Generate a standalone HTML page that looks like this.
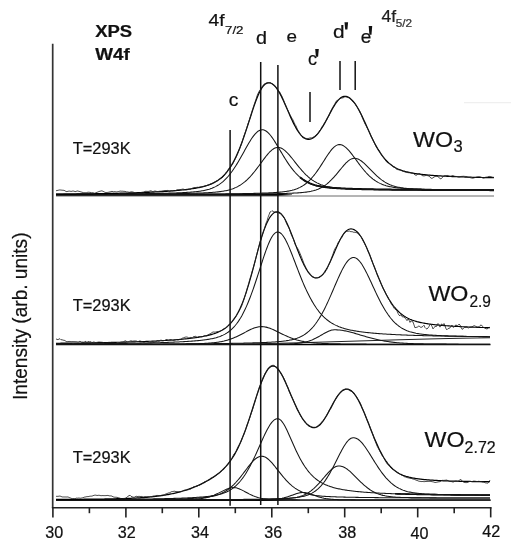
<!DOCTYPE html>
<html><head><meta charset="utf-8"><title>XPS W4f</title>
<style>
html,body{margin:0;padding:0;background:#fff;}
svg{display:block;font-family:"Liberation Sans",sans-serif;fill:#111;}
text{stroke:#111;stroke-width:0.22px;}
</style></head>
<body>
<svg width="511" height="550" viewBox="0 0 511 550">
<rect width="511" height="550" fill="#fff"/>
<path d="M464 102.6 H511" stroke="#efefef" stroke-width="1.2"/>
<g>
<path d="M56 196.0 H494" stroke="#5a5a5a" stroke-width="0.9" fill="none"/>
<path d="M56 194.7 H277" stroke="#000" stroke-width="2.0" fill="none"/>
<path d="M277 193.7 L292 194.39999999999998 L292 195.0 L277 195.7z" fill="#000" stroke="none"/>
<path d="M300.0 177.18 L301.0 178.00 L302.0 178.78 L303.0 179.50 L304.0 180.18 L305.0 180.81 L306.0 181.41 L307.0 181.96 L308.0 182.47 L309.0 182.94 L310.0 183.38 L311.0 183.79 L312.0 184.17 L313.0 184.52 L314.0 184.84 L315.0 185.14 L316.0 185.41 L317.0 185.67 L318.0 185.90 L319.0 186.12 L320.0 186.32 L321.0 186.50 L322.0 186.67 L323.0 186.83 L324.0 186.98 L325.0 187.11 L326.0 187.24 L327.0 187.35 L328.0 187.46 L329.0 187.56 L330.0 187.66 L331.0 187.75 L332.0 187.83 L333.0 187.91 L334.0 187.98 L335.0 188.05 L336.0 188.12 L337.0 188.18 L338.0 188.24 L339.0 188.30 L340.0 188.35 L341.0 188.40 L342.0 188.45 L343.0 188.50 L344.0 188.54 L345.0 188.59 L346.0 188.63 L347.0 188.67 L348.0 188.71 L349.0 188.74 L350.0 188.78 L351.0 188.81 L352.0 188.85 L353.0 188.88 L354.0 188.91 L355.0 188.94 L356.0 188.97 L357.0 189.00 L358.0 189.03 L359.0 189.05 L360.0 189.08 L361.0 189.11 L362.0 189.13 L363.0 189.15 L364.0 189.18 L365.0 189.20 L366.0 189.22 L367.0 189.24 L368.0 189.26 L369.0 189.28 L370.0 189.30 L371.0 189.32 L372.0 189.34 L373.0 189.36 L374.0 189.38 L375.0 189.39 L376.0 189.41 L377.0 189.43 L378.0 189.44 L379.0 189.46 L380.0 189.47 L381.0 189.49 L382.0 189.50 L383.0 189.52 L384.0 189.53 L385.0 189.54 L386.0 189.56 L387.0 189.57 L388.0 189.58 L389.0 189.60 L390.0 189.61 L391.0 189.62 L392.0 189.63 L393.0 189.64 L394.0 189.65 L395.0 189.66 L396.0 189.67 L397.0 189.68 L398.0 189.69 L399.0 189.70 L400.0 189.71 L401.0 189.72 L402.0 189.73 L403.0 189.74 L404.0 189.75 L405.0 189.76 L406.0 189.77 L407.0 189.77 L408.0 189.78 L409.0 189.79 L410.0 189.80 L411.0 189.81 L412.0 189.81 L413.0 189.82 L414.0 189.83 L415.0 189.84 L416.0 189.84 L417.0 189.85 L418.0 189.86 L419.0 189.86 L420.0 189.87 L421.0 189.87 L422.0 189.88 L423.0 189.89 L424.0 189.89 L425.0 189.90 L426.0 189.90 L427.0 189.91 L428.0 189.92 L429.0 189.92 L430.0 189.93 L431.0 189.93 L432.0 189.94 L433.0 189.94 L434.0 189.95 L435.0 189.95 L436.0 189.96 L437.0 189.96 L438.0 189.97 L439.0 189.97 L440.0 189.97 L441.0 189.98 L442.0 189.98 L443.0 189.99 L444.0 189.99 L445.0 190.00 L446.0 190.00 L447.0 190.00 L448.0 190.01 L449.0 190.01 L450.0 190.02 L451.0 190.02 L452.0 190.02 L453.0 190.03 L454.0 190.03 L455.0 190.03 L456.0 190.04 L457.0 190.04 L458.0 190.04 L459.0 190.05 L460.0 190.05 L461.0 190.05 L462.0 190.06 L463.0 190.06 L464.0 190.06 L465.0 190.06 L466.0 190.07 L467.0 190.07 L468.0 190.07 L469.0 190.08 L470.0 190.08 L471.0 190.08 L472.0 190.08 L473.0 190.09 L474.0 190.09 L475.0 190.09 L476.0 190.09 L477.0 190.10 L478.0 190.10 L479.0 190.10 L480.0 190.10 L481.0 190.11 L482.0 190.11 L483.0 190.11 L484.0 190.11 L485.0 190.12 L486.0 190.12 L487.0 190.12 L488.0 190.12 L489.0 190.12 L490.0 190.13 L491.0 190.13 L492.0 190.13 L493.0 190.13 L494.0 190.13" stroke="#000" stroke-width="2.0" fill="none"/>
<path d="M56.0 194.31 L57.0 194.30 L58.0 194.30 L59.0 194.30 L60.0 194.29 L61.0 194.29 L62.0 194.29 L63.0 194.28 L64.0 194.28 L65.0 194.27 L66.0 194.27 L67.0 194.27 L68.0 194.26 L69.0 194.26 L70.0 194.26 L71.0 194.25 L72.0 194.25 L73.0 194.24 L74.0 194.24 L75.0 194.24 L76.0 194.23 L77.0 194.23 L78.0 194.22 L79.0 194.22 L80.0 194.21 L81.0 194.21 L82.0 194.21 L83.0 194.20 L84.0 194.20 L85.0 194.19 L86.0 194.19 L87.0 194.18 L88.0 194.18 L89.0 194.17 L90.0 194.17 L91.0 194.16 L92.0 194.16 L93.0 194.15 L94.0 194.14 L95.0 194.14 L96.0 194.13 L97.0 194.13 L98.0 194.12 L99.0 194.11 L100.0 194.11 L101.0 194.10 L102.0 194.10 L103.0 194.09 L104.0 194.08 L105.0 194.08 L106.0 194.07 L107.0 194.06 L108.0 194.05 L109.0 194.05 L110.0 194.04 L111.0 194.03 L112.0 194.02 L113.0 194.02 L114.0 194.01 L115.0 194.00 L116.0 193.99 L117.0 193.98 L118.0 193.97 L119.0 193.97 L120.0 193.96 L121.0 193.95 L122.0 193.94 L123.0 193.93 L124.0 193.92 L125.0 193.91 L126.0 193.90 L127.0 193.89 L128.0 193.88 L129.0 193.87 L130.0 193.86 L131.0 193.85 L132.0 193.83 L133.0 193.82 L134.0 193.81 L135.0 193.80 L136.0 193.78 L137.0 193.77 L138.0 193.76 L139.0 193.75 L140.0 193.73 L141.0 193.72 L142.0 193.70 L143.0 193.69 L144.0 193.67 L145.0 193.66 L146.0 193.64 L147.0 193.63 L148.0 193.61 L149.0 193.59 L150.0 193.57 L151.0 193.56 L152.0 193.54 L153.0 193.52 L154.0 193.50 L155.0 193.48 L156.0 193.46 L157.0 193.44 L158.0 193.42 L159.0 193.40 L160.0 193.37 L161.0 193.35 L162.0 193.33 L163.0 193.30 L164.0 193.28 L165.0 193.25 L166.0 193.22 L167.0 193.20 L168.0 193.17 L169.0 193.14 L170.0 193.11 L171.0 193.08 L172.0 193.05 L173.0 193.01 L174.0 192.98 L175.0 192.94 L176.0 192.91 L177.0 192.87 L178.0 192.83 L179.0 192.79 L180.0 192.74 L181.0 192.70 L182.0 192.65 L183.0 192.60 L184.0 192.55 L185.0 192.50 L186.0 192.44 L187.0 192.38 L188.0 192.32 L189.0 192.26 L190.0 192.19 L191.0 192.11 L192.0 192.03 L193.0 191.95 L194.0 191.86 L195.0 191.76 L196.0 191.66 L197.0 191.54 L198.0 191.42 L199.0 191.29 L200.0 191.15 L201.0 191.00 L202.0 190.84 L203.0 190.66 L204.0 190.47 L205.0 190.26 L206.0 190.03 L207.0 189.78 L208.0 189.51 L209.0 189.22 L210.0 188.90 L211.0 188.55 L212.0 188.18 L213.0 187.77 L214.0 187.34 L215.0 186.86 L216.0 186.35 L217.0 185.80 L218.0 185.20 L219.0 184.57 L220.0 183.88 L221.0 183.15 L222.0 182.36 L223.0 181.53 L224.0 180.64 L225.0 179.69 L226.0 178.69 L227.0 177.63 L228.0 176.51 L229.0 175.33 L230.0 174.09 L231.0 172.80 L232.0 171.44 L233.0 170.03 L234.0 168.57 L235.0 167.05 L236.0 165.48 L237.0 163.86 L238.0 162.21 L239.0 160.51 L240.0 158.78 L241.0 157.02 L242.0 155.23 L243.0 153.44 L244.0 151.63 L245.0 149.83 L246.0 148.03 L247.0 146.26 L248.0 144.51 L249.0 142.80 L250.0 141.15 L251.0 139.56 L252.0 138.05 L253.0 136.63 L254.0 135.31 L255.0 134.10 L256.0 133.03 L257.0 132.09 L258.0 131.30 L259.0 130.66 L260.0 130.20 L261.0 129.90 L262.0 129.77 L263.0 129.83 L264.0 130.05 L265.0 130.46 L266.0 131.02 L267.0 131.75 L268.0 132.62 L269.0 133.63 L270.0 134.76 L271.0 136.01 L272.0 137.35 L273.0 138.78 L274.0 140.29 L275.0 141.85 L276.0 143.46 L277.0 145.11 L278.0 146.79 L279.0 148.48 L280.0 150.18 L281.0 151.88 L282.0 153.56 L283.0 155.23 L284.0 156.88 L285.0 158.50 L286.0 160.08 L287.0 161.63 L288.0 163.13 L289.0 164.59 L290.0 166.00 L291.0 167.36 L292.0 168.67 L293.0 169.93 L294.0 171.13 L295.0 172.27 L296.0 173.36 L297.0 174.40 L298.0 175.38 L299.0 176.31 L300.0 177.18 L301.0 178.00 L302.0 178.78 L303.0 179.50 L304.0 180.18 L305.0 180.81 L306.0 181.41 L307.0 181.96 L308.0 182.47 L309.0 182.94 L310.0 183.38 L311.0 183.79 L312.0 184.17 L313.0 184.52 L314.0 184.84 L315.0 185.14 L316.0 185.41 L317.0 185.67 L318.0 185.90 L319.0 186.12 L320.0 186.32 L321.0 186.50 L322.0 186.67 L323.0 186.83 L324.0 186.98 L325.0 187.11 L326.0 187.24 L327.0 187.35 L328.0 187.46 L329.0 187.56 L330.0 187.66 L331.0 187.75 L332.0 187.83 L333.0 187.91 L334.0 187.98 L335.0 188.05 L336.0 188.12 L337.0 188.18 L338.0 188.24 L339.0 188.30 L340.0 188.35 L341.0 188.40 L342.0 188.45 L343.0 188.50 L344.0 188.54 L345.0 188.59 L346.0 188.63 L347.0 188.67 L348.0 188.71 L349.0 188.74 L350.0 188.78 L351.0 188.81 L352.0 188.85 L353.0 188.88 L354.0 188.91 L355.0 188.94 L356.0 188.97 L357.0 189.00 L358.0 189.03 L359.0 189.05 L360.0 189.08 L361.0 189.11 L362.0 189.13 L363.0 189.15 L364.0 189.18 L365.0 189.20 L366.0 189.22 L367.0 189.24 L368.0 189.26 L369.0 189.28 L370.0 189.30 L371.0 189.32 L372.0 189.34 L373.0 189.36 L374.0 189.38 L375.0 189.39 L376.0 189.41 L377.0 189.43 L378.0 189.44 L379.0 189.46 L380.0 189.47 L381.0 189.49 L382.0 189.50 L383.0 189.52 L384.0 189.53 L385.0 189.54 L386.0 189.56 L387.0 189.57 L388.0 189.58 L389.0 189.60 L390.0 189.61 L391.0 189.62 L392.0 189.63 L393.0 189.64 L394.0 189.65 L395.0 189.66 L396.0 189.67 L397.0 189.68 L398.0 189.69 L399.0 189.70 L400.0 189.71 L401.0 189.72 L402.0 189.73 L403.0 189.74 L404.0 189.75 L405.0 189.76 L406.0 189.77 L407.0 189.77 L408.0 189.78 L409.0 189.79 L410.0 189.80 L411.0 189.81 L412.0 189.81 L413.0 189.82 L414.0 189.83 L415.0 189.84 L416.0 189.84 L417.0 189.85 L418.0 189.86 L419.0 189.86 L420.0 189.87 L421.0 189.87 L422.0 189.88 L423.0 189.89 L424.0 189.89 L425.0 189.90 L426.0 189.90 L427.0 189.91 L428.0 189.92 L429.0 189.92 L430.0 189.93 L431.0 189.93 L432.0 189.94 L433.0 189.94 L434.0 189.95 L435.0 189.95 L436.0 189.96 L437.0 189.96 L438.0 189.97 L439.0 189.97 L440.0 189.97 L441.0 189.98 L442.0 189.98 L443.0 189.99 L444.0 189.99 L445.0 190.00 L446.0 190.00 L447.0 190.00 L448.0 190.01 L449.0 190.01 L450.0 190.02 L451.0 190.02 L452.0 190.02 L453.0 190.03 L454.0 190.03 L455.0 190.03 L456.0 190.04 L457.0 190.04 L458.0 190.04 L459.0 190.05 L460.0 190.05 L461.0 190.05 L462.0 190.06 L463.0 190.06 L464.0 190.06 L465.0 190.06 L466.0 190.07 L467.0 190.07 L468.0 190.07 L469.0 190.08 L470.0 190.08 L471.0 190.08 L472.0 190.08 L473.0 190.09 L474.0 190.09 L475.0 190.09 L476.0 190.09 L477.0 190.10 L478.0 190.10 L479.0 190.10 L480.0 190.10 L481.0 190.11 L482.0 190.11 L483.0 190.11 L484.0 190.11 L485.0 190.12 L486.0 190.12 L487.0 190.12 L488.0 190.12 L489.0 190.12 L490.0 190.13 L491.0 190.13 L492.0 190.13 L493.0 190.13 L494.0 190.13" stroke="#151515" stroke-width="1.05" fill="none"/>
<path d="M56.0 194.41 L57.0 194.41 L58.0 194.41 L59.0 194.40 L60.0 194.40 L61.0 194.40 L62.0 194.40 L63.0 194.40 L64.0 194.39 L65.0 194.39 L66.0 194.39 L67.0 194.39 L68.0 194.38 L69.0 194.38 L70.0 194.38 L71.0 194.38 L72.0 194.38 L73.0 194.37 L74.0 194.37 L75.0 194.37 L76.0 194.37 L77.0 194.36 L78.0 194.36 L79.0 194.36 L80.0 194.35 L81.0 194.35 L82.0 194.35 L83.0 194.35 L84.0 194.34 L85.0 194.34 L86.0 194.34 L87.0 194.33 L88.0 194.33 L89.0 194.33 L90.0 194.32 L91.0 194.32 L92.0 194.32 L93.0 194.31 L94.0 194.31 L95.0 194.31 L96.0 194.30 L97.0 194.30 L98.0 194.30 L99.0 194.29 L100.0 194.29 L101.0 194.29 L102.0 194.28 L103.0 194.28 L104.0 194.27 L105.0 194.27 L106.0 194.27 L107.0 194.26 L108.0 194.26 L109.0 194.25 L110.0 194.25 L111.0 194.25 L112.0 194.24 L113.0 194.24 L114.0 194.23 L115.0 194.23 L116.0 194.22 L117.0 194.22 L118.0 194.21 L119.0 194.21 L120.0 194.20 L121.0 194.20 L122.0 194.19 L123.0 194.19 L124.0 194.18 L125.0 194.17 L126.0 194.17 L127.0 194.16 L128.0 194.16 L129.0 194.15 L130.0 194.14 L131.0 194.14 L132.0 194.13 L133.0 194.13 L134.0 194.12 L135.0 194.11 L136.0 194.10 L137.0 194.10 L138.0 194.09 L139.0 194.08 L140.0 194.08 L141.0 194.07 L142.0 194.06 L143.0 194.05 L144.0 194.04 L145.0 194.04 L146.0 194.03 L147.0 194.02 L148.0 194.01 L149.0 194.00 L150.0 193.99 L151.0 193.98 L152.0 193.97 L153.0 193.96 L154.0 193.95 L155.0 193.94 L156.0 193.93 L157.0 193.92 L158.0 193.91 L159.0 193.90 L160.0 193.89 L161.0 193.87 L162.0 193.86 L163.0 193.85 L164.0 193.84 L165.0 193.82 L166.0 193.81 L167.0 193.80 L168.0 193.78 L169.0 193.77 L170.0 193.75 L171.0 193.74 L172.0 193.72 L173.0 193.70 L174.0 193.69 L175.0 193.67 L176.0 193.65 L177.0 193.64 L178.0 193.62 L179.0 193.60 L180.0 193.58 L181.0 193.56 L182.0 193.54 L183.0 193.52 L184.0 193.49 L185.0 193.47 L186.0 193.45 L187.0 193.43 L188.0 193.40 L189.0 193.38 L190.0 193.35 L191.0 193.32 L192.0 193.29 L193.0 193.26 L194.0 193.23 L195.0 193.20 L196.0 193.17 L197.0 193.14 L198.0 193.10 L199.0 193.07 L200.0 193.03 L201.0 192.99 L202.0 192.95 L203.0 192.91 L204.0 192.86 L205.0 192.82 L206.0 192.77 L207.0 192.71 L208.0 192.66 L209.0 192.60 L210.0 192.54 L211.0 192.47 L212.0 192.40 L213.0 192.33 L214.0 192.25 L215.0 192.17 L216.0 192.07 L217.0 191.98 L218.0 191.87 L219.0 191.76 L220.0 191.63 L221.0 191.50 L222.0 191.35 L223.0 191.20 L224.0 191.02 L225.0 190.84 L226.0 190.64 L227.0 190.42 L228.0 190.18 L229.0 189.92 L230.0 189.64 L231.0 189.34 L232.0 189.01 L233.0 188.65 L234.0 188.26 L235.0 187.84 L236.0 187.39 L237.0 186.91 L238.0 186.39 L239.0 185.83 L240.0 185.23 L241.0 184.59 L242.0 183.91 L243.0 183.18 L244.0 182.41 L245.0 181.60 L246.0 180.74 L247.0 179.83 L248.0 178.87 L249.0 177.87 L250.0 176.83 L251.0 175.74 L252.0 174.61 L253.0 173.43 L254.0 172.22 L255.0 170.97 L256.0 169.69 L257.0 168.39 L258.0 167.05 L259.0 165.70 L260.0 164.34 L261.0 162.97 L262.0 161.60 L263.0 160.24 L264.0 158.90 L265.0 157.58 L266.0 156.29 L267.0 155.05 L268.0 153.87 L269.0 152.76 L270.0 151.72 L271.0 150.77 L272.0 149.93 L273.0 149.19 L274.0 148.58 L275.0 148.09 L276.0 147.73 L277.0 147.52 L278.0 147.44 L279.0 147.51 L280.0 147.71 L281.0 148.05 L282.0 148.52 L283.0 149.11 L284.0 149.82 L285.0 150.63 L286.0 151.53 L287.0 152.51 L288.0 153.56 L289.0 154.67 L290.0 155.84 L291.0 157.04 L292.0 158.27 L293.0 159.52 L294.0 160.79 L295.0 162.06 L296.0 163.32 L297.0 164.58 L298.0 165.83 L299.0 167.05 L300.0 168.25 L301.0 169.43 L302.0 170.57 L303.0 171.68 L304.0 172.75 L305.0 173.78 L306.0 174.77 L307.0 175.71 L308.0 176.62 L309.0 177.48 L310.0 178.30 L311.0 179.08 L312.0 179.81 L313.0 180.50 L314.0 181.15 L315.0 181.75 L316.0 182.32 L317.0 182.86 L318.0 183.35 L319.0 183.81 L320.0 184.24 L321.0 184.64 L322.0 185.00 L323.0 185.34 L324.0 185.65 L325.0 185.94 L326.0 186.21 L327.0 186.45 L328.0 186.68 L329.0 186.88 L330.0 187.07 L331.0 187.25 L332.0 187.41 L333.0 187.55 L334.0 187.69 L335.0 187.81 L336.0 187.93 L337.0 188.03 L338.0 188.13 L339.0 188.22 L340.0 188.31 L341.0 188.38 L342.0 188.46 L343.0 188.52 L344.0 188.59 L345.0 188.65 L346.0 188.70 L347.0 188.75 L348.0 188.80 L349.0 188.85 L350.0 188.89 L351.0 188.93 L352.0 188.97 L353.0 189.01 L354.0 189.05 L355.0 189.08 L356.0 189.11 L357.0 189.14 L358.0 189.17 L359.0 189.20 L360.0 189.23 L361.0 189.26 L362.0 189.28 L363.0 189.31 L364.0 189.33 L365.0 189.36 L366.0 189.38 L367.0 189.40 L368.0 189.42 L369.0 189.44 L370.0 189.46 L371.0 189.48 L372.0 189.50 L373.0 189.52 L374.0 189.53 L375.0 189.55 L376.0 189.57 L377.0 189.58 L378.0 189.60 L379.0 189.61 L380.0 189.63 L381.0 189.64 L382.0 189.66 L383.0 189.67 L384.0 189.68 L385.0 189.70 L386.0 189.71 L387.0 189.72 L388.0 189.73 L389.0 189.74 L390.0 189.75 L391.0 189.77 L392.0 189.78 L393.0 189.79 L394.0 189.80 L395.0 189.81 L396.0 189.82 L397.0 189.82 L398.0 189.83 L399.0 189.84 L400.0 189.85 L401.0 189.86 L402.0 189.87 L403.0 189.88 L404.0 189.88 L405.0 189.89 L406.0 189.90 L407.0 189.91 L408.0 189.91 L409.0 189.92 L410.0 189.93 L411.0 189.93 L412.0 189.94 L413.0 189.95 L414.0 189.95 L415.0 189.96 L416.0 189.96 L417.0 189.97 L418.0 189.98 L419.0 189.98 L420.0 189.99 L421.0 189.99 L422.0 190.00 L423.0 190.00 L424.0 190.01 L425.0 190.01 L426.0 190.02 L427.0 190.02 L428.0 190.03 L429.0 190.03 L430.0 190.04 L431.0 190.04 L432.0 190.04 L433.0 190.05 L434.0 190.05 L435.0 190.06 L436.0 190.06 L437.0 190.06 L438.0 190.07 L439.0 190.07 L440.0 190.08 L441.0 190.08 L442.0 190.08 L443.0 190.09 L444.0 190.09 L445.0 190.09 L446.0 190.10 L447.0 190.10 L448.0 190.10 L449.0 190.11 L450.0 190.11 L451.0 190.11 L452.0 190.11 L453.0 190.12 L454.0 190.12 L455.0 190.12 L456.0 190.13 L457.0 190.13 L458.0 190.13 L459.0 190.13 L460.0 190.14 L461.0 190.14 L462.0 190.14 L463.0 190.14 L464.0 190.15 L465.0 190.15 L466.0 190.15 L467.0 190.15 L468.0 190.16 L469.0 190.16 L470.0 190.16 L471.0 190.16 L472.0 190.16 L473.0 190.17 L474.0 190.17 L475.0 190.17 L476.0 190.17 L477.0 190.17 L478.0 190.18 L479.0 190.18 L480.0 190.18 L481.0 190.18 L482.0 190.18 L483.0 190.18 L484.0 190.19 L485.0 190.19 L486.0 190.19 L487.0 190.19 L488.0 190.19 L489.0 190.19 L490.0 190.20 L491.0 190.20 L492.0 190.20 L493.0 190.20 L494.0 190.20" stroke="#151515" stroke-width="1.05" fill="none"/>
<path d="M56.0 194.49 L57.0 194.49 L58.0 194.49 L59.0 194.49 L60.0 194.49 L61.0 194.49 L62.0 194.49 L63.0 194.49 L64.0 194.49 L65.0 194.49 L66.0 194.49 L67.0 194.48 L68.0 194.48 L69.0 194.48 L70.0 194.48 L71.0 194.48 L72.0 194.48 L73.0 194.48 L74.0 194.48 L75.0 194.48 L76.0 194.47 L77.0 194.47 L78.0 194.47 L79.0 194.47 L80.0 194.47 L81.0 194.47 L82.0 194.47 L83.0 194.47 L84.0 194.47 L85.0 194.46 L86.0 194.46 L87.0 194.46 L88.0 194.46 L89.0 194.46 L90.0 194.46 L91.0 194.46 L92.0 194.46 L93.0 194.45 L94.0 194.45 L95.0 194.45 L96.0 194.45 L97.0 194.45 L98.0 194.45 L99.0 194.45 L100.0 194.44 L101.0 194.44 L102.0 194.44 L103.0 194.44 L104.0 194.44 L105.0 194.44 L106.0 194.43 L107.0 194.43 L108.0 194.43 L109.0 194.43 L110.0 194.43 L111.0 194.43 L112.0 194.43 L113.0 194.42 L114.0 194.42 L115.0 194.42 L116.0 194.42 L117.0 194.42 L118.0 194.41 L119.0 194.41 L120.0 194.41 L121.0 194.41 L122.0 194.41 L123.0 194.41 L124.0 194.40 L125.0 194.40 L126.0 194.40 L127.0 194.40 L128.0 194.40 L129.0 194.39 L130.0 194.39 L131.0 194.39 L132.0 194.39 L133.0 194.38 L134.0 194.38 L135.0 194.38 L136.0 194.38 L137.0 194.38 L138.0 194.37 L139.0 194.37 L140.0 194.37 L141.0 194.37 L142.0 194.36 L143.0 194.36 L144.0 194.36 L145.0 194.36 L146.0 194.35 L147.0 194.35 L148.0 194.35 L149.0 194.34 L150.0 194.34 L151.0 194.34 L152.0 194.34 L153.0 194.33 L154.0 194.33 L155.0 194.33 L156.0 194.32 L157.0 194.32 L158.0 194.32 L159.0 194.31 L160.0 194.31 L161.0 194.31 L162.0 194.30 L163.0 194.30 L164.0 194.30 L165.0 194.29 L166.0 194.29 L167.0 194.29 L168.0 194.28 L169.0 194.28 L170.0 194.28 L171.0 194.27 L172.0 194.27 L173.0 194.26 L174.0 194.26 L175.0 194.26 L176.0 194.25 L177.0 194.25 L178.0 194.24 L179.0 194.24 L180.0 194.23 L181.0 194.23 L182.0 194.22 L183.0 194.22 L184.0 194.21 L185.0 194.21 L186.0 194.20 L187.0 194.20 L188.0 194.19 L189.0 194.19 L190.0 194.18 L191.0 194.18 L192.0 194.17 L193.0 194.17 L194.0 194.16 L195.0 194.15 L196.0 194.15 L197.0 194.14 L198.0 194.13 L199.0 194.13 L200.0 194.12 L201.0 194.11 L202.0 194.11 L203.0 194.10 L204.0 194.09 L205.0 194.09 L206.0 194.08 L207.0 194.07 L208.0 194.06 L209.0 194.06 L210.0 194.05 L211.0 194.04 L212.0 194.03 L213.0 194.02 L214.0 194.01 L215.0 194.00 L216.0 193.99 L217.0 193.98 L218.0 193.97 L219.0 193.96 L220.0 193.95 L221.0 193.94 L222.0 193.93 L223.0 193.92 L224.0 193.91 L225.0 193.90 L226.0 193.89 L227.0 193.87 L228.0 193.86 L229.0 193.85 L230.0 193.84 L231.0 193.82 L232.0 193.81 L233.0 193.80 L234.0 193.78 L235.0 193.77 L236.0 193.75 L237.0 193.73 L238.0 193.72 L239.0 193.70 L240.0 193.68 L241.0 193.67 L242.0 193.65 L243.0 193.63 L244.0 193.61 L245.0 193.59 L246.0 193.57 L247.0 193.55 L248.0 193.53 L249.0 193.51 L250.0 193.48 L251.0 193.46 L252.0 193.44 L253.0 193.41 L254.0 193.38 L255.0 193.36 L256.0 193.33 L257.0 193.30 L258.0 193.27 L259.0 193.24 L260.0 193.21 L261.0 193.18 L262.0 193.14 L263.0 193.11 L264.0 193.07 L265.0 193.03 L266.0 192.99 L267.0 192.95 L268.0 192.91 L269.0 192.86 L270.0 192.81 L271.0 192.76 L272.0 192.71 L273.0 192.65 L274.0 192.59 L275.0 192.53 L276.0 192.46 L277.0 192.39 L278.0 192.31 L279.0 192.23 L280.0 192.14 L281.0 192.05 L282.0 191.95 L283.0 191.84 L284.0 191.72 L285.0 191.59 L286.0 191.45 L287.0 191.29 L288.0 191.12 L289.0 190.94 L290.0 190.74 L291.0 190.52 L292.0 190.28 L293.0 190.01 L294.0 189.73 L295.0 189.41 L296.0 189.07 L297.0 188.69 L298.0 188.28 L299.0 187.83 L300.0 187.35 L301.0 186.82 L302.0 186.25 L303.0 185.63 L304.0 184.97 L305.0 184.25 L306.0 183.48 L307.0 182.66 L308.0 181.78 L309.0 180.85 L310.0 179.86 L311.0 178.81 L312.0 177.70 L313.0 176.53 L314.0 175.31 L315.0 174.04 L316.0 172.71 L317.0 171.33 L318.0 169.91 L319.0 168.44 L320.0 166.94 L321.0 165.41 L322.0 163.85 L323.0 162.28 L324.0 160.70 L325.0 159.13 L326.0 157.56 L327.0 156.03 L328.0 154.53 L329.0 153.08 L330.0 151.70 L331.0 150.40 L332.0 149.20 L333.0 148.10 L334.0 147.13 L335.0 146.31 L336.0 145.63 L337.0 145.12 L338.0 144.78 L339.0 144.61 L340.0 144.61 L341.0 144.76 L342.0 145.06 L343.0 145.51 L344.0 146.09 L345.0 146.80 L346.0 147.63 L347.0 148.56 L348.0 149.59 L349.0 150.70 L350.0 151.88 L351.0 153.12 L352.0 154.41 L353.0 155.73 L354.0 157.07 L355.0 158.44 L356.0 159.81 L357.0 161.18 L358.0 162.54 L359.0 163.89 L360.0 165.21 L361.0 166.52 L362.0 167.79 L363.0 169.03 L364.0 170.23 L365.0 171.39 L366.0 172.51 L367.0 173.58 L368.0 174.61 L369.0 175.60 L370.0 176.53 L371.0 177.42 L372.0 178.26 L373.0 179.05 L374.0 179.80 L375.0 180.50 L376.0 181.16 L377.0 181.77 L378.0 182.34 L379.0 182.88 L380.0 183.37 L381.0 183.83 L382.0 184.26 L383.0 184.65 L384.0 185.02 L385.0 185.35 L386.0 185.66 L387.0 185.94 L388.0 186.20 L389.0 186.44 L390.0 186.66 L391.0 186.86 L392.0 187.05 L393.0 187.22 L394.0 187.37 L395.0 187.52 L396.0 187.65 L397.0 187.77 L398.0 187.88 L399.0 187.98 L400.0 188.08 L401.0 188.17 L402.0 188.25 L403.0 188.32 L404.0 188.40 L405.0 188.46 L406.0 188.52 L407.0 188.58 L408.0 188.64 L409.0 188.69 L410.0 188.74 L411.0 188.78 L412.0 188.83 L413.0 188.87 L414.0 188.91 L415.0 188.95 L416.0 188.98 L417.0 189.02 L418.0 189.05 L419.0 189.08 L420.0 189.11 L421.0 189.14 L422.0 189.17 L423.0 189.20 L424.0 189.22 L425.0 189.25 L426.0 189.27 L427.0 189.30 L428.0 189.32 L429.0 189.34 L430.0 189.37 L431.0 189.39 L432.0 189.41 L433.0 189.43 L434.0 189.44 L435.0 189.46 L436.0 189.48 L437.0 189.50 L438.0 189.51 L439.0 189.53 L440.0 189.55 L441.0 189.56 L442.0 189.58 L443.0 189.59 L444.0 189.61 L445.0 189.62 L446.0 189.63 L447.0 189.65 L448.0 189.66 L449.0 189.67 L450.0 189.68 L451.0 189.69 L452.0 189.71 L453.0 189.72 L454.0 189.73 L455.0 189.74 L456.0 189.75 L457.0 189.76 L458.0 189.77 L459.0 189.78 L460.0 189.79 L461.0 189.80 L462.0 189.81 L463.0 189.81 L464.0 189.82 L465.0 189.83 L466.0 189.84 L467.0 189.85 L468.0 189.85 L469.0 189.86 L470.0 189.87 L471.0 189.88 L472.0 189.88 L473.0 189.89 L474.0 189.90 L475.0 189.90 L476.0 189.91 L477.0 189.92 L478.0 189.92 L479.0 189.93 L480.0 189.93 L481.0 189.94 L482.0 189.95 L483.0 189.95 L484.0 189.96 L485.0 189.96 L486.0 189.97 L487.0 189.97 L488.0 189.98 L489.0 189.98 L490.0 189.99 L491.0 189.99 L492.0 190.00 L493.0 190.00 L494.0 190.00" stroke="#151515" stroke-width="1.05" fill="none"/>
<path d="M56.0 194.54 L57.0 194.54 L58.0 194.54 L59.0 194.54 L60.0 194.54 L61.0 194.54 L62.0 194.54 L63.0 194.54 L64.0 194.54 L65.0 194.54 L66.0 194.54 L67.0 194.54 L68.0 194.53 L69.0 194.53 L70.0 194.53 L71.0 194.53 L72.0 194.53 L73.0 194.53 L74.0 194.53 L75.0 194.53 L76.0 194.53 L77.0 194.53 L78.0 194.53 L79.0 194.53 L80.0 194.53 L81.0 194.53 L82.0 194.53 L83.0 194.52 L84.0 194.52 L85.0 194.52 L86.0 194.52 L87.0 194.52 L88.0 194.52 L89.0 194.52 L90.0 194.52 L91.0 194.52 L92.0 194.52 L93.0 194.52 L94.0 194.52 L95.0 194.52 L96.0 194.52 L97.0 194.51 L98.0 194.51 L99.0 194.51 L100.0 194.51 L101.0 194.51 L102.0 194.51 L103.0 194.51 L104.0 194.51 L105.0 194.51 L106.0 194.51 L107.0 194.51 L108.0 194.51 L109.0 194.50 L110.0 194.50 L111.0 194.50 L112.0 194.50 L113.0 194.50 L114.0 194.50 L115.0 194.50 L116.0 194.50 L117.0 194.50 L118.0 194.50 L119.0 194.49 L120.0 194.49 L121.0 194.49 L122.0 194.49 L123.0 194.49 L124.0 194.49 L125.0 194.49 L126.0 194.49 L127.0 194.49 L128.0 194.48 L129.0 194.48 L130.0 194.48 L131.0 194.48 L132.0 194.48 L133.0 194.48 L134.0 194.48 L135.0 194.48 L136.0 194.48 L137.0 194.47 L138.0 194.47 L139.0 194.47 L140.0 194.47 L141.0 194.47 L142.0 194.47 L143.0 194.47 L144.0 194.46 L145.0 194.46 L146.0 194.46 L147.0 194.46 L148.0 194.46 L149.0 194.46 L150.0 194.46 L151.0 194.45 L152.0 194.45 L153.0 194.45 L154.0 194.45 L155.0 194.45 L156.0 194.45 L157.0 194.44 L158.0 194.44 L159.0 194.44 L160.0 194.44 L161.0 194.44 L162.0 194.44 L163.0 194.43 L164.0 194.43 L165.0 194.43 L166.0 194.43 L167.0 194.43 L168.0 194.42 L169.0 194.42 L170.0 194.42 L171.0 194.42 L172.0 194.42 L173.0 194.41 L174.0 194.41 L175.0 194.41 L176.0 194.41 L177.0 194.41 L178.0 194.40 L179.0 194.40 L180.0 194.40 L181.0 194.40 L182.0 194.39 L183.0 194.39 L184.0 194.39 L185.0 194.39 L186.0 194.38 L187.0 194.38 L188.0 194.38 L189.0 194.38 L190.0 194.37 L191.0 194.37 L192.0 194.37 L193.0 194.36 L194.0 194.36 L195.0 194.36 L196.0 194.36 L197.0 194.35 L198.0 194.35 L199.0 194.35 L200.0 194.34 L201.0 194.34 L202.0 194.34 L203.0 194.33 L204.0 194.33 L205.0 194.33 L206.0 194.32 L207.0 194.32 L208.0 194.31 L209.0 194.31 L210.0 194.31 L211.0 194.30 L212.0 194.30 L213.0 194.29 L214.0 194.29 L215.0 194.29 L216.0 194.28 L217.0 194.28 L218.0 194.27 L219.0 194.27 L220.0 194.26 L221.0 194.26 L222.0 194.25 L223.0 194.25 L224.0 194.24 L225.0 194.24 L226.0 194.23 L227.0 194.23 L228.0 194.22 L229.0 194.21 L230.0 194.21 L231.0 194.20 L232.0 194.20 L233.0 194.19 L234.0 194.18 L235.0 194.18 L236.0 194.17 L237.0 194.16 L238.0 194.16 L239.0 194.15 L240.0 194.14 L241.0 194.13 L242.0 194.12 L243.0 194.12 L244.0 194.11 L245.0 194.10 L246.0 194.09 L247.0 194.08 L248.0 194.07 L249.0 194.06 L250.0 194.05 L251.0 194.04 L252.0 194.03 L253.0 194.02 L254.0 194.01 L255.0 194.00 L256.0 193.99 L257.0 193.98 L258.0 193.97 L259.0 193.95 L260.0 193.94 L261.0 193.93 L262.0 193.91 L263.0 193.90 L264.0 193.89 L265.0 193.87 L266.0 193.85 L267.0 193.84 L268.0 193.82 L269.0 193.81 L270.0 193.79 L271.0 193.77 L272.0 193.75 L273.0 193.73 L274.0 193.71 L275.0 193.69 L276.0 193.67 L277.0 193.65 L278.0 193.63 L279.0 193.60 L280.0 193.58 L281.0 193.55 L282.0 193.53 L283.0 193.50 L284.0 193.47 L285.0 193.44 L286.0 193.41 L287.0 193.37 L288.0 193.34 L289.0 193.30 L290.0 193.26 L291.0 193.22 L292.0 193.18 L293.0 193.14 L294.0 193.09 L295.0 193.04 L296.0 192.98 L297.0 192.92 L298.0 192.86 L299.0 192.79 L300.0 192.72 L301.0 192.64 L302.0 192.55 L303.0 192.45 L304.0 192.35 L305.0 192.23 L306.0 192.11 L307.0 191.97 L308.0 191.82 L309.0 191.65 L310.0 191.47 L311.0 191.27 L312.0 191.04 L313.0 190.80 L314.0 190.53 L315.0 190.23 L316.0 189.91 L317.0 189.55 L318.0 189.16 L319.0 188.74 L320.0 188.27 L321.0 187.77 L322.0 187.23 L323.0 186.64 L324.0 186.01 L325.0 185.33 L326.0 184.60 L327.0 183.83 L328.0 183.00 L329.0 182.13 L330.0 181.21 L331.0 180.25 L332.0 179.23 L333.0 178.18 L334.0 177.09 L335.0 175.96 L336.0 174.79 L337.0 173.60 L338.0 172.39 L339.0 171.17 L340.0 169.94 L341.0 168.71 L342.0 167.50 L343.0 166.30 L344.0 165.15 L345.0 164.04 L346.0 162.99 L347.0 162.01 L348.0 161.12 L349.0 160.33 L350.0 159.66 L351.0 159.11 L352.0 158.70 L353.0 158.42 L354.0 158.29 L355.0 158.30 L356.0 158.43 L357.0 158.68 L358.0 159.04 L359.0 159.52 L360.0 160.10 L361.0 160.76 L362.0 161.51 L363.0 162.33 L364.0 163.21 L365.0 164.13 L366.0 165.10 L367.0 166.09 L368.0 167.11 L369.0 168.14 L370.0 169.17 L371.0 170.20 L372.0 171.23 L373.0 172.24 L374.0 173.23 L375.0 174.20 L376.0 175.14 L377.0 176.05 L378.0 176.93 L379.0 177.78 L380.0 178.59 L381.0 179.37 L382.0 180.11 L383.0 180.81 L384.0 181.47 L385.0 182.09 L386.0 182.67 L387.0 183.22 L388.0 183.73 L389.0 184.21 L390.0 184.65 L391.0 185.06 L392.0 185.44 L393.0 185.79 L394.0 186.11 L395.0 186.40 L396.0 186.67 L397.0 186.92 L398.0 187.15 L399.0 187.36 L400.0 187.55 L401.0 187.72 L402.0 187.88 L403.0 188.02 L404.0 188.15 L405.0 188.27 L406.0 188.38 L407.0 188.48 L408.0 188.57 L409.0 188.65 L410.0 188.73 L411.0 188.80 L412.0 188.86 L413.0 188.92 L414.0 188.98 L415.0 189.03 L416.0 189.08 L417.0 189.12 L418.0 189.16 L419.0 189.20 L420.0 189.24 L421.0 189.27 L422.0 189.31 L423.0 189.34 L424.0 189.37 L425.0 189.40 L426.0 189.42 L427.0 189.45 L428.0 189.47 L429.0 189.49 L430.0 189.52 L431.0 189.54 L432.0 189.56 L433.0 189.58 L434.0 189.60 L435.0 189.62 L436.0 189.63 L437.0 189.65 L438.0 189.67 L439.0 189.68 L440.0 189.70 L441.0 189.71 L442.0 189.73 L443.0 189.74 L444.0 189.75 L445.0 189.77 L446.0 189.78 L447.0 189.79 L448.0 189.80 L449.0 189.81 L450.0 189.82 L451.0 189.84 L452.0 189.85 L453.0 189.86 L454.0 189.87 L455.0 189.87 L456.0 189.88 L457.0 189.89 L458.0 189.90 L459.0 189.91 L460.0 189.92 L461.0 189.93 L462.0 189.93 L463.0 189.94 L464.0 189.95 L465.0 189.96 L466.0 189.96 L467.0 189.97 L468.0 189.98 L469.0 189.98 L470.0 189.99 L471.0 189.99 L472.0 190.00 L473.0 190.01 L474.0 190.01 L475.0 190.02 L476.0 190.02 L477.0 190.03 L478.0 190.03 L479.0 190.04 L480.0 190.04 L481.0 190.05 L482.0 190.05 L483.0 190.06 L484.0 190.06 L485.0 190.07 L486.0 190.07 L487.0 190.07 L488.0 190.08 L489.0 190.08 L490.0 190.09 L491.0 190.09 L492.0 190.09 L493.0 190.10 L494.0 190.10" stroke="#151515" stroke-width="1.05" fill="none"/>
<path d="M56.0 194.23 L57.0 194.22 L58.0 194.21 L59.0 194.20 L60.0 194.19 L61.0 194.18 L62.0 194.17 L63.0 194.16 L64.0 194.15 L65.0 194.13 L66.0 194.12 L67.0 194.11 L68.0 194.10 L69.0 194.09 L70.0 194.08 L71.0 194.07 L72.0 194.06 L73.0 194.04 L74.0 194.03 L75.0 194.02 L76.0 194.01 L77.0 193.99 L78.0 193.98 L79.0 193.97 L80.0 193.96 L81.0 193.94 L82.0 193.93 L83.0 193.91 L84.0 193.90 L85.0 193.89 L86.0 193.87 L87.0 193.86 L88.0 193.84 L89.0 193.83 L90.0 193.81 L91.0 193.80 L92.0 193.78 L93.0 193.77 L94.0 193.75 L95.0 193.73 L96.0 193.72 L97.0 193.70 L98.0 193.68 L99.0 193.67 L100.0 193.65 L101.0 193.63 L102.0 193.61 L103.0 193.59 L104.0 193.57 L105.0 193.56 L106.0 193.54 L107.0 193.52 L108.0 193.50 L109.0 193.48 L110.0 193.45 L111.0 193.43 L112.0 193.41 L113.0 193.39 L114.0 193.37 L115.0 193.35 L116.0 193.32 L117.0 193.30 L118.0 193.28 L119.0 193.25 L120.0 193.23 L121.0 193.20 L122.0 193.18 L123.0 193.15 L124.0 193.12 L125.0 193.10 L126.0 193.07 L127.0 193.04 L128.0 193.01 L129.0 192.98 L130.0 192.95 L131.0 192.92 L132.0 192.89 L133.0 192.86 L134.0 192.83 L135.0 192.80 L136.0 192.76 L137.0 192.73 L138.0 192.69 L139.0 192.66 L140.0 192.62 L141.0 192.58 L142.0 192.55 L143.0 192.51 L144.0 192.47 L145.0 192.43 L146.0 192.39 L147.0 192.35 L148.0 192.30 L149.0 192.26 L150.0 192.21 L151.0 192.17 L152.0 192.12 L153.0 192.07 L154.0 192.02 L155.0 191.97 L156.0 191.92 L157.0 191.87 L158.0 191.82 L159.0 191.76 L160.0 191.70 L161.0 191.65 L162.0 191.59 L163.0 191.53 L164.0 191.46 L165.0 191.40 L166.0 191.33 L167.0 191.27 L168.0 191.20 L169.0 191.13 L170.0 191.05 L171.0 190.98 L172.0 190.90 L173.0 190.82 L174.0 190.74 L175.0 190.66 L176.0 190.57 L177.0 190.48 L178.0 190.39 L179.0 190.30 L180.0 190.20 L181.0 190.10 L182.0 190.00 L183.0 189.89 L184.0 189.78 L185.0 189.67 L186.0 189.55 L187.0 189.43 L188.0 189.30 L189.0 189.17 L190.0 189.03 L191.0 188.89 L192.0 188.75 L193.0 188.60 L194.0 188.44 L195.0 188.27 L196.0 188.10 L197.0 187.92 L198.0 187.73 L199.0 187.53 L200.0 187.33 L201.0 187.11 L202.0 186.88 L203.0 186.63 L204.0 186.37 L205.0 186.10 L206.0 185.81 L207.0 185.50 L208.0 185.17 L209.0 184.82 L210.0 184.45 L211.0 184.05 L212.0 183.62 L213.0 183.16 L214.0 182.67 L215.0 182.14 L216.0 181.58 L217.0 180.97 L218.0 180.32 L219.0 179.61 L220.0 178.86 L221.0 178.05 L222.0 177.18 L223.0 176.24 L224.0 175.24 L225.0 174.17 L226.0 173.03 L227.0 171.80 L228.0 170.50 L229.0 169.10 L230.0 167.62 L231.0 166.05 L232.0 164.38 L233.0 162.62 L234.0 160.75 L235.0 158.78 L236.0 156.71 L237.0 154.54 L238.0 152.27 L239.0 149.89 L240.0 147.41 L241.0 144.83 L242.0 142.16 L243.0 139.40 L244.0 136.56 L245.0 133.64 L246.0 130.66 L247.0 127.62 L248.0 124.54 L249.0 121.43 L250.0 118.31 L251.0 115.20 L252.0 112.12 L253.0 109.08 L254.0 106.12 L255.0 103.26 L256.0 100.51 L257.0 97.91 L258.0 95.48 L259.0 93.23 L260.0 91.17 L261.0 89.34 L262.0 87.73 L263.0 86.34 L264.0 85.19 L265.0 84.27 L266.0 83.57 L267.0 83.10 L268.0 82.83 L269.0 82.77 L270.0 82.90 L271.0 83.22 L272.0 83.73 L273.0 84.41 L274.0 85.26 L275.0 86.27 L276.0 87.45 L277.0 88.79 L278.0 90.28 L279.0 91.92 L280.0 93.69 L281.0 95.59 L282.0 97.60 L283.0 99.70 L284.0 101.89 L285.0 104.13 L286.0 106.42 L287.0 108.74 L288.0 111.06 L289.0 113.36 L290.0 115.64 L291.0 117.87 L292.0 120.04 L293.0 122.14 L294.0 124.15 L295.0 126.06 L296.0 127.87 L297.0 129.56 L298.0 131.13 L299.0 132.58 L300.0 133.89 L301.0 135.06 L302.0 136.10 L303.0 136.99 L304.0 137.74 L305.0 138.34 L306.0 138.80 L307.0 139.11 L308.0 139.28 L309.0 139.30 L310.0 139.18 L311.0 138.92 L312.0 138.52 L313.0 137.98 L314.0 137.31 L315.0 136.51 L316.0 135.58 L317.0 134.54 L318.0 133.38 L319.0 132.10 L320.0 130.73 L321.0 129.26 L322.0 127.70 L323.0 126.06 L324.0 124.34 L325.0 122.57 L326.0 120.75 L327.0 118.89 L328.0 117.01 L329.0 115.11 L330.0 113.23 L331.0 111.36 L332.0 109.54 L333.0 107.77 L334.0 106.08 L335.0 104.48 L336.0 102.99 L337.0 101.62 L338.0 100.39 L339.0 99.32 L340.0 98.40 L341.0 97.64 L342.0 97.06 L343.0 96.65 L344.0 96.41 L345.0 96.33 L346.0 96.43 L347.0 96.68 L348.0 97.08 L349.0 97.63 L350.0 98.32 L351.0 99.15 L352.0 100.11 L353.0 101.19 L354.0 102.41 L355.0 103.74 L356.0 105.19 L357.0 106.76 L358.0 108.44 L359.0 110.23 L360.0 112.11 L361.0 114.08 L362.0 116.13 L363.0 118.25 L364.0 120.42 L365.0 122.62 L366.0 124.85 L367.0 127.09 L368.0 129.33 L369.0 131.55 L370.0 133.74 L371.0 135.89 L372.0 138.00 L373.0 140.05 L374.0 142.04 L375.0 143.97 L376.0 145.83 L377.0 147.61 L378.0 149.32 L379.0 150.95 L380.0 152.50 L381.0 153.98 L382.0 155.38 L383.0 156.71 L384.0 157.95 L385.0 159.13 L386.0 160.24 L387.0 161.27 L388.0 162.24 L389.0 163.15 L390.0 164.00 L391.0 164.79 L392.0 165.53 L393.0 166.21 L394.0 166.85 L395.0 167.44 L396.0 167.99 L397.0 168.50 L398.0 168.97 L399.0 169.41 L400.0 169.82 L401.0 170.20 L402.0 170.55 L403.0 170.88 L404.0 171.18 L405.0 171.47 L406.0 171.73 L407.0 171.98 L408.0 172.22 L409.0 172.44 L410.0 172.64 L411.0 172.84 L412.0 173.02 L413.0 173.19 L414.0 173.36 L415.0 173.52 L416.0 173.66 L417.0 173.81 L418.0 173.94 L419.0 174.07 L420.0 174.19 L421.0 174.31 L422.0 174.43 L423.0 174.54 L424.0 174.64 L425.0 174.74 L426.0 174.84 L427.0 174.93 L428.0 175.02 L429.0 175.11 L430.0 175.20 L431.0 175.28 L432.0 175.36 L433.0 175.44 L434.0 175.51 L435.0 175.58 L436.0 175.65 L437.0 175.72 L438.0 175.79 L439.0 175.85 L440.0 175.91 L441.0 175.98 L442.0 176.03 L443.0 176.09 L444.0 176.15 L445.0 176.20 L446.0 176.25 L447.0 176.31 L448.0 176.36 L449.0 176.40 L450.0 176.45 L451.0 176.50 L452.0 176.54 L453.0 176.59 L454.0 176.63 L455.0 176.67 L456.0 176.71 L457.0 176.75 L458.0 176.79 L459.0 176.83 L460.0 176.87 L461.0 176.90 L462.0 176.94 L463.0 176.97 L464.0 177.00 L465.0 177.04 L466.0 177.07 L467.0 177.10 L468.0 177.13 L469.0 177.16 L470.0 177.19 L471.0 177.22 L472.0 177.25 L473.0 177.27 L474.0 177.30 L475.0 177.33 L476.0 177.35 L477.0 177.38 L478.0 177.40 L479.0 177.43 L480.0 177.45 L481.0 177.47 L482.0 177.50 L483.0 177.52 L484.0 177.54 L485.0 177.56 L486.0 177.58 L487.0 177.60 L488.0 177.62 L489.0 177.64 L490.0 177.66 L491.0 177.68 L492.0 177.70 L493.0 177.72 L494.0 177.74" stroke="#000" stroke-width="1.25" fill="none"/>
<path d="M56.0 190.73 L57.0 190.54 L58.0 190.34 L59.0 190.02 L60.0 189.94 L61.0 190.08 L62.0 190.16 L63.0 190.28 L64.0 190.32 L65.0 190.81 L66.0 191.51 L67.0 191.62 L68.0 191.26 L69.0 191.15 L70.0 191.08 L71.0 191.51 L72.0 191.18 L73.0 191.00 L74.0 191.17 L75.0 191.59 L76.0 191.53 L77.0 190.91 L78.0 191.07 L79.0 191.38 L80.0 191.57 L81.0 191.97 L82.0 192.16 L83.0 192.58 L84.0 192.80 L85.0 192.59 L86.0 192.84 L87.0 192.56 L88.0 192.13 L89.0 192.34 L90.0 192.28 L91.0 192.68 L92.0 192.87 L93.0 192.53 L94.0 193.19 L95.0 193.19 L96.0 192.61 L97.0 192.31 L98.0 191.95 L99.0 191.53 L100.0 191.23 L101.0 191.00 L102.0 190.77 L103.0 191.42 L104.0 191.75 L105.0 192.43 L106.0 192.46 L107.0 192.50 L108.0 192.31 L109.0 192.11 L110.0 191.86 L111.0 191.70 L112.0 191.25 L113.0 191.72 L114.0 191.92 L115.0 191.46 L116.0 192.08 L117.0 191.73 L118.0 191.80 L119.0 191.44 L120.0 191.10 L121.0 191.05 L122.0 191.33 L123.0 191.05 L124.0 191.55 L125.0 191.20 L126.0 191.88 L127.0 191.93 L128.0 191.94 L129.0 192.25 L130.0 192.26 L131.0 191.69 L132.0 191.99 L133.0 191.87 L134.0 192.55 L135.0 192.88 L136.0 192.81 L137.0 192.94 L138.0 193.39 L139.0 193.28 L140.0 193.19 L141.0 192.55 L142.0 192.17 L143.0 192.20 L144.0 192.13 L145.0 191.42 L146.0 191.28 L147.0 191.41 L148.0 191.38 L149.0 191.37 L150.0 190.88 L151.0 190.75 L152.0 191.30 L153.0 191.62 L154.0 191.16 L155.0 191.03 L156.0 191.23 L157.0 191.50 L158.0 191.58 L159.0 191.26 L160.0 191.21 L161.0 191.20 L162.0 191.03 L163.0 190.76 L164.0 190.85 L165.0 190.40 L166.0 190.66 L167.0 190.35 L168.0 190.56 L169.0 191.07 L170.0 191.07 L171.0 190.75 L172.0 191.00 L173.0 190.72 L174.0 190.88 L175.0 190.80 L176.0 190.37 L177.0 189.92 L178.0 189.72 L179.0 189.73 L180.0 189.58 L181.0 189.45 L182.0 189.29 L183.0 188.97 L184.0 189.40 L185.0 189.84 L186.0 189.81 L187.0 189.80 L188.0 189.55 L189.0 189.05 L190.0 189.27 L191.0 188.86 L192.0 188.25 L193.0 187.94 L194.0 187.62 L195.0 187.38 L196.0 187.68 L197.0 187.11 L198.0 187.36 L199.0 187.24 L200.0 187.01 L201.0 186.88 L202.0 186.92 L203.0 186.50 L204.0 186.52 L205.0 185.76 L206.0 185.66 L207.0 185.34 L208.0 185.17 L209.0 184.95 L210.0 183.98 L211.0 183.57 L212.0 183.69 L213.0 182.75 L214.0 182.52 L215.0 181.85 L216.0 180.81 L217.0 180.94 L218.0 180.37 L219.0 179.46 L220.0 179.05 L221.0 178.36 L222.0 177.85 L223.0 177.14 L224.0 175.77 L225.0 174.47 L226.0 172.83 L227.0 171.42 L228.0 169.88 L229.0 168.24 L230.0 167.18 L231.0 166.05 L232.0 164.75 L233.0 163.30 L234.0 161.45 L235.0 159.50 L236.0 157.53 L237.0 155.26 L238.0 152.80 L239.0 150.14 L240.0 147.63 L241.0 145.37 L242.0 142.14 L243.0 138.99 L244.0 135.83 L245.0 133.00 L246.0 130.15 L247.0 127.17 L248.0 123.93 L249.0 121.15 L250.0 118.13 L251.0 114.70 L252.0 111.25 L253.0 108.17 L254.0 105.16 L255.0 102.37 L256.0 99.37 L257.0 96.02 L258.0 93.48 L259.0 91.55 L260.0 90.05 L261.0 88.75 L262.0 86.81 L263.0 85.30 L264.0 84.48 L265.0 83.51 L266.0 83.36 L267.0 82.84 L268.0 82.78 L269.0 82.60 L270.0 82.77 L271.0 82.80 L272.0 83.84 L273.0 84.42 L274.0 85.11 L275.0 86.05 L276.0 87.35 L277.0 88.51 L278.0 90.44 L279.0 91.39 L280.0 92.55 L281.0 94.52 L282.0 96.40 L283.0 98.84 L284.0 101.13 L285.0 103.60 L286.0 106.03 L287.0 108.43 L288.0 110.57 L289.0 112.80 L290.0 114.74 L291.0 116.59 L292.0 118.35 L293.0 119.94 L294.0 122.26 L295.0 124.37 L296.0 125.94 L297.0 128.40 L298.0 130.51 L299.0 132.03 L300.0 133.99 L301.0 135.44 L302.0 136.65 L303.0 138.07 L304.0 137.70 L305.0 138.04 L306.0 138.57 L307.0 138.39 L308.0 138.58 L309.0 138.26 L310.0 137.92 L311.0 137.90 L312.0 137.95 L313.0 137.23 L314.0 136.82 L315.0 136.23 L316.0 135.26 L317.0 134.49 L318.0 133.33 L319.0 131.63 L320.0 130.27 L321.0 128.81 L322.0 126.80 L323.0 125.80 L324.0 123.88 L325.0 122.60 L326.0 120.83 L327.0 119.13 L328.0 117.13 L329.0 115.62 L330.0 112.92 L331.0 110.57 L332.0 108.65 L333.0 106.95 L334.0 105.19 L335.0 103.44 L336.0 101.35 L337.0 100.66 L338.0 100.07 L339.0 99.18 L340.0 98.50 L341.0 98.17 L342.0 97.79 L343.0 98.05 L344.0 97.21 L345.0 96.80 L346.0 96.89 L347.0 97.12 L348.0 97.30 L349.0 97.62 L350.0 98.25 L351.0 99.73 L352.0 100.90 L353.0 101.68 L354.0 102.81 L355.0 103.65 L356.0 105.36 L357.0 106.64 L358.0 108.18 L359.0 109.97 L360.0 111.97 L361.0 114.30 L362.0 116.64 L363.0 119.20 L364.0 121.48 L365.0 123.82 L366.0 125.60 L367.0 127.73 L368.0 129.28 L369.0 131.36 L370.0 133.44 L371.0 136.09 L372.0 137.95 L373.0 140.25 L374.0 142.29 L375.0 144.24 L376.0 146.09 L377.0 147.91 L378.0 149.05 L379.0 150.18 L380.0 152.06 L381.0 154.00 L382.0 155.62 L383.0 157.26 L384.0 158.09 L385.0 159.52 L386.0 161.04 L387.0 162.44 L388.0 162.78 L389.0 163.28 L390.0 163.74 L391.0 164.96 L392.0 165.43 L393.0 166.79 L394.0 166.88 L395.0 167.67 L396.0 168.79 L397.0 169.51 L398.0 169.62 L399.0 169.92 L400.0 169.64 L401.0 170.03 L402.0 170.80 L403.0 171.16 L404.0 171.65 L405.0 171.90 L406.0 172.37 L407.0 172.32 L408.0 172.80 L409.0 172.64 L410.0 172.54 L411.0 172.68 L412.0 172.82 L413.0 173.12 L414.0 174.03 L415.0 174.80 L416.0 175.38 L417.0 174.86 L418.0 173.88 L419.0 173.69 L420.0 173.58 L421.0 174.70 L422.0 175.29 L423.0 175.99 L424.0 175.74 L425.0 175.86 L426.0 175.27 L427.0 175.42 L428.0 175.83 L429.0 175.95 L430.0 177.24 L431.0 177.99 L432.0 178.53 L433.0 177.64 L434.0 177.24 L435.0 176.34 L436.0 176.44 L437.0 176.28 L438.0 176.69 L439.0 177.57 L440.0 178.49 L441.0 178.97 L442.0 177.67 L443.0 176.78 L444.0 175.95 L445.0 175.63 L446.0 175.57 L447.0 175.47 L448.0 175.48 L449.0 176.18 L450.0 176.32 L451.0 176.20 L452.0 175.62 L453.0 175.63 L454.0 175.97 L455.0 176.44 L456.0 176.36 L457.0 176.60 L458.0 176.63 L459.0 176.85 L460.0 176.78 L461.0 176.43 L462.0 176.42 L463.0 176.29 L464.0 176.27 L465.0 176.47 L466.0 176.47 L467.0 176.67 L468.0 177.37 L469.0 177.35 L470.0 177.62 L471.0 177.90 L472.0 178.11 L473.0 178.20 L474.0 177.85 L475.0 177.57 L476.0 177.32 L477.0 176.93 L478.0 176.88 L479.0 176.74 L480.0 176.98 L481.0 177.34 L482.0 177.60 L483.0 177.92 L484.0 177.97 L485.0 177.46 L486.0 177.07 L487.0 177.15 L488.0 176.80 L489.0 176.32 L490.0 176.56 L491.0 176.65 L492.0 177.02 L493.0 177.33 L494.0 177.30" stroke="#222" stroke-width="0.8" fill="none"/>
<path d="M56 344.5 H490.5" stroke="#000" stroke-width="1.7" fill="none"/>
<path d="M56.0 344.50 L57.0 344.50 L58.0 344.50 L59.0 344.50 L60.0 344.50 L61.0 344.50 L62.0 344.50 L63.0 344.50 L64.0 344.50 L65.0 344.50 L66.0 344.50 L67.0 344.50 L68.0 344.50 L69.0 344.50 L70.0 344.50 L71.0 344.50 L72.0 344.50 L73.0 344.50 L74.0 344.50 L75.0 344.50 L76.0 344.50 L77.0 344.50 L78.0 344.50 L79.0 344.50 L80.0 344.50 L81.0 344.50 L82.0 344.50 L83.0 344.50 L84.0 344.50 L85.0 344.50 L86.0 344.50 L87.0 344.50 L88.0 344.50 L89.0 344.50 L90.0 344.50 L91.0 344.50 L92.0 344.50 L93.0 344.50 L94.0 344.50 L95.0 344.50 L96.0 344.50 L97.0 344.50 L98.0 344.50 L99.0 344.50 L100.0 344.50 L101.0 344.50 L102.0 344.50 L103.0 344.50 L104.0 344.50 L105.0 344.50 L106.0 344.50 L107.0 344.50 L108.0 344.50 L109.0 344.50 L110.0 344.50 L111.0 344.50 L112.0 344.50 L113.0 344.50 L114.0 344.50 L115.0 344.50 L116.0 344.50 L117.0 344.50 L118.0 344.50 L119.0 344.50 L120.0 344.50 L121.0 344.50 L122.0 344.50 L123.0 344.50 L124.0 344.50 L125.0 344.50 L126.0 344.50 L127.0 344.50 L128.0 344.50 L129.0 344.50 L130.0 344.50 L131.0 344.50 L132.0 344.50 L133.0 344.50 L134.0 344.50 L135.0 344.50 L136.0 344.50 L137.0 344.50 L138.0 344.50 L139.0 344.50 L140.0 344.50 L141.0 344.50 L142.0 344.50 L143.0 344.50 L144.0 344.50 L145.0 344.50 L146.0 344.50 L147.0 344.50 L148.0 344.50 L149.0 344.50 L150.0 344.50 L151.0 344.50 L152.0 344.50 L153.0 344.50 L154.0 344.50 L155.0 344.50 L156.0 344.50 L157.0 344.50 L158.0 344.50 L159.0 344.50 L160.0 344.50 L161.0 344.50 L162.0 344.50 L163.0 344.50 L164.0 344.50 L165.0 344.50 L166.0 344.50 L167.0 344.50 L168.0 344.50 L169.0 344.50 L170.0 344.50 L171.0 344.50 L172.0 344.50 L173.0 344.50 L174.0 344.50 L175.0 344.50 L176.0 344.50 L177.0 344.50 L178.0 344.50 L179.0 344.50 L180.0 344.50 L181.0 344.50 L182.0 344.50 L183.0 344.50 L184.0 344.50 L185.0 344.50 L186.0 344.50 L187.0 344.50 L188.0 344.50 L189.0 344.50 L190.0 344.50 L191.0 344.50 L192.0 344.50 L193.0 344.50 L194.0 344.50 L195.0 344.50 L196.0 344.50 L197.0 344.50 L198.0 344.50 L199.0 344.50 L200.0 344.50 L201.0 344.50 L202.0 344.50 L203.0 344.50 L204.0 344.50 L205.0 344.50 L206.0 344.50 L207.0 344.50 L208.0 344.50 L209.0 344.50 L210.0 344.50 L211.0 344.50 L212.0 344.50 L213.0 344.50 L214.0 344.50 L215.0 344.50 L216.0 344.49 L217.0 344.48 L218.0 344.46 L219.0 344.45 L220.0 344.44 L221.0 344.42 L222.0 344.41 L223.0 344.39 L224.0 344.38 L225.0 344.37 L226.0 344.35 L227.0 344.34 L228.0 344.32 L229.0 344.31 L230.0 344.29 L231.0 344.27 L232.0 344.26 L233.0 344.24 L234.0 344.22 L235.0 344.21 L236.0 344.19 L237.0 344.17 L238.0 344.16 L239.0 344.14 L240.0 344.12 L241.0 344.10 L242.0 344.08 L243.0 344.06 L244.0 344.05 L245.0 344.03 L246.0 344.01 L247.0 343.99 L248.0 343.97 L249.0 343.95 L250.0 343.93 L251.0 343.91 L252.0 343.89 L253.0 343.87 L254.0 343.85 L255.0 343.83 L256.0 343.80 L257.0 343.78 L258.0 343.76 L259.0 343.74 L260.0 343.72 L261.0 343.70 L262.0 343.67 L263.0 343.65 L264.0 343.63 L265.0 343.61 L266.0 343.58 L267.0 343.56 L268.0 343.54 L269.0 343.51 L270.0 343.49 L271.0 343.47 L272.0 343.44 L273.0 343.42 L274.0 343.39 L275.0 343.37 L276.0 343.35 L277.0 343.32 L278.0 343.30 L279.0 343.27 L280.0 343.25 L281.0 343.22 L282.0 343.20 L283.0 343.17 L284.0 343.14 L285.0 343.12 L286.0 343.09 L287.0 343.07 L288.0 343.04 L289.0 343.01 L290.0 342.99 L291.0 342.96 L292.0 342.94 L293.0 342.91 L294.0 342.88 L295.0 342.85 L296.0 342.83 L297.0 342.80 L298.0 342.77 L299.0 342.75 L300.0 342.72 L301.0 342.69 L302.0 342.66 L303.0 342.64 L304.0 342.61 L305.0 342.58 L306.0 342.55 L307.0 342.52 L308.0 342.49 L309.0 342.47 L310.0 342.44 L311.0 342.41 L312.0 342.38 L313.0 342.35 L314.0 342.32 L315.0 342.29 L316.0 342.27 L317.0 342.24 L318.0 342.21 L319.0 342.18 L320.0 342.15 L321.0 342.12 L322.0 342.09 L323.0 342.06 L324.0 342.03 L325.0 342.00 L326.0 341.97 L327.0 341.94 L328.0 341.91 L329.0 341.88 L330.0 341.85 L331.0 341.82 L332.0 341.79 L333.0 341.76 L334.0 341.73 L335.0 341.70 L336.0 341.67 L337.0 341.64 L338.0 341.61 L339.0 341.58 L340.0 341.55 L341.0 341.52 L342.0 341.49 L343.0 341.46 L344.0 341.43 L345.0 341.40 L346.0 341.37 L347.0 341.34 L348.0 341.31 L349.0 341.28 L350.0 341.25 L351.0 341.22 L352.0 341.19 L353.0 341.16 L354.0 341.13 L355.0 341.10 L356.0 341.07 L357.0 341.04 L358.0 341.01 L359.0 340.98 L360.0 340.95 L361.0 340.92 L362.0 340.89 L363.0 340.86 L364.0 340.83 L365.0 340.80 L366.0 340.77 L367.0 340.74 L368.0 340.71 L369.0 340.68 L370.0 340.65 L371.0 340.62 L372.0 340.59 L373.0 340.56 L374.0 340.53 L375.0 340.50 L376.0 340.47 L377.0 340.44 L378.0 340.41 L379.0 340.38 L380.0 340.35 L381.0 340.32 L382.0 340.29 L383.0 340.26 L384.0 340.23 L385.0 340.20 L386.0 340.17 L387.0 340.14 L388.0 340.11 L389.0 340.08 L390.0 340.05 L391.0 340.02 L392.0 339.99 L393.0 339.96 L394.0 339.93 L395.0 339.91 L396.0 339.88 L397.0 339.85 L398.0 339.82 L399.0 339.79 L400.0 339.76 L401.0 339.73 L402.0 339.71 L403.0 339.68 L404.0 339.65 L405.0 339.62 L406.0 339.59 L407.0 339.56 L408.0 339.54 L409.0 339.51 L410.0 339.48 L411.0 339.45 L412.0 339.43 L413.0 339.40 L414.0 339.37 L415.0 339.35 L416.0 339.32 L417.0 339.29 L418.0 339.26 L419.0 339.24 L420.0 339.21 L421.0 339.19 L422.0 339.16 L423.0 339.13 L424.0 339.11 L425.0 339.08 L426.0 339.06 L427.0 339.03 L428.0 339.00 L429.0 338.98 L430.0 338.95 L431.0 338.93 L432.0 338.90 L433.0 338.88 L434.0 338.85 L435.0 338.83 L436.0 338.81 L437.0 338.78 L438.0 338.76 L439.0 338.73 L440.0 338.71 L441.0 338.69 L442.0 338.66 L443.0 338.64 L444.0 338.62 L445.0 338.59 L446.0 338.57 L447.0 338.55 L448.0 338.53 L449.0 338.50 L450.0 338.48 L451.0 338.46 L452.0 338.44 L453.0 338.42 L454.0 338.40 L455.0 338.37 L456.0 338.35 L457.0 338.33 L458.0 338.31 L459.0 338.29 L460.0 338.27 L461.0 338.25 L462.0 338.23 L463.0 338.21 L464.0 338.19 L465.0 338.17 L466.0 338.15 L467.0 338.14 L468.0 338.12 L469.0 338.10 L470.0 338.08 L471.0 338.06 L472.0 338.04 L473.0 338.03 L474.0 338.01 L475.0 337.99 L476.0 337.98 L477.0 337.96 L478.0 337.94 L479.0 337.93 L480.0 337.91 L481.0 337.89 L482.0 337.88 L483.0 337.86 L484.0 337.85 L485.0 337.83 L486.0 337.82 L487.0 337.81 L488.0 337.79 L489.0 337.78 L490.0 337.76" stroke="#222" stroke-width="1.0" fill="none"/>
<path d="M56.0 344.42 L57.0 344.41 L58.0 344.41 L59.0 344.41 L60.0 344.41 L61.0 344.41 L62.0 344.41 L63.0 344.41 L64.0 344.41 L65.0 344.41 L66.0 344.41 L67.0 344.41 L68.0 344.40 L69.0 344.40 L70.0 344.40 L71.0 344.40 L72.0 344.40 L73.0 344.40 L74.0 344.40 L75.0 344.40 L76.0 344.40 L77.0 344.39 L78.0 344.39 L79.0 344.39 L80.0 344.39 L81.0 344.39 L82.0 344.39 L83.0 344.39 L84.0 344.39 L85.0 344.39 L86.0 344.38 L87.0 344.38 L88.0 344.38 L89.0 344.38 L90.0 344.38 L91.0 344.38 L92.0 344.38 L93.0 344.37 L94.0 344.37 L95.0 344.37 L96.0 344.37 L97.0 344.37 L98.0 344.37 L99.0 344.37 L100.0 344.36 L101.0 344.36 L102.0 344.36 L103.0 344.36 L104.0 344.36 L105.0 344.35 L106.0 344.35 L107.0 344.35 L108.0 344.35 L109.0 344.35 L110.0 344.35 L111.0 344.34 L112.0 344.34 L113.0 344.34 L114.0 344.34 L115.0 344.33 L116.0 344.33 L117.0 344.33 L118.0 344.33 L119.0 344.33 L120.0 344.32 L121.0 344.32 L122.0 344.32 L123.0 344.32 L124.0 344.31 L125.0 344.31 L126.0 344.31 L127.0 344.30 L128.0 344.30 L129.0 344.30 L130.0 344.30 L131.0 344.29 L132.0 344.29 L133.0 344.29 L134.0 344.28 L135.0 344.28 L136.0 344.28 L137.0 344.27 L138.0 344.27 L139.0 344.27 L140.0 344.26 L141.0 344.26 L142.0 344.25 L143.0 344.25 L144.0 344.25 L145.0 344.24 L146.0 344.24 L147.0 344.23 L148.0 344.23 L149.0 344.22 L150.0 344.22 L151.0 344.21 L152.0 344.21 L153.0 344.20 L154.0 344.20 L155.0 344.19 L156.0 344.19 L157.0 344.18 L158.0 344.18 L159.0 344.17 L160.0 344.16 L161.0 344.16 L162.0 344.15 L163.0 344.14 L164.0 344.14 L165.0 344.13 L166.0 344.12 L167.0 344.12 L168.0 344.11 L169.0 344.10 L170.0 344.09 L171.0 344.08 L172.0 344.07 L173.0 344.06 L174.0 344.05 L175.0 344.04 L176.0 344.03 L177.0 344.02 L178.0 344.01 L179.0 344.00 L180.0 343.99 L181.0 343.98 L182.0 343.97 L183.0 343.95 L184.0 343.94 L185.0 343.92 L186.0 343.91 L187.0 343.89 L188.0 343.88 L189.0 343.86 L190.0 343.84 L191.0 343.82 L192.0 343.80 L193.0 343.78 L194.0 343.76 L195.0 343.74 L196.0 343.71 L197.0 343.68 L198.0 343.66 L199.0 343.62 L200.0 343.59 L201.0 343.55 L202.0 343.52 L203.0 343.47 L204.0 343.43 L205.0 343.38 L206.0 343.33 L207.0 343.27 L208.0 343.20 L209.0 343.14 L210.0 343.06 L211.0 342.98 L212.0 342.89 L213.0 342.79 L214.0 342.69 L215.0 342.57 L216.0 342.45 L217.0 342.31 L218.0 342.17 L219.0 342.01 L220.0 341.84 L221.0 341.66 L222.0 341.46 L223.0 341.24 L224.0 341.02 L225.0 340.77 L226.0 340.51 L227.0 340.23 L228.0 339.93 L229.0 339.62 L230.0 339.29 L231.0 338.94 L232.0 338.57 L233.0 338.18 L234.0 337.77 L235.0 337.35 L236.0 336.91 L237.0 336.46 L238.0 335.99 L239.0 335.50 L240.0 335.00 L241.0 334.50 L242.0 333.98 L243.0 333.45 L244.0 332.92 L245.0 332.39 L246.0 331.86 L247.0 331.34 L248.0 330.82 L249.0 330.31 L250.0 329.81 L251.0 329.34 L252.0 328.89 L253.0 328.46 L254.0 328.07 L255.0 327.72 L256.0 327.41 L257.0 327.14 L258.0 326.93 L259.0 326.76 L260.0 326.66 L261.0 326.60 L262.0 326.61 L263.0 326.66 L264.0 326.77 L265.0 326.92 L266.0 327.12 L267.0 327.37 L268.0 327.65 L269.0 327.97 L270.0 328.33 L271.0 328.72 L272.0 329.13 L273.0 329.56 L274.0 330.01 L275.0 330.48 L276.0 330.96 L277.0 331.45 L278.0 331.95 L279.0 332.45 L280.0 332.94 L281.0 333.44 L282.0 333.93 L283.0 334.42 L284.0 334.90 L285.0 335.37 L286.0 335.82 L287.0 336.27 L288.0 336.70 L289.0 337.12 L290.0 337.53 L291.0 337.92 L292.0 338.29 L293.0 338.65 L294.0 338.99 L295.0 339.32 L296.0 339.63 L297.0 339.93 L298.0 340.20 L299.0 340.47 L300.0 340.72 L301.0 340.95 L302.0 341.17 L303.0 341.37 L304.0 341.57 L305.0 341.74 L306.0 341.91 L307.0 342.07 L308.0 342.21 L309.0 342.35 L310.0 342.47 L311.0 342.59 L312.0 342.69 L313.0 342.79 L314.0 342.88 L315.0 342.97 L316.0 343.04 L317.0 343.12 L318.0 343.18 L319.0 343.24 L320.0 343.30 L321.0 343.35 L322.0 343.40 L323.0 343.44 L324.0 343.49 L325.0 343.52 L326.0 343.56 L327.0 343.59 L328.0 343.63 L329.0 343.65 L330.0 343.68 L331.0 343.71 L332.0 343.73 L333.0 343.75 L334.0 343.78 L335.0 343.80 L336.0 343.82 L337.0 343.83 L338.0 343.85 L339.0 343.87 L340.0 343.88 L341.0 343.90 L342.0 343.91 L343.0 343.93 L344.0 343.94 L345.0 343.95 L346.0 343.96 L347.0 343.98 L348.0 343.99 L349.0 344.00 L350.0 344.01 L351.0 344.02 L352.0 344.03 L353.0 344.04 L354.0 344.05 L355.0 344.06 L356.0 344.07 L357.0 344.08 L358.0 344.08 L359.0 344.09 L360.0 344.10 L361.0 344.11 L362.0 344.11 L363.0 344.12 L364.0 344.13 L365.0 344.14 L366.0 344.14 L367.0 344.15 L368.0 344.15 L369.0 344.16 L370.0 344.17 L371.0 344.17 L372.0 344.18 L373.0 344.18 L374.0 344.19 L375.0 344.19 L376.0 344.20 L377.0 344.20 L378.0 344.21 L379.0 344.21 L380.0 344.22 L381.0 344.22 L382.0 344.23 L383.0 344.23 L384.0 344.24 L385.0 344.24 L386.0 344.24 L387.0 344.25 L388.0 344.25 L389.0 344.26 L390.0 344.26 L391.0 344.26 L392.0 344.27 L393.0 344.27 L394.0 344.27 L395.0 344.28 L396.0 344.28 L397.0 344.28 L398.0 344.29 L399.0 344.29 L400.0 344.29 L401.0 344.29 L402.0 344.30 L403.0 344.30 L404.0 344.30 L405.0 344.31 L406.0 344.31 L407.0 344.31 L408.0 344.31 L409.0 344.32 L410.0 344.32 L411.0 344.32 L412.0 344.32 L413.0 344.32 L414.0 344.33 L415.0 344.33 L416.0 344.33 L417.0 344.33 L418.0 344.34 L419.0 344.34 L420.0 344.34 L421.0 344.34 L422.0 344.34 L423.0 344.35 L424.0 344.35 L425.0 344.35 L426.0 344.35 L427.0 344.35 L428.0 344.35 L429.0 344.36 L430.0 344.36 L431.0 344.36 L432.0 344.36 L433.0 344.36 L434.0 344.36 L435.0 344.37 L436.0 344.37 L437.0 344.37 L438.0 344.37 L439.0 344.37 L440.0 344.37 L441.0 344.37 L442.0 344.38 L443.0 344.38 L444.0 344.38 L445.0 344.38 L446.0 344.38 L447.0 344.38 L448.0 344.38 L449.0 344.38 L450.0 344.39 L451.0 344.39 L452.0 344.39 L453.0 344.39 L454.0 344.39 L455.0 344.39 L456.0 344.39 L457.0 344.39 L458.0 344.39 L459.0 344.40 L460.0 344.40 L461.0 344.40 L462.0 344.40 L463.0 344.40 L464.0 344.40 L465.0 344.40 L466.0 344.40 L467.0 344.40 L468.0 344.40 L469.0 344.41 L470.0 344.41 L471.0 344.41 L472.0 344.41 L473.0 344.41 L474.0 344.41 L475.0 344.41 L476.0 344.41 L477.0 344.41 L478.0 344.41 L479.0 344.41 L480.0 344.41 L481.0 344.42 L482.0 344.42 L483.0 344.42 L484.0 344.42 L485.0 344.42 L486.0 344.42 L487.0 344.42 L488.0 344.42 L489.0 344.42 L490.0 344.42" stroke="#151515" stroke-width="1.05" fill="none"/>
<path d="M56.0 343.99 L57.0 343.99 L58.0 343.98 L59.0 343.98 L60.0 343.97 L61.0 343.97 L62.0 343.96 L63.0 343.95 L64.0 343.95 L65.0 343.94 L66.0 343.94 L67.0 343.93 L68.0 343.93 L69.0 343.92 L70.0 343.91 L71.0 343.91 L72.0 343.90 L73.0 343.90 L74.0 343.89 L75.0 343.88 L76.0 343.88 L77.0 343.87 L78.0 343.86 L79.0 343.86 L80.0 343.85 L81.0 343.84 L82.0 343.83 L83.0 343.83 L84.0 343.82 L85.0 343.81 L86.0 343.80 L87.0 343.80 L88.0 343.79 L89.0 343.78 L90.0 343.77 L91.0 343.77 L92.0 343.76 L93.0 343.75 L94.0 343.74 L95.0 343.73 L96.0 343.72 L97.0 343.71 L98.0 343.70 L99.0 343.70 L100.0 343.69 L101.0 343.68 L102.0 343.67 L103.0 343.66 L104.0 343.65 L105.0 343.64 L106.0 343.63 L107.0 343.62 L108.0 343.60 L109.0 343.59 L110.0 343.58 L111.0 343.57 L112.0 343.56 L113.0 343.55 L114.0 343.54 L115.0 343.52 L116.0 343.51 L117.0 343.50 L118.0 343.49 L119.0 343.47 L120.0 343.46 L121.0 343.45 L122.0 343.43 L123.0 343.42 L124.0 343.41 L125.0 343.39 L126.0 343.38 L127.0 343.36 L128.0 343.35 L129.0 343.33 L130.0 343.31 L131.0 343.30 L132.0 343.28 L133.0 343.26 L134.0 343.25 L135.0 343.23 L136.0 343.21 L137.0 343.19 L138.0 343.17 L139.0 343.16 L140.0 343.14 L141.0 343.12 L142.0 343.10 L143.0 343.08 L144.0 343.05 L145.0 343.03 L146.0 343.01 L147.0 342.99 L148.0 342.97 L149.0 342.94 L150.0 342.92 L151.0 342.89 L152.0 342.87 L153.0 342.84 L154.0 342.82 L155.0 342.79 L156.0 342.76 L157.0 342.73 L158.0 342.71 L159.0 342.68 L160.0 342.65 L161.0 342.62 L162.0 342.58 L163.0 342.55 L164.0 342.52 L165.0 342.48 L166.0 342.45 L167.0 342.41 L168.0 342.38 L169.0 342.34 L170.0 342.30 L171.0 342.26 L172.0 342.22 L173.0 342.18 L174.0 342.14 L175.0 342.09 L176.0 342.05 L177.0 342.00 L178.0 341.95 L179.0 341.90 L180.0 341.85 L181.0 341.80 L182.0 341.75 L183.0 341.69 L184.0 341.64 L185.0 341.58 L186.0 341.52 L187.0 341.46 L188.0 341.39 L189.0 341.32 L190.0 341.26 L191.0 341.18 L192.0 341.11 L193.0 341.03 L194.0 340.96 L195.0 340.87 L196.0 340.79 L197.0 340.70 L198.0 340.61 L199.0 340.51 L200.0 340.41 L201.0 340.30 L202.0 340.19 L203.0 340.07 L204.0 339.95 L205.0 339.82 L206.0 339.68 L207.0 339.54 L208.0 339.38 L209.0 339.22 L210.0 339.04 L211.0 338.85 L212.0 338.65 L213.0 338.44 L214.0 338.21 L215.0 337.96 L216.0 337.70 L217.0 337.41 L218.0 337.10 L219.0 336.77 L220.0 336.41 L221.0 336.02 L222.0 335.59 L223.0 335.14 L224.0 334.64 L225.0 334.10 L226.0 333.52 L227.0 332.90 L228.0 332.22 L229.0 331.49 L230.0 330.70 L231.0 329.85 L232.0 328.93 L233.0 327.94 L234.0 326.89 L235.0 325.75 L236.0 324.54 L237.0 323.24 L238.0 321.85 L239.0 320.38 L240.0 318.81 L241.0 317.15 L242.0 315.39 L243.0 313.53 L244.0 311.58 L245.0 309.52 L246.0 307.36 L247.0 305.10 L248.0 302.75 L249.0 300.30 L250.0 297.75 L251.0 295.12 L252.0 292.40 L253.0 289.60 L254.0 286.72 L255.0 283.78 L256.0 280.79 L257.0 277.74 L258.0 274.66 L259.0 271.56 L260.0 268.44 L261.0 265.33 L262.0 262.24 L263.0 259.19 L264.0 256.19 L265.0 253.26 L266.0 250.44 L267.0 247.73 L268.0 245.17 L269.0 242.77 L270.0 240.56 L271.0 238.56 L272.0 236.79 L273.0 235.28 L274.0 234.04 L275.0 233.08 L276.0 232.42 L277.0 232.07 L278.0 232.01 L279.0 232.24 L280.0 232.73 L281.0 233.48 L282.0 234.49 L283.0 235.73 L284.0 237.20 L285.0 238.86 L286.0 240.71 L287.0 242.72 L288.0 244.88 L289.0 247.15 L290.0 249.53 L291.0 251.99 L292.0 254.52 L293.0 257.09 L294.0 259.69 L295.0 262.31 L296.0 264.94 L297.0 267.55 L298.0 270.15 L299.0 272.72 L300.0 275.26 L301.0 277.75 L302.0 280.20 L303.0 282.59 L304.0 284.92 L305.0 287.19 L306.0 289.39 L307.0 291.53 L308.0 293.59 L309.0 295.58 L310.0 297.51 L311.0 299.36 L312.0 301.13 L313.0 302.84 L314.0 304.47 L315.0 306.03 L316.0 307.52 L317.0 308.94 L318.0 310.29 L319.0 311.58 L320.0 312.80 L321.0 313.96 L322.0 315.06 L323.0 316.11 L324.0 317.09 L325.0 318.02 L326.0 318.91 L327.0 319.74 L328.0 320.52 L329.0 321.26 L330.0 321.96 L331.0 322.62 L332.0 323.24 L333.0 323.82 L334.0 324.37 L335.0 324.89 L336.0 325.38 L337.0 325.83 L338.0 326.27 L339.0 326.68 L340.0 327.06 L341.0 327.42 L342.0 327.77 L343.0 328.09 L344.0 328.39 L345.0 328.68 L346.0 328.96 L347.0 329.22 L348.0 329.47 L349.0 329.70 L350.0 329.92 L351.0 330.14 L352.0 330.34 L353.0 330.53 L354.0 330.71 L355.0 330.89 L356.0 331.06 L357.0 331.22 L358.0 331.38 L359.0 331.53 L360.0 331.67 L361.0 331.81 L362.0 331.94 L363.0 332.07 L364.0 332.19 L365.0 332.31 L366.0 332.42 L367.0 332.53 L368.0 332.64 L369.0 332.74 L370.0 332.84 L371.0 332.94 L372.0 333.04 L373.0 333.13 L374.0 333.22 L375.0 333.30 L376.0 333.38 L377.0 333.47 L378.0 333.54 L379.0 333.62 L380.0 333.70 L381.0 333.77 L382.0 333.84 L383.0 333.91 L384.0 333.97 L385.0 334.04 L386.0 334.10 L387.0 334.16 L388.0 334.22 L389.0 334.28 L390.0 334.34 L391.0 334.39 L392.0 334.45 L393.0 334.50 L394.0 334.55 L395.0 334.60 L396.0 334.65 L397.0 334.70 L398.0 334.75 L399.0 334.79 L400.0 334.84 L401.0 334.88 L402.0 334.92 L403.0 334.97 L404.0 335.01 L405.0 335.05 L406.0 335.09 L407.0 335.12 L408.0 335.16 L409.0 335.20 L410.0 335.23 L411.0 335.27 L412.0 335.30 L413.0 335.33 L414.0 335.37 L415.0 335.40 L416.0 335.43 L417.0 335.46 L418.0 335.49 L419.0 335.52 L420.0 335.55 L421.0 335.58 L422.0 335.60 L423.0 335.63 L424.0 335.66 L425.0 335.68 L426.0 335.71 L427.0 335.73 L428.0 335.76 L429.0 335.78 L430.0 335.81 L431.0 335.83 L432.0 335.85 L433.0 335.87 L434.0 335.90 L435.0 335.92 L436.0 335.94 L437.0 335.96 L438.0 335.98 L439.0 336.00 L440.0 336.02 L441.0 336.04 L442.0 336.06 L443.0 336.07 L444.0 336.09 L445.0 336.11 L446.0 336.13 L447.0 336.14 L448.0 336.16 L449.0 336.18 L450.0 336.19 L451.0 336.21 L452.0 336.23 L453.0 336.24 L454.0 336.26 L455.0 336.27 L456.0 336.29 L457.0 336.30 L458.0 336.31 L459.0 336.33 L460.0 336.34 L461.0 336.36 L462.0 336.37 L463.0 336.38 L464.0 336.40 L465.0 336.41 L466.0 336.42 L467.0 336.43 L468.0 336.44 L469.0 336.46 L470.0 336.47 L471.0 336.48 L472.0 336.49 L473.0 336.50 L474.0 336.51 L475.0 336.52 L476.0 336.53 L477.0 336.55 L478.0 336.56 L479.0 336.57 L480.0 336.58 L481.0 336.59 L482.0 336.60 L483.0 336.60 L484.0 336.61 L485.0 336.62 L486.0 336.63 L487.0 336.64 L488.0 336.65 L489.0 336.66 L490.0 336.67" stroke="#151515" stroke-width="1.05" fill="none"/>
<path d="M56.0 344.48 L57.0 344.48 L58.0 344.48 L59.0 344.48 L60.0 344.48 L61.0 344.48 L62.0 344.48 L63.0 344.48 L64.0 344.48 L65.0 344.48 L66.0 344.48 L67.0 344.48 L68.0 344.48 L69.0 344.48 L70.0 344.48 L71.0 344.48 L72.0 344.48 L73.0 344.48 L74.0 344.48 L75.0 344.48 L76.0 344.48 L77.0 344.48 L78.0 344.48 L79.0 344.48 L80.0 344.48 L81.0 344.48 L82.0 344.48 L83.0 344.48 L84.0 344.48 L85.0 344.48 L86.0 344.48 L87.0 344.48 L88.0 344.48 L89.0 344.48 L90.0 344.48 L91.0 344.48 L92.0 344.48 L93.0 344.48 L94.0 344.48 L95.0 344.48 L96.0 344.48 L97.0 344.48 L98.0 344.48 L99.0 344.48 L100.0 344.48 L101.0 344.48 L102.0 344.48 L103.0 344.48 L104.0 344.48 L105.0 344.48 L106.0 344.48 L107.0 344.48 L108.0 344.48 L109.0 344.48 L110.0 344.47 L111.0 344.47 L112.0 344.47 L113.0 344.47 L114.0 344.47 L115.0 344.47 L116.0 344.47 L117.0 344.47 L118.0 344.47 L119.0 344.47 L120.0 344.47 L121.0 344.47 L122.0 344.47 L123.0 344.47 L124.0 344.47 L125.0 344.47 L126.0 344.47 L127.0 344.47 L128.0 344.47 L129.0 344.47 L130.0 344.47 L131.0 344.47 L132.0 344.47 L133.0 344.47 L134.0 344.47 L135.0 344.47 L136.0 344.47 L137.0 344.47 L138.0 344.47 L139.0 344.47 L140.0 344.47 L141.0 344.47 L142.0 344.47 L143.0 344.47 L144.0 344.47 L145.0 344.46 L146.0 344.46 L147.0 344.46 L148.0 344.46 L149.0 344.46 L150.0 344.46 L151.0 344.46 L152.0 344.46 L153.0 344.46 L154.0 344.46 L155.0 344.46 L156.0 344.46 L157.0 344.46 L158.0 344.46 L159.0 344.46 L160.0 344.46 L161.0 344.46 L162.0 344.46 L163.0 344.46 L164.0 344.46 L165.0 344.46 L166.0 344.46 L167.0 344.46 L168.0 344.45 L169.0 344.45 L170.0 344.45 L171.0 344.45 L172.0 344.45 L173.0 344.45 L174.0 344.45 L175.0 344.45 L176.0 344.45 L177.0 344.45 L178.0 344.45 L179.0 344.45 L180.0 344.45 L181.0 344.45 L182.0 344.45 L183.0 344.45 L184.0 344.44 L185.0 344.44 L186.0 344.44 L187.0 344.44 L188.0 344.44 L189.0 344.44 L190.0 344.44 L191.0 344.44 L192.0 344.44 L193.0 344.44 L194.0 344.44 L195.0 344.44 L196.0 344.43 L197.0 344.43 L198.0 344.43 L199.0 344.43 L200.0 344.43 L201.0 344.43 L202.0 344.43 L203.0 344.43 L204.0 344.43 L205.0 344.43 L206.0 344.42 L207.0 344.42 L208.0 344.42 L209.0 344.42 L210.0 344.42 L211.0 344.42 L212.0 344.42 L213.0 344.42 L214.0 344.41 L215.0 344.41 L216.0 344.41 L217.0 344.41 L218.0 344.41 L219.0 344.41 L220.0 344.41 L221.0 344.40 L222.0 344.40 L223.0 344.40 L224.0 344.40 L225.0 344.40 L226.0 344.39 L227.0 344.39 L228.0 344.39 L229.0 344.39 L230.0 344.39 L231.0 344.38 L232.0 344.38 L233.0 344.38 L234.0 344.38 L235.0 344.38 L236.0 344.37 L237.0 344.37 L238.0 344.37 L239.0 344.37 L240.0 344.36 L241.0 344.36 L242.0 344.36 L243.0 344.35 L244.0 344.35 L245.0 344.35 L246.0 344.34 L247.0 344.34 L248.0 344.34 L249.0 344.33 L250.0 344.33 L251.0 344.33 L252.0 344.32 L253.0 344.32 L254.0 344.31 L255.0 344.31 L256.0 344.30 L257.0 344.30 L258.0 344.29 L259.0 344.29 L260.0 344.28 L261.0 344.28 L262.0 344.27 L263.0 344.27 L264.0 344.26 L265.0 344.25 L266.0 344.25 L267.0 344.24 L268.0 344.23 L269.0 344.22 L270.0 344.21 L271.0 344.21 L272.0 344.20 L273.0 344.19 L274.0 344.18 L275.0 344.17 L276.0 344.16 L277.0 344.14 L278.0 344.13 L279.0 344.12 L280.0 344.10 L281.0 344.09 L282.0 344.07 L283.0 344.05 L284.0 344.03 L285.0 344.01 L286.0 343.99 L287.0 343.96 L288.0 343.93 L289.0 343.90 L290.0 343.86 L291.0 343.81 L292.0 343.77 L293.0 343.71 L294.0 343.65 L295.0 343.58 L296.0 343.50 L297.0 343.41 L298.0 343.31 L299.0 343.20 L300.0 343.07 L301.0 342.93 L302.0 342.77 L303.0 342.59 L304.0 342.39 L305.0 342.17 L306.0 341.93 L307.0 341.66 L308.0 341.37 L309.0 341.05 L310.0 340.70 L311.0 340.33 L312.0 339.93 L313.0 339.50 L314.0 339.04 L315.0 338.56 L316.0 338.06 L317.0 337.53 L318.0 336.98 L319.0 336.42 L320.0 335.85 L321.0 335.27 L322.0 334.68 L323.0 334.10 L324.0 333.52 L325.0 332.96 L326.0 332.42 L327.0 331.91 L328.0 331.44 L329.0 331.02 L330.0 330.64 L331.0 330.33 L332.0 330.09 L333.0 329.91 L334.0 329.82 L335.0 329.80 L336.0 329.82 L337.0 329.86 L338.0 329.91 L339.0 329.99 L340.0 330.09 L341.0 330.21 L342.0 330.35 L343.0 330.50 L344.0 330.68 L345.0 330.86 L346.0 331.07 L347.0 331.28 L348.0 331.51 L349.0 331.75 L350.0 332.00 L351.0 332.27 L352.0 332.54 L353.0 332.81 L354.0 333.10 L355.0 333.38 L356.0 333.68 L357.0 333.97 L358.0 334.27 L359.0 334.57 L360.0 334.88 L361.0 335.18 L362.0 335.48 L363.0 335.78 L364.0 336.08 L365.0 336.37 L366.0 336.66 L367.0 336.95 L368.0 337.23 L369.0 337.51 L370.0 337.79 L371.0 338.06 L372.0 338.32 L373.0 338.58 L374.0 338.83 L375.0 339.07 L376.0 339.31 L377.0 339.54 L378.0 339.76 L379.0 339.98 L380.0 340.18 L381.0 340.39 L382.0 340.58 L383.0 340.77 L384.0 340.94 L385.0 341.12 L386.0 341.28 L387.0 341.44 L388.0 341.59 L389.0 341.74 L390.0 341.87 L391.0 342.00 L392.0 342.13 L393.0 342.25 L394.0 342.36 L395.0 342.47 L396.0 342.57 L397.0 342.66 L398.0 342.75 L399.0 342.84 L400.0 342.92 L401.0 343.00 L402.0 343.07 L403.0 343.14 L404.0 343.20 L405.0 343.26 L406.0 343.32 L407.0 343.37 L408.0 343.42 L409.0 343.47 L410.0 343.51 L411.0 343.55 L412.0 343.59 L413.0 343.63 L414.0 343.66 L415.0 343.69 L416.0 343.72 L417.0 343.75 L418.0 343.78 L419.0 343.80 L420.0 343.83 L421.0 343.85 L422.0 343.87 L423.0 343.89 L424.0 343.91 L425.0 343.92 L426.0 343.94 L427.0 343.95 L428.0 343.97 L429.0 343.98 L430.0 344.00 L431.0 344.01 L432.0 344.02 L433.0 344.03 L434.0 344.04 L435.0 344.05 L436.0 344.06 L437.0 344.07 L438.0 344.08 L439.0 344.09 L440.0 344.10 L441.0 344.10 L442.0 344.11 L443.0 344.12 L444.0 344.13 L445.0 344.13 L446.0 344.14 L447.0 344.15 L448.0 344.15 L449.0 344.16 L450.0 344.16 L451.0 344.17 L452.0 344.17 L453.0 344.18 L454.0 344.19 L455.0 344.19 L456.0 344.20 L457.0 344.20 L458.0 344.20 L459.0 344.21 L460.0 344.21 L461.0 344.22 L462.0 344.22 L463.0 344.23 L464.0 344.23 L465.0 344.23 L466.0 344.24 L467.0 344.24 L468.0 344.25 L469.0 344.25 L470.0 344.25 L471.0 344.26 L472.0 344.26 L473.0 344.26 L474.0 344.27 L475.0 344.27 L476.0 344.27 L477.0 344.27 L478.0 344.28 L479.0 344.28 L480.0 344.28 L481.0 344.29 L482.0 344.29 L483.0 344.29 L484.0 344.29 L485.0 344.30 L486.0 344.30 L487.0 344.30 L488.0 344.30 L489.0 344.31 L490.0 344.31" stroke="#151515" stroke-width="1.05" fill="none"/>
<path d="M56.0 344.32 L57.0 344.32 L58.0 344.32 L59.0 344.32 L60.0 344.32 L61.0 344.32 L62.0 344.31 L63.0 344.31 L64.0 344.31 L65.0 344.31 L66.0 344.31 L67.0 344.31 L68.0 344.31 L69.0 344.30 L70.0 344.30 L71.0 344.30 L72.0 344.30 L73.0 344.30 L74.0 344.30 L75.0 344.29 L76.0 344.29 L77.0 344.29 L78.0 344.29 L79.0 344.29 L80.0 344.29 L81.0 344.28 L82.0 344.28 L83.0 344.28 L84.0 344.28 L85.0 344.28 L86.0 344.27 L87.0 344.27 L88.0 344.27 L89.0 344.27 L90.0 344.27 L91.0 344.26 L92.0 344.26 L93.0 344.26 L94.0 344.26 L95.0 344.26 L96.0 344.25 L97.0 344.25 L98.0 344.25 L99.0 344.25 L100.0 344.24 L101.0 344.24 L102.0 344.24 L103.0 344.24 L104.0 344.24 L105.0 344.23 L106.0 344.23 L107.0 344.23 L108.0 344.23 L109.0 344.22 L110.0 344.22 L111.0 344.22 L112.0 344.22 L113.0 344.21 L114.0 344.21 L115.0 344.21 L116.0 344.21 L117.0 344.20 L118.0 344.20 L119.0 344.20 L120.0 344.19 L121.0 344.19 L122.0 344.19 L123.0 344.19 L124.0 344.18 L125.0 344.18 L126.0 344.18 L127.0 344.17 L128.0 344.17 L129.0 344.17 L130.0 344.16 L131.0 344.16 L132.0 344.16 L133.0 344.16 L134.0 344.15 L135.0 344.15 L136.0 344.15 L137.0 344.14 L138.0 344.14 L139.0 344.13 L140.0 344.13 L141.0 344.13 L142.0 344.12 L143.0 344.12 L144.0 344.12 L145.0 344.11 L146.0 344.11 L147.0 344.10 L148.0 344.10 L149.0 344.10 L150.0 344.09 L151.0 344.09 L152.0 344.08 L153.0 344.08 L154.0 344.08 L155.0 344.07 L156.0 344.07 L157.0 344.06 L158.0 344.06 L159.0 344.05 L160.0 344.05 L161.0 344.04 L162.0 344.04 L163.0 344.03 L164.0 344.03 L165.0 344.02 L166.0 344.02 L167.0 344.01 L168.0 344.01 L169.0 344.00 L170.0 344.00 L171.0 343.99 L172.0 343.98 L173.0 343.98 L174.0 343.97 L175.0 343.97 L176.0 343.96 L177.0 343.95 L178.0 343.95 L179.0 343.94 L180.0 343.94 L181.0 343.93 L182.0 343.92 L183.0 343.92 L184.0 343.91 L185.0 343.90 L186.0 343.89 L187.0 343.89 L188.0 343.88 L189.0 343.87 L190.0 343.87 L191.0 343.86 L192.0 343.85 L193.0 343.84 L194.0 343.83 L195.0 343.82 L196.0 343.82 L197.0 343.81 L198.0 343.80 L199.0 343.79 L200.0 343.78 L201.0 343.77 L202.0 343.76 L203.0 343.75 L204.0 343.74 L205.0 343.73 L206.0 343.72 L207.0 343.71 L208.0 343.70 L209.0 343.69 L210.0 343.68 L211.0 343.67 L212.0 343.66 L213.0 343.65 L214.0 343.63 L215.0 343.62 L216.0 343.61 L217.0 343.60 L218.0 343.58 L219.0 343.57 L220.0 343.56 L221.0 343.54 L222.0 343.53 L223.0 343.51 L224.0 343.50 L225.0 343.49 L226.0 343.47 L227.0 343.45 L228.0 343.44 L229.0 343.42 L230.0 343.41 L231.0 343.39 L232.0 343.37 L233.0 343.35 L234.0 343.33 L235.0 343.32 L236.0 343.30 L237.0 343.28 L238.0 343.26 L239.0 343.24 L240.0 343.22 L241.0 343.19 L242.0 343.17 L243.0 343.15 L244.0 343.13 L245.0 343.10 L246.0 343.08 L247.0 343.05 L248.0 343.03 L249.0 343.00 L250.0 342.97 L251.0 342.94 L252.0 342.92 L253.0 342.89 L254.0 342.86 L255.0 342.82 L256.0 342.79 L257.0 342.76 L258.0 342.72 L259.0 342.69 L260.0 342.65 L261.0 342.62 L262.0 342.58 L263.0 342.54 L264.0 342.49 L265.0 342.45 L266.0 342.41 L267.0 342.36 L268.0 342.31 L269.0 342.26 L270.0 342.21 L271.0 342.15 L272.0 342.09 L273.0 342.03 L274.0 341.97 L275.0 341.90 L276.0 341.83 L277.0 341.75 L278.0 341.67 L279.0 341.59 L280.0 341.50 L281.0 341.40 L282.0 341.30 L283.0 341.18 L284.0 341.06 L285.0 340.93 L286.0 340.80 L287.0 340.64 L288.0 340.48 L289.0 340.31 L290.0 340.11 L291.0 339.91 L292.0 339.68 L293.0 339.43 L294.0 339.17 L295.0 338.88 L296.0 338.56 L297.0 338.22 L298.0 337.85 L299.0 337.45 L300.0 337.01 L301.0 336.53 L302.0 336.02 L303.0 335.46 L304.0 334.86 L305.0 334.22 L306.0 333.52 L307.0 332.77 L308.0 331.96 L309.0 331.10 L310.0 330.17 L311.0 329.18 L312.0 328.13 L313.0 327.00 L314.0 325.81 L315.0 324.55 L316.0 323.22 L317.0 321.81 L318.0 320.32 L319.0 318.77 L320.0 317.14 L321.0 315.43 L322.0 313.65 L323.0 311.81 L324.0 309.89 L325.0 307.91 L326.0 305.86 L327.0 303.76 L328.0 301.61 L329.0 299.40 L330.0 297.16 L331.0 294.88 L332.0 292.57 L333.0 290.24 L334.0 287.90 L335.0 285.57 L336.0 283.24 L337.0 280.93 L338.0 278.66 L339.0 276.43 L340.0 274.25 L341.0 272.15 L342.0 270.14 L343.0 268.23 L344.0 266.43 L345.0 264.76 L346.0 263.23 L347.0 261.86 L348.0 260.66 L349.0 259.64 L350.0 258.81 L351.0 258.17 L352.0 257.75 L353.0 257.53 L354.0 257.52 L355.0 257.72 L356.0 258.14 L357.0 258.76 L358.0 259.57 L359.0 260.57 L360.0 261.74 L361.0 263.07 L362.0 264.55 L363.0 266.16 L364.0 267.89 L365.0 269.72 L366.0 271.64 L367.0 273.64 L368.0 275.69 L369.0 277.79 L370.0 279.92 L371.0 282.08 L372.0 284.25 L373.0 286.43 L374.0 288.59 L375.0 290.74 L376.0 292.86 L377.0 294.95 L378.0 297.01 L379.0 299.02 L380.0 300.98 L381.0 302.89 L382.0 304.74 L383.0 306.53 L384.0 308.26 L385.0 309.92 L386.0 311.52 L387.0 313.04 L388.0 314.50 L389.0 315.89 L390.0 317.22 L391.0 318.47 L392.0 319.66 L393.0 320.78 L394.0 321.84 L395.0 322.83 L396.0 323.76 L397.0 324.64 L398.0 325.46 L399.0 326.22 L400.0 326.93 L401.0 327.59 L402.0 328.21 L403.0 328.78 L404.0 329.31 L405.0 329.80 L406.0 330.26 L407.0 330.68 L408.0 331.07 L409.0 331.43 L410.0 331.76 L411.0 332.06 L412.0 332.34 L413.0 332.60 L414.0 332.84 L415.0 333.06 L416.0 333.27 L417.0 333.45 L418.0 333.63 L419.0 333.79 L420.0 333.94 L421.0 334.08 L422.0 334.21 L423.0 334.33 L424.0 334.44 L425.0 334.54 L426.0 334.64 L427.0 334.73 L428.0 334.82 L429.0 334.90 L430.0 334.98 L431.0 335.05 L432.0 335.12 L433.0 335.18 L434.0 335.24 L435.0 335.30 L436.0 335.36 L437.0 335.41 L438.0 335.47 L439.0 335.51 L440.0 335.56 L441.0 335.61 L442.0 335.65 L443.0 335.69 L444.0 335.74 L445.0 335.78 L446.0 335.81 L447.0 335.85 L448.0 335.89 L449.0 335.92 L450.0 335.95 L451.0 335.99 L452.0 336.02 L453.0 336.05 L454.0 336.08 L455.0 336.11 L456.0 336.14 L457.0 336.16 L458.0 336.19 L459.0 336.22 L460.0 336.24 L461.0 336.27 L462.0 336.29 L463.0 336.31 L464.0 336.33 L465.0 336.36 L466.0 336.38 L467.0 336.40 L468.0 336.42 L469.0 336.44 L470.0 336.46 L471.0 336.48 L472.0 336.50 L473.0 336.51 L474.0 336.53 L475.0 336.55 L476.0 336.57 L477.0 336.58 L478.0 336.60 L479.0 336.61 L480.0 336.63 L481.0 336.64 L482.0 336.66 L483.0 336.67 L484.0 336.69 L485.0 336.70 L486.0 336.71 L487.0 336.73 L488.0 336.74 L489.0 336.75 L490.0 336.76" stroke="#151515" stroke-width="1.05" fill="none"/>
<path d="M56.0 343.24 L57.0 343.23 L58.0 343.22 L59.0 343.21 L60.0 343.20 L61.0 343.19 L62.0 343.17 L63.0 343.16 L64.0 343.15 L65.0 343.14 L66.0 343.13 L67.0 343.12 L68.0 343.11 L69.0 343.10 L70.0 343.09 L71.0 343.07 L72.0 343.06 L73.0 343.05 L74.0 343.04 L75.0 343.02 L76.0 343.01 L77.0 343.00 L78.0 342.99 L79.0 342.97 L80.0 342.96 L81.0 342.95 L82.0 342.93 L83.0 342.92 L84.0 342.90 L85.0 342.89 L86.0 342.88 L87.0 342.86 L88.0 342.85 L89.0 342.83 L90.0 342.82 L91.0 342.80 L92.0 342.78 L93.0 342.77 L94.0 342.75 L95.0 342.74 L96.0 342.72 L97.0 342.70 L98.0 342.69 L99.0 342.67 L100.0 342.65 L101.0 342.63 L102.0 342.61 L103.0 342.60 L104.0 342.58 L105.0 342.56 L106.0 342.54 L107.0 342.52 L108.0 342.50 L109.0 342.48 L110.0 342.46 L111.0 342.44 L112.0 342.41 L113.0 342.39 L114.0 342.37 L115.0 342.35 L116.0 342.33 L117.0 342.30 L118.0 342.28 L119.0 342.26 L120.0 342.23 L121.0 342.21 L122.0 342.18 L123.0 342.16 L124.0 342.13 L125.0 342.10 L126.0 342.08 L127.0 342.05 L128.0 342.02 L129.0 341.99 L130.0 341.96 L131.0 341.93 L132.0 341.90 L133.0 341.87 L134.0 341.84 L135.0 341.81 L136.0 341.78 L137.0 341.74 L138.0 341.71 L139.0 341.68 L140.0 341.64 L141.0 341.61 L142.0 341.57 L143.0 341.53 L144.0 341.49 L145.0 341.46 L146.0 341.42 L147.0 341.38 L148.0 341.34 L149.0 341.29 L150.0 341.25 L151.0 341.21 L152.0 341.16 L153.0 341.12 L154.0 341.07 L155.0 341.02 L156.0 340.98 L157.0 340.93 L158.0 340.87 L159.0 340.82 L160.0 340.77 L161.0 340.72 L162.0 340.66 L163.0 340.60 L164.0 340.55 L165.0 340.49 L166.0 340.43 L167.0 340.36 L168.0 340.30 L169.0 340.23 L170.0 340.17 L171.0 340.10 L172.0 340.03 L173.0 339.96 L174.0 339.88 L175.0 339.81 L176.0 339.73 L177.0 339.65 L178.0 339.57 L179.0 339.48 L180.0 339.40 L181.0 339.31 L182.0 339.22 L183.0 339.12 L184.0 339.03 L185.0 338.93 L186.0 338.82 L187.0 338.72 L188.0 338.61 L189.0 338.50 L190.0 338.38 L191.0 338.26 L192.0 338.14 L193.0 338.01 L194.0 337.88 L195.0 337.74 L196.0 337.60 L197.0 337.46 L198.0 337.31 L199.0 337.15 L200.0 336.99 L201.0 336.82 L202.0 336.64 L203.0 336.46 L204.0 336.26 L205.0 336.06 L206.0 335.85 L207.0 335.63 L208.0 335.40 L209.0 335.16 L210.0 334.90 L211.0 334.63 L212.0 334.34 L213.0 334.04 L214.0 333.72 L215.0 333.38 L216.0 333.02 L217.0 332.63 L218.0 332.22 L219.0 331.78 L220.0 331.30 L221.0 330.80 L222.0 330.25 L223.0 329.66 L224.0 329.03 L225.0 328.34 L226.0 327.60 L227.0 326.80 L228.0 325.94 L229.0 325.01 L230.0 324.00 L231.0 322.91 L232.0 321.73 L233.0 320.46 L234.0 319.09 L235.0 317.61 L236.0 316.02 L237.0 314.31 L238.0 312.48 L239.0 310.53 L240.0 308.44 L241.0 306.21 L242.0 303.85 L243.0 301.34 L244.0 298.69 L245.0 295.90 L246.0 292.97 L247.0 289.90 L248.0 286.70 L249.0 283.38 L250.0 279.93 L251.0 276.39 L252.0 272.74 L253.0 269.03 L254.0 265.26 L255.0 261.45 L256.0 257.63 L257.0 253.83 L258.0 250.08 L259.0 246.41 L260.0 242.84 L261.0 239.40 L262.0 236.12 L263.0 233.03 L264.0 230.13 L265.0 227.44 L266.0 224.96 L267.0 222.70 L268.0 220.65 L269.0 218.81 L270.0 217.19 L271.0 215.78 L272.0 214.57 L273.0 213.58 L274.0 212.80 L275.0 212.24 L276.0 211.90 L277.0 211.80 L278.0 211.92 L279.0 212.28 L280.0 212.88 L281.0 213.72 L282.0 214.78 L283.0 216.07 L284.0 217.58 L285.0 219.28 L286.0 221.16 L287.0 223.21 L288.0 225.41 L289.0 227.74 L290.0 230.17 L291.0 232.69 L292.0 235.27 L293.0 237.90 L294.0 240.55 L295.0 243.21 L296.0 245.86 L297.0 248.48 L298.0 251.05 L299.0 253.57 L300.0 256.02 L301.0 258.39 L302.0 260.67 L303.0 262.84 L304.0 264.90 L305.0 266.83 L306.0 268.63 L307.0 270.29 L308.0 271.81 L309.0 273.17 L310.0 274.37 L311.0 275.41 L312.0 276.28 L313.0 276.97 L314.0 277.49 L315.0 277.83 L316.0 277.99 L317.0 277.97 L318.0 277.76 L319.0 277.37 L320.0 276.80 L321.0 276.06 L322.0 275.13 L323.0 274.04 L324.0 272.78 L325.0 271.36 L326.0 269.79 L327.0 268.07 L328.0 266.23 L329.0 264.26 L330.0 262.19 L331.0 260.03 L332.0 257.80 L333.0 255.52 L334.0 253.20 L335.0 250.87 L336.0 248.56 L337.0 246.29 L338.0 244.07 L339.0 241.95 L340.0 239.94 L341.0 238.05 L342.0 236.32 L343.0 234.76 L344.0 233.37 L345.0 232.17 L346.0 231.16 L347.0 230.35 L348.0 229.72 L349.0 229.27 L350.0 229.01 L351.0 228.92 L352.0 228.99 L353.0 229.23 L354.0 229.63 L355.0 230.18 L356.0 230.89 L357.0 231.75 L358.0 232.76 L359.0 233.93 L360.0 235.26 L361.0 236.73 L362.0 238.36 L363.0 240.14 L364.0 242.05 L365.0 244.10 L366.0 246.26 L367.0 248.54 L368.0 250.91 L369.0 253.36 L370.0 255.87 L371.0 258.43 L372.0 261.02 L373.0 263.63 L374.0 266.23 L375.0 268.83 L376.0 271.40 L377.0 273.93 L378.0 276.42 L379.0 278.86 L380.0 281.24 L381.0 283.55 L382.0 285.79 L383.0 287.96 L384.0 290.05 L385.0 292.06 L386.0 293.99 L387.0 295.84 L388.0 297.60 L389.0 299.29 L390.0 300.89 L391.0 302.42 L392.0 303.86 L393.0 305.23 L394.0 306.53 L395.0 307.75 L396.0 308.90 L397.0 309.99 L398.0 311.01 L399.0 311.97 L400.0 312.86 L401.0 313.71 L402.0 314.49 L403.0 315.23 L404.0 315.92 L405.0 316.56 L406.0 317.16 L407.0 317.72 L408.0 318.24 L409.0 318.73 L410.0 319.18 L411.0 319.60 L412.0 320.00 L413.0 320.37 L414.0 320.71 L415.0 321.03 L416.0 321.33 L417.0 321.62 L418.0 321.88 L419.0 322.13 L420.0 322.36 L421.0 322.58 L422.0 322.79 L423.0 322.99 L424.0 323.17 L425.0 323.35 L426.0 323.52 L427.0 323.68 L428.0 323.83 L429.0 323.97 L430.0 324.11 L431.0 324.24 L432.0 324.37 L433.0 324.49 L434.0 324.61 L435.0 324.72 L436.0 324.82 L437.0 324.93 L438.0 325.03 L439.0 325.13 L440.0 325.22 L441.0 325.31 L442.0 325.40 L443.0 325.48 L444.0 325.56 L445.0 325.64 L446.0 325.72 L447.0 325.80 L448.0 325.87 L449.0 325.94 L450.0 326.01 L451.0 326.07 L452.0 326.14 L453.0 326.20 L454.0 326.26 L455.0 326.32 L456.0 326.38 L457.0 326.44 L458.0 326.49 L459.0 326.55 L460.0 326.60 L461.0 326.65 L462.0 326.70 L463.0 326.75 L464.0 326.80 L465.0 326.84 L466.0 326.89 L467.0 326.93 L468.0 326.97 L469.0 327.02 L470.0 327.06 L471.0 327.10 L472.0 327.14 L473.0 327.17 L474.0 327.21 L475.0 327.25 L476.0 327.28 L477.0 327.32 L478.0 327.35 L479.0 327.39 L480.0 327.42 L481.0 327.45 L482.0 327.48 L483.0 327.51 L484.0 327.54 L485.0 327.57 L486.0 327.60 L487.0 327.63 L488.0 327.66 L489.0 327.68 L490.0 327.71" stroke="#000" stroke-width="1.15" fill="none"/>
<path d="M56.0 338.94 L57.0 339.38 L58.0 339.68 L59.0 339.00 L60.0 338.78 L61.0 339.78 L62.0 339.71 L63.0 340.17 L64.0 340.25 L65.0 340.52 L66.0 341.44 L67.0 341.77 L68.0 341.53 L69.0 341.51 L70.0 341.43 L71.0 341.72 L72.0 341.56 L73.0 341.67 L74.0 341.59 L75.0 341.69 L76.0 341.68 L77.0 341.81 L78.0 342.03 L79.0 341.77 L80.0 341.15 L81.0 341.95 L82.0 342.13 L83.0 342.03 L84.0 342.30 L85.0 341.22 L86.0 341.66 L87.0 342.42 L88.0 341.55 L89.0 341.53 L90.0 342.13 L91.0 341.54 L92.0 342.73 L93.0 342.06 L94.0 341.99 L95.0 342.35 L96.0 342.57 L97.0 342.24 L98.0 342.24 L99.0 341.89 L100.0 342.22 L101.0 342.06 L102.0 342.36 L103.0 342.30 L104.0 342.75 L105.0 343.28 L106.0 342.72 L107.0 343.01 L108.0 342.55 L109.0 342.19 L110.0 342.43 L111.0 342.70 L112.0 342.65 L113.0 342.86 L114.0 342.79 L115.0 343.40 L116.0 343.20 L117.0 343.41 L118.0 343.19 L119.0 342.92 L120.0 342.29 L121.0 342.15 L122.0 342.18 L123.0 342.29 L124.0 341.51 L125.0 340.80 L126.0 340.94 L127.0 341.86 L128.0 341.93 L129.0 341.46 L130.0 341.11 L131.0 340.65 L132.0 341.14 L133.0 341.15 L134.0 340.89 L135.0 340.98 L136.0 340.92 L137.0 341.24 L138.0 341.79 L139.0 341.10 L140.0 340.95 L141.0 341.23 L142.0 341.61 L143.0 342.05 L144.0 342.49 L145.0 343.13 L146.0 343.30 L147.0 343.16 L148.0 342.92 L149.0 342.67 L150.0 342.80 L151.0 342.72 L152.0 341.50 L153.0 342.36 L154.0 342.33 L155.0 341.91 L156.0 341.54 L157.0 341.10 L158.0 340.52 L159.0 341.39 L160.0 340.47 L161.0 340.01 L162.0 340.52 L163.0 340.76 L164.0 340.56 L165.0 340.43 L166.0 339.61 L167.0 339.51 L168.0 340.10 L169.0 340.06 L170.0 339.66 L171.0 339.51 L172.0 340.10 L173.0 340.43 L174.0 340.46 L175.0 339.85 L176.0 339.73 L177.0 339.55 L178.0 339.96 L179.0 339.67 L180.0 339.62 L181.0 339.16 L182.0 338.36 L183.0 337.87 L184.0 337.80 L185.0 337.01 L186.0 337.20 L187.0 336.83 L188.0 337.59 L189.0 338.01 L190.0 337.52 L191.0 337.40 L192.0 337.85 L193.0 336.77 L194.0 336.79 L195.0 336.23 L196.0 336.42 L197.0 337.27 L198.0 337.14 L199.0 336.42 L200.0 336.67 L201.0 336.54 L202.0 336.69 L203.0 336.49 L204.0 335.70 L205.0 335.63 L206.0 335.91 L207.0 335.52 L208.0 334.95 L209.0 334.28 L210.0 333.95 L211.0 333.32 L212.0 332.54 L213.0 331.99 L214.0 332.01 L215.0 332.19 L216.0 331.94 L217.0 331.67 L218.0 331.37 L219.0 331.57 L220.0 331.12 L221.0 330.85 L222.0 329.78 L223.0 329.32 L224.0 328.74 L225.0 328.58 L226.0 327.80 L227.0 327.27 L228.0 325.55 L229.0 324.90 L230.0 323.82 L231.0 323.14 L232.0 321.93 L233.0 320.39 L234.0 318.28 L235.0 317.79 L236.0 316.60 L237.0 314.89 L238.0 312.96 L239.0 311.34 L240.0 309.42 L241.0 307.48 L242.0 305.16 L243.0 302.30 L244.0 299.29 L245.0 296.00 L246.0 292.68 L247.0 288.89 L248.0 285.75 L249.0 282.19 L250.0 278.50 L251.0 275.61 L252.0 271.99 L253.0 268.54 L254.0 265.25 L255.0 261.80 L256.0 257.37 L257.0 253.65 L258.0 249.40 L259.0 245.99 L260.0 241.68 L261.0 239.06 L262.0 235.46 L263.0 232.59 L264.0 229.72 L265.0 226.87 L266.0 223.15 L267.0 221.02 L268.0 217.40 L269.0 214.83 L270.0 212.01 L271.0 211.65 L272.0 210.58 L273.0 211.56 L274.0 211.79 L275.0 212.15 L276.0 212.24 L277.0 212.82 L278.0 212.49 L279.0 213.23 L280.0 213.67 L281.0 213.83 L282.0 215.24 L283.0 216.32 L284.0 217.57 L285.0 219.39 L286.0 222.12 L287.0 224.58 L288.0 226.23 L289.0 228.08 L290.0 230.87 L291.0 233.95 L292.0 236.17 L293.0 238.32 L294.0 240.67 L295.0 244.01 L296.0 245.97 L297.0 247.37 L298.0 249.04 L299.0 251.05 L300.0 253.27 L301.0 255.76 L302.0 258.20 L303.0 261.02 L304.0 263.60 L305.0 265.65 L306.0 268.07 L307.0 269.81 L308.0 271.42 L309.0 272.69 L310.0 273.85 L311.0 275.08 L312.0 276.57 L313.0 276.96 L314.0 277.11 L315.0 277.85 L316.0 277.66 L317.0 277.60 L318.0 277.59 L319.0 277.30 L320.0 276.51 L321.0 276.47 L322.0 275.28 L323.0 274.50 L324.0 273.63 L325.0 272.42 L326.0 270.58 L327.0 269.14 L328.0 266.68 L329.0 264.26 L330.0 262.03 L331.0 259.45 L332.0 256.66 L333.0 254.05 L334.0 250.95 L335.0 248.71 L336.0 247.18 L337.0 245.49 L338.0 242.84 L339.0 241.40 L340.0 239.53 L341.0 238.37 L342.0 237.27 L343.0 234.98 L344.0 232.99 L345.0 232.85 L346.0 231.43 L347.0 231.18 L348.0 231.43 L349.0 230.95 L350.0 231.23 L351.0 231.95 L352.0 231.40 L353.0 232.19 L354.0 232.19 L355.0 232.34 L356.0 232.49 L357.0 232.84 L358.0 233.22 L359.0 234.90 L360.0 235.63 L361.0 236.64 L362.0 238.41 L363.0 240.67 L364.0 242.63 L365.0 244.66 L366.0 246.34 L367.0 248.49 L368.0 250.90 L369.0 252.80 L370.0 255.08 L371.0 258.12 L372.0 261.01 L373.0 263.82 L374.0 265.88 L375.0 268.49 L376.0 271.12 L377.0 273.69 L378.0 275.95 L379.0 278.40 L380.0 280.49 L381.0 283.55 L382.0 285.63 L383.0 288.02 L384.0 289.95 L385.0 291.66 L386.0 293.89 L387.0 295.89 L388.0 297.60 L389.0 299.68 L390.0 301.26 L391.0 303.53 L392.0 304.95 L393.0 306.31 L394.0 308.12 L395.0 309.29 L396.0 309.43 L397.0 310.95 L398.0 313.40 L399.0 315.20 L400.0 315.82 L401.0 314.48 L402.0 316.68 L403.0 316.89 L404.0 316.95 L405.0 318.08 L406.0 319.14 L407.0 320.66 L408.0 318.90 L409.0 320.12 L410.0 322.42 L411.0 320.70 L412.0 321.47 L413.0 321.91 L414.0 324.91 L415.0 327.89 L416.0 327.20 L417.0 327.46 L418.0 326.51 L419.0 325.90 L420.0 326.85 L421.0 327.48 L422.0 326.94 L423.0 326.33 L424.0 325.19 L425.0 327.56 L426.0 328.58 L427.0 329.04 L428.0 327.98 L429.0 326.44 L430.0 324.39 L431.0 324.36 L432.0 326.34 L433.0 328.93 L434.0 327.47 L435.0 326.49 L436.0 326.50 L437.0 326.01 L438.0 323.49 L439.0 324.81 L440.0 327.12 L441.0 324.63 L442.0 323.90 L443.0 326.03 L444.0 323.51 L445.0 325.45 L446.0 328.92 L447.0 329.81 L448.0 328.54 L449.0 328.34 L450.0 327.91 L451.0 326.19 L452.0 325.11 L453.0 327.29 L454.0 327.04 L455.0 326.10 L456.0 324.79 L457.0 326.34 L458.0 325.14 L459.0 324.10 L460.0 324.89 L461.0 327.27 L462.0 329.26 L463.0 329.00 L464.0 327.47 L465.0 327.30 L466.0 327.45 L467.0 327.11 L468.0 328.01 L469.0 327.81 L470.0 326.97 L471.0 327.28 L472.0 326.61 L473.0 326.38 L474.0 325.58 L475.0 325.99 L476.0 326.54 L477.0 326.74 L478.0 327.30 L479.0 326.76 L480.0 325.57 L481.0 324.94 L482.0 325.74 L483.0 326.59 L484.0 327.60 L485.0 328.12 L486.0 328.80 L487.0 328.84 L488.0 328.48 L489.0 327.43 L490.0 327.39" stroke="#222" stroke-width="0.8" fill="none"/>
<path d="M56 500.1 H491" stroke="#333" stroke-width="1.1" fill="none"/>
<path d="M56 500.0 H262" stroke="#000" stroke-width="2.0" fill="none"/>
<path d="M262 499.0 L300 499.7 L300 500.3 L262 501.0z" fill="#000" stroke="none"/>
<path d="M395.0 493.76 L396.0 493.80 L397.0 493.83 L398.0 493.86 L399.0 493.89 L400.0 493.92 L401.0 493.95 L402.0 493.98 L403.0 494.00 L404.0 494.03 L405.0 494.06 L406.0 494.08 L407.0 494.11 L408.0 494.13 L409.0 494.16 L410.0 494.18 L411.0 494.21 L412.0 494.23 L413.0 494.25 L414.0 494.27 L415.0 494.29 L416.0 494.31 L417.0 494.33 L418.0 494.35 L419.0 494.37 L420.0 494.39 L421.0 494.41 L422.0 494.43 L423.0 494.45 L424.0 494.46 L425.0 494.48 L426.0 494.50 L427.0 494.52 L428.0 494.53 L429.0 494.55 L430.0 494.56 L431.0 494.58 L432.0 494.59 L433.0 494.61 L434.0 494.62 L435.0 494.64 L436.0 494.65 L437.0 494.66 L438.0 494.68 L439.0 494.69 L440.0 494.70 L441.0 494.72 L442.0 494.73 L443.0 494.74 L444.0 494.75 L445.0 494.76 L446.0 494.77 L447.0 494.79 L448.0 494.80 L449.0 494.81 L450.0 494.82 L451.0 494.83 L452.0 494.84 L453.0 494.85 L454.0 494.86 L455.0 494.87 L456.0 494.88 L457.0 494.89 L458.0 494.90 L459.0 494.91 L460.0 494.92 L461.0 494.93 L462.0 494.93 L463.0 494.94 L464.0 494.95 L465.0 494.96 L466.0 494.97 L467.0 494.98 L468.0 494.98 L469.0 494.99 L470.0 495.00 L471.0 495.01 L472.0 495.01 L473.0 495.02 L474.0 495.03 L475.0 495.04 L476.0 495.04 L477.0 495.05 L478.0 495.06 L479.0 495.06 L480.0 495.07 L481.0 495.08 L482.0 495.08 L483.0 495.09 L484.0 495.10 L485.0 495.10 L486.0 495.11 L487.0 495.11 L488.0 495.12 L489.0 495.13 L490.0 495.13" stroke="#000" stroke-width="1.6" fill="none"/>
<path d="M56.0 500.06 L57.0 500.06 L58.0 500.06 L59.0 500.06 L60.0 500.06 L61.0 500.05 L62.0 500.05 L63.0 500.05 L64.0 500.05 L65.0 500.05 L66.0 500.05 L67.0 500.05 L68.0 500.05 L69.0 500.05 L70.0 500.05 L71.0 500.05 L72.0 500.05 L73.0 500.05 L74.0 500.05 L75.0 500.05 L76.0 500.05 L77.0 500.05 L78.0 500.04 L79.0 500.04 L80.0 500.04 L81.0 500.04 L82.0 500.04 L83.0 500.04 L84.0 500.04 L85.0 500.04 L86.0 500.04 L87.0 500.04 L88.0 500.04 L89.0 500.04 L90.0 500.03 L91.0 500.03 L92.0 500.03 L93.0 500.03 L94.0 500.03 L95.0 500.03 L96.0 500.03 L97.0 500.03 L98.0 500.03 L99.0 500.03 L100.0 500.02 L101.0 500.02 L102.0 500.02 L103.0 500.02 L104.0 500.02 L105.0 500.02 L106.0 500.02 L107.0 500.02 L108.0 500.02 L109.0 500.01 L110.0 500.01 L111.0 500.01 L112.0 500.01 L113.0 500.01 L114.0 500.01 L115.0 500.00 L116.0 500.00 L117.0 500.00 L118.0 500.00 L119.0 500.00 L120.0 500.00 L121.0 499.99 L122.0 499.99 L123.0 499.99 L124.0 499.99 L125.0 499.99 L126.0 499.98 L127.0 499.98 L128.0 499.98 L129.0 499.98 L130.0 499.98 L131.0 499.97 L132.0 499.97 L133.0 499.97 L134.0 499.97 L135.0 499.96 L136.0 499.96 L137.0 499.96 L138.0 499.96 L139.0 499.95 L140.0 499.95 L141.0 499.95 L142.0 499.94 L143.0 499.94 L144.0 499.94 L145.0 499.93 L146.0 499.93 L147.0 499.92 L148.0 499.92 L149.0 499.92 L150.0 499.91 L151.0 499.91 L152.0 499.90 L153.0 499.90 L154.0 499.89 L155.0 499.89 L156.0 499.88 L157.0 499.88 L158.0 499.87 L159.0 499.87 L160.0 499.86 L161.0 499.85 L162.0 499.85 L163.0 499.84 L164.0 499.83 L165.0 499.83 L166.0 499.82 L167.0 499.81 L168.0 499.80 L169.0 499.79 L170.0 499.78 L171.0 499.77 L172.0 499.76 L173.0 499.75 L174.0 499.74 L175.0 499.73 L176.0 499.72 L177.0 499.70 L178.0 499.69 L179.0 499.68 L180.0 499.66 L181.0 499.64 L182.0 499.63 L183.0 499.61 L184.0 499.59 L185.0 499.56 L186.0 499.54 L187.0 499.51 L188.0 499.48 L189.0 499.45 L190.0 499.41 L191.0 499.37 L192.0 499.32 L193.0 499.27 L194.0 499.22 L195.0 499.15 L196.0 499.08 L197.0 499.00 L198.0 498.91 L199.0 498.81 L200.0 498.69 L201.0 498.57 L202.0 498.42 L203.0 498.27 L204.0 498.09 L205.0 497.90 L206.0 497.68 L207.0 497.45 L208.0 497.19 L209.0 496.91 L210.0 496.61 L211.0 496.28 L212.0 495.93 L213.0 495.56 L214.0 495.17 L215.0 494.75 L216.0 494.31 L217.0 493.85 L218.0 493.38 L219.0 492.89 L220.0 492.39 L221.0 491.88 L222.0 491.38 L223.0 490.88 L224.0 490.38 L225.0 489.91 L226.0 489.46 L227.0 489.04 L228.0 488.66 L229.0 488.32 L230.0 488.05 L231.0 487.83 L232.0 487.68 L233.0 487.61 L234.0 487.61 L235.0 487.69 L236.0 487.85 L237.0 488.09 L238.0 488.39 L239.0 488.75 L240.0 489.16 L241.0 489.62 L242.0 490.11 L243.0 490.63 L244.0 491.16 L245.0 491.71 L246.0 492.25 L247.0 492.80 L248.0 493.33 L249.0 493.85 L250.0 494.35 L251.0 494.84 L252.0 495.29 L253.0 495.73 L254.0 496.13 L255.0 496.51 L256.0 496.86 L257.0 497.18 L258.0 497.48 L259.0 497.75 L260.0 497.99 L261.0 498.21 L262.0 498.40 L263.0 498.58 L264.0 498.73 L265.0 498.87 L266.0 498.99 L267.0 499.10 L268.0 499.19 L269.0 499.27 L270.0 499.34 L271.0 499.40 L272.0 499.46 L273.0 499.50 L274.0 499.54 L275.0 499.58 L276.0 499.61 L277.0 499.64 L278.0 499.67 L279.0 499.69 L280.0 499.71 L281.0 499.73 L282.0 499.74 L283.0 499.76 L284.0 499.77 L285.0 499.78 L286.0 499.80 L287.0 499.81 L288.0 499.82 L289.0 499.83 L290.0 499.84 L291.0 499.85 L292.0 499.85 L293.0 499.86 L294.0 499.87 L295.0 499.88 L296.0 499.88 L297.0 499.89 L298.0 499.90 L299.0 499.90 L300.0 499.91 L301.0 499.91 L302.0 499.92 L303.0 499.92 L304.0 499.93 L305.0 499.93 L306.0 499.94 L307.0 499.94 L308.0 499.94 L309.0 499.95 L310.0 499.95 L311.0 499.96 L312.0 499.96 L313.0 499.96 L314.0 499.97 L315.0 499.97 L316.0 499.97 L317.0 499.98 L318.0 499.98 L319.0 499.98 L320.0 499.98 L321.0 499.99 L322.0 499.99 L323.0 499.99 L324.0 499.99 L325.0 500.00 L326.0 500.00 L327.0 500.00 L328.0 500.00 L329.0 500.00 L330.0 500.01 L331.0 500.01 L332.0 500.01 L333.0 500.01 L334.0 500.01 L335.0 500.01 L336.0 500.02 L337.0 500.02 L338.0 500.02 L339.0 500.02 L340.0 500.02 L341.0 500.02 L342.0 500.03 L343.0 500.03 L344.0 500.03 L345.0 500.03 L346.0 500.03 L347.0 500.03 L348.0 500.03 L349.0 500.03 L350.0 500.03 L351.0 500.04 L352.0 500.04 L353.0 500.04 L354.0 500.04 L355.0 500.04 L356.0 500.04 L357.0 500.04 L358.0 500.04 L359.0 500.04 L360.0 500.04 L361.0 500.05 L362.0 500.05 L363.0 500.05 L364.0 500.05 L365.0 500.05 L366.0 500.05 L367.0 500.05 L368.0 500.05 L369.0 500.05 L370.0 500.05 L371.0 500.05 L372.0 500.05 L373.0 500.05 L374.0 500.05 L375.0 500.06 L376.0 500.06 L377.0 500.06 L378.0 500.06 L379.0 500.06 L380.0 500.06 L381.0 500.06 L382.0 500.06 L383.0 500.06 L384.0 500.06 L385.0 500.06 L386.0 500.06 L387.0 500.06 L388.0 500.06 L389.0 500.06 L390.0 500.06 L391.0 500.06 L392.0 500.06 L393.0 500.06 L394.0 500.07 L395.0 500.07 L396.0 500.07 L397.0 500.07 L398.0 500.07 L399.0 500.07 L400.0 500.07 L401.0 500.07 L402.0 500.07 L403.0 500.07 L404.0 500.07 L405.0 500.07 L406.0 500.07 L407.0 500.07 L408.0 500.07 L409.0 500.07 L410.0 500.07 L411.0 500.07 L412.0 500.07 L413.0 500.07 L414.0 500.07 L415.0 500.07 L416.0 500.07 L417.0 500.07 L418.0 500.07 L419.0 500.07 L420.0 500.07 L421.0 500.07 L422.0 500.07 L423.0 500.08 L424.0 500.08 L425.0 500.08 L426.0 500.08 L427.0 500.08 L428.0 500.08 L429.0 500.08 L430.0 500.08 L431.0 500.08 L432.0 500.08 L433.0 500.08 L434.0 500.08 L435.0 500.08 L436.0 500.08 L437.0 500.08 L438.0 500.08 L439.0 500.08 L440.0 500.08 L441.0 500.08 L442.0 500.08 L443.0 500.08 L444.0 500.08 L445.0 500.08 L446.0 500.08 L447.0 500.08 L448.0 500.08 L449.0 500.08 L450.0 500.08 L451.0 500.08 L452.0 500.08 L453.0 500.08 L454.0 500.08 L455.0 500.08 L456.0 500.08 L457.0 500.08 L458.0 500.08 L459.0 500.08 L460.0 500.08 L461.0 500.08 L462.0 500.08 L463.0 500.08 L464.0 500.08 L465.0 500.08 L466.0 500.08 L467.0 500.08 L468.0 500.08 L469.0 500.08 L470.0 500.08 L471.0 500.08 L472.0 500.08 L473.0 500.08 L474.0 500.08 L475.0 500.08 L476.0 500.08 L477.0 500.08 L478.0 500.08 L479.0 500.09 L480.0 500.09 L481.0 500.09 L482.0 500.09 L483.0 500.09 L484.0 500.09 L485.0 500.09 L486.0 500.09 L487.0 500.09 L488.0 500.09 L489.0 500.09 L490.0 500.09" stroke="#151515" stroke-width="1.05" fill="none"/>
<path d="M56.0 499.91 L57.0 499.90 L58.0 499.90 L59.0 499.90 L60.0 499.90 L61.0 499.89 L62.0 499.89 L63.0 499.89 L64.0 499.89 L65.0 499.89 L66.0 499.88 L67.0 499.88 L68.0 499.88 L69.0 499.88 L70.0 499.87 L71.0 499.87 L72.0 499.87 L73.0 499.87 L74.0 499.86 L75.0 499.86 L76.0 499.86 L77.0 499.86 L78.0 499.85 L79.0 499.85 L80.0 499.85 L81.0 499.84 L82.0 499.84 L83.0 499.84 L84.0 499.83 L85.0 499.83 L86.0 499.83 L87.0 499.83 L88.0 499.82 L89.0 499.82 L90.0 499.82 L91.0 499.81 L92.0 499.81 L93.0 499.80 L94.0 499.80 L95.0 499.80 L96.0 499.79 L97.0 499.79 L98.0 499.79 L99.0 499.78 L100.0 499.78 L101.0 499.77 L102.0 499.77 L103.0 499.77 L104.0 499.76 L105.0 499.76 L106.0 499.75 L107.0 499.75 L108.0 499.74 L109.0 499.74 L110.0 499.73 L111.0 499.73 L112.0 499.72 L113.0 499.72 L114.0 499.71 L115.0 499.71 L116.0 499.70 L117.0 499.70 L118.0 499.69 L119.0 499.69 L120.0 499.68 L121.0 499.67 L122.0 499.67 L123.0 499.66 L124.0 499.65 L125.0 499.65 L126.0 499.64 L127.0 499.63 L128.0 499.63 L129.0 499.62 L130.0 499.61 L131.0 499.61 L132.0 499.60 L133.0 499.59 L134.0 499.58 L135.0 499.57 L136.0 499.57 L137.0 499.56 L138.0 499.55 L139.0 499.54 L140.0 499.53 L141.0 499.52 L142.0 499.51 L143.0 499.50 L144.0 499.49 L145.0 499.48 L146.0 499.47 L147.0 499.46 L148.0 499.45 L149.0 499.44 L150.0 499.43 L151.0 499.42 L152.0 499.40 L153.0 499.39 L154.0 499.38 L155.0 499.37 L156.0 499.35 L157.0 499.34 L158.0 499.32 L159.0 499.31 L160.0 499.30 L161.0 499.28 L162.0 499.26 L163.0 499.25 L164.0 499.23 L165.0 499.21 L166.0 499.20 L167.0 499.18 L168.0 499.16 L169.0 499.14 L170.0 499.12 L171.0 499.10 L172.0 499.08 L173.0 499.06 L174.0 499.03 L175.0 499.01 L176.0 498.99 L177.0 498.96 L178.0 498.94 L179.0 498.91 L180.0 498.88 L181.0 498.85 L182.0 498.82 L183.0 498.79 L184.0 498.76 L185.0 498.73 L186.0 498.69 L187.0 498.65 L188.0 498.62 L189.0 498.58 L190.0 498.53 L191.0 498.49 L192.0 498.44 L193.0 498.40 L194.0 498.34 L195.0 498.29 L196.0 498.23 L197.0 498.17 L198.0 498.10 L199.0 498.03 L200.0 497.96 L201.0 497.87 L202.0 497.79 L203.0 497.69 L204.0 497.59 L205.0 497.48 L206.0 497.36 L207.0 497.23 L208.0 497.09 L209.0 496.93 L210.0 496.76 L211.0 496.58 L212.0 496.38 L213.0 496.16 L214.0 495.92 L215.0 495.66 L216.0 495.38 L217.0 495.07 L218.0 494.73 L219.0 494.37 L220.0 493.98 L221.0 493.55 L222.0 493.09 L223.0 492.59 L224.0 492.06 L225.0 491.48 L226.0 490.87 L227.0 490.21 L228.0 489.51 L229.0 488.76 L230.0 487.97 L231.0 487.13 L232.0 486.25 L233.0 485.31 L234.0 484.34 L235.0 483.31 L236.0 482.25 L237.0 481.14 L238.0 479.99 L239.0 478.80 L240.0 477.58 L241.0 476.32 L242.0 475.04 L243.0 473.74 L244.0 472.43 L245.0 471.10 L246.0 469.78 L247.0 468.46 L248.0 467.15 L249.0 465.87 L250.0 464.62 L251.0 463.41 L252.0 462.26 L253.0 461.18 L254.0 460.17 L255.0 459.26 L256.0 458.45 L257.0 457.75 L258.0 457.18 L259.0 456.73 L260.0 456.42 L261.0 456.26 L262.0 456.24 L263.0 456.36 L264.0 456.63 L265.0 457.03 L266.0 457.56 L267.0 458.22 L268.0 458.98 L269.0 459.85 L270.0 460.81 L271.0 461.84 L272.0 462.94 L273.0 464.10 L274.0 465.30 L275.0 466.54 L276.0 467.80 L277.0 469.07 L278.0 470.35 L279.0 471.63 L280.0 472.90 L281.0 474.15 L282.0 475.39 L283.0 476.60 L284.0 477.78 L285.0 478.93 L286.0 480.04 L287.0 481.11 L288.0 482.14 L289.0 483.13 L290.0 484.07 L291.0 484.97 L292.0 485.83 L293.0 486.64 L294.0 487.40 L295.0 488.12 L296.0 488.80 L297.0 489.43 L298.0 490.03 L299.0 490.58 L300.0 491.09 L301.0 491.57 L302.0 492.01 L303.0 492.42 L304.0 492.80 L305.0 493.15 L306.0 493.47 L307.0 493.77 L308.0 494.04 L309.0 494.29 L310.0 494.51 L311.0 494.72 L312.0 494.91 L313.0 495.09 L314.0 495.25 L315.0 495.40 L316.0 495.53 L317.0 495.66 L318.0 495.77 L319.0 495.88 L320.0 495.97 L321.0 496.06 L322.0 496.15 L323.0 496.22 L324.0 496.29 L325.0 496.36 L326.0 496.42 L327.0 496.48 L328.0 496.54 L329.0 496.59 L330.0 496.64 L331.0 496.68 L332.0 496.72 L333.0 496.77 L334.0 496.80 L335.0 496.84 L336.0 496.88 L337.0 496.91 L338.0 496.94 L339.0 496.97 L340.0 497.00 L341.0 497.03 L342.0 497.06 L343.0 497.09 L344.0 497.11 L345.0 497.14 L346.0 497.16 L347.0 497.18 L348.0 497.21 L349.0 497.23 L350.0 497.25 L351.0 497.27 L352.0 497.29 L353.0 497.31 L354.0 497.33 L355.0 497.34 L356.0 497.36 L357.0 497.38 L358.0 497.39 L359.0 497.41 L360.0 497.42 L361.0 497.44 L362.0 497.45 L363.0 497.47 L364.0 497.48 L365.0 497.49 L366.0 497.51 L367.0 497.52 L368.0 497.53 L369.0 497.54 L370.0 497.56 L371.0 497.57 L372.0 497.58 L373.0 497.59 L374.0 497.60 L375.0 497.61 L376.0 497.62 L377.0 497.63 L378.0 497.64 L379.0 497.65 L380.0 497.66 L381.0 497.67 L382.0 497.67 L383.0 497.68 L384.0 497.69 L385.0 497.70 L386.0 497.71 L387.0 497.71 L388.0 497.72 L389.0 497.73 L390.0 497.74 L391.0 497.74 L392.0 497.75 L393.0 497.76 L394.0 497.76 L395.0 497.77 L396.0 497.77 L397.0 497.78 L398.0 497.79 L399.0 497.79 L400.0 497.80 L401.0 497.80 L402.0 497.81 L403.0 497.81 L404.0 497.82 L405.0 497.82 L406.0 497.83 L407.0 497.83 L408.0 497.84 L409.0 497.84 L410.0 497.85 L411.0 497.85 L412.0 497.86 L413.0 497.86 L414.0 497.87 L415.0 497.87 L416.0 497.87 L417.0 497.88 L418.0 497.88 L419.0 497.89 L420.0 497.89 L421.0 497.89 L422.0 497.90 L423.0 497.90 L424.0 497.90 L425.0 497.91 L426.0 497.91 L427.0 497.91 L428.0 497.92 L429.0 497.92 L430.0 497.92 L431.0 497.93 L432.0 497.93 L433.0 497.93 L434.0 497.94 L435.0 497.94 L436.0 497.94 L437.0 497.94 L438.0 497.95 L439.0 497.95 L440.0 497.95 L441.0 497.95 L442.0 497.96 L443.0 497.96 L444.0 497.96 L445.0 497.96 L446.0 497.97 L447.0 497.97 L448.0 497.97 L449.0 497.97 L450.0 497.98 L451.0 497.98 L452.0 497.98 L453.0 497.98 L454.0 497.98 L455.0 497.99 L456.0 497.99 L457.0 497.99 L458.0 497.99 L459.0 498.00 L460.0 498.00 L461.0 498.00 L462.0 498.00 L463.0 498.00 L464.0 498.00 L465.0 498.01 L466.0 498.01 L467.0 498.01 L468.0 498.01 L469.0 498.01 L470.0 498.01 L471.0 498.02 L472.0 498.02 L473.0 498.02 L474.0 498.02 L475.0 498.02 L476.0 498.02 L477.0 498.03 L478.0 498.03 L479.0 498.03 L480.0 498.03 L481.0 498.03 L482.0 498.03 L483.0 498.03 L484.0 498.04 L485.0 498.04 L486.0 498.04 L487.0 498.04 L488.0 498.04 L489.0 498.04 L490.0 498.04" stroke="#151515" stroke-width="1.05" fill="none"/>
<path d="M56.0 499.73 L57.0 499.73 L58.0 499.72 L59.0 499.72 L60.0 499.72 L61.0 499.71 L62.0 499.71 L63.0 499.70 L64.0 499.70 L65.0 499.70 L66.0 499.69 L67.0 499.69 L68.0 499.68 L69.0 499.68 L70.0 499.68 L71.0 499.67 L72.0 499.67 L73.0 499.66 L74.0 499.66 L75.0 499.65 L76.0 499.65 L77.0 499.64 L78.0 499.64 L79.0 499.63 L80.0 499.63 L81.0 499.62 L82.0 499.62 L83.0 499.61 L84.0 499.61 L85.0 499.60 L86.0 499.60 L87.0 499.59 L88.0 499.59 L89.0 499.58 L90.0 499.57 L91.0 499.57 L92.0 499.56 L93.0 499.56 L94.0 499.55 L95.0 499.54 L96.0 499.54 L97.0 499.53 L98.0 499.52 L99.0 499.52 L100.0 499.51 L101.0 499.50 L102.0 499.50 L103.0 499.49 L104.0 499.48 L105.0 499.47 L106.0 499.47 L107.0 499.46 L108.0 499.45 L109.0 499.44 L110.0 499.44 L111.0 499.43 L112.0 499.42 L113.0 499.41 L114.0 499.40 L115.0 499.39 L116.0 499.39 L117.0 499.38 L118.0 499.37 L119.0 499.36 L120.0 499.35 L121.0 499.34 L122.0 499.33 L123.0 499.32 L124.0 499.31 L125.0 499.30 L126.0 499.29 L127.0 499.28 L128.0 499.27 L129.0 499.25 L130.0 499.24 L131.0 499.23 L132.0 499.22 L133.0 499.21 L134.0 499.19 L135.0 499.18 L136.0 499.17 L137.0 499.16 L138.0 499.14 L139.0 499.13 L140.0 499.11 L141.0 499.10 L142.0 499.09 L143.0 499.07 L144.0 499.06 L145.0 499.04 L146.0 499.02 L147.0 499.01 L148.0 498.99 L149.0 498.97 L150.0 498.96 L151.0 498.94 L152.0 498.92 L153.0 498.90 L154.0 498.88 L155.0 498.86 L156.0 498.84 L157.0 498.82 L158.0 498.80 L159.0 498.78 L160.0 498.76 L161.0 498.74 L162.0 498.72 L163.0 498.69 L164.0 498.67 L165.0 498.64 L166.0 498.62 L167.0 498.59 L168.0 498.57 L169.0 498.54 L170.0 498.51 L171.0 498.48 L172.0 498.45 L173.0 498.42 L174.0 498.39 L175.0 498.36 L176.0 498.33 L177.0 498.29 L178.0 498.26 L179.0 498.22 L180.0 498.19 L181.0 498.15 L182.0 498.11 L183.0 498.07 L184.0 498.03 L185.0 497.99 L186.0 497.94 L187.0 497.90 L188.0 497.85 L189.0 497.80 L190.0 497.75 L191.0 497.70 L192.0 497.65 L193.0 497.59 L194.0 497.54 L195.0 497.48 L196.0 497.42 L197.0 497.35 L198.0 497.28 L199.0 497.21 L200.0 497.14 L201.0 497.06 L202.0 496.98 L203.0 496.90 L204.0 496.81 L205.0 496.72 L206.0 496.62 L207.0 496.51 L208.0 496.40 L209.0 496.28 L210.0 496.15 L211.0 496.02 L212.0 495.87 L213.0 495.72 L214.0 495.55 L215.0 495.37 L216.0 495.18 L217.0 494.97 L218.0 494.75 L219.0 494.51 L220.0 494.24 L221.0 493.96 L222.0 493.65 L223.0 493.32 L224.0 492.96 L225.0 492.58 L226.0 492.16 L227.0 491.70 L228.0 491.21 L229.0 490.68 L230.0 490.11 L231.0 489.49 L232.0 488.83 L233.0 488.11 L234.0 487.34 L235.0 486.52 L236.0 485.64 L237.0 484.70 L238.0 483.70 L239.0 482.63 L240.0 481.49 L241.0 480.29 L242.0 479.01 L243.0 477.67 L244.0 476.25 L245.0 474.76 L246.0 473.19 L247.0 471.56 L248.0 469.85 L249.0 468.07 L250.0 466.23 L251.0 464.32 L252.0 462.35 L253.0 460.32 L254.0 458.24 L255.0 456.11 L256.0 453.94 L257.0 451.73 L258.0 449.50 L259.0 447.25 L260.0 445.00 L261.0 442.74 L262.0 440.51 L263.0 438.29 L264.0 436.12 L265.0 434.01 L266.0 431.96 L267.0 430.00 L268.0 428.15 L269.0 426.41 L270.0 424.81 L271.0 423.37 L272.0 422.09 L273.0 421.00 L274.0 420.10 L275.0 419.41 L276.0 418.94 L277.0 418.69 L278.0 418.68 L279.0 418.98 L280.0 419.57 L281.0 420.45 L282.0 421.59 L283.0 422.97 L284.0 424.56 L285.0 426.34 L286.0 428.27 L287.0 430.33 L288.0 432.48 L289.0 434.70 L290.0 436.96 L291.0 439.25 L292.0 441.54 L293.0 443.81 L294.0 446.05 L295.0 448.26 L296.0 450.41 L297.0 452.51 L298.0 454.54 L299.0 456.50 L300.0 458.39 L301.0 460.21 L302.0 461.95 L303.0 463.62 L304.0 465.21 L305.0 466.73 L306.0 468.17 L307.0 469.54 L308.0 470.84 L309.0 472.07 L310.0 473.24 L311.0 474.34 L312.0 475.38 L313.0 476.36 L314.0 477.29 L315.0 478.16 L316.0 478.98 L317.0 479.75 L318.0 480.48 L319.0 481.16 L320.0 481.80 L321.0 482.41 L322.0 482.97 L323.0 483.51 L324.0 484.01 L325.0 484.48 L326.0 484.92 L327.0 485.34 L328.0 485.74 L329.0 486.11 L330.0 486.46 L331.0 486.79 L332.0 487.10 L333.0 487.40 L334.0 487.68 L335.0 487.94 L336.0 488.19 L337.0 488.43 L338.0 488.66 L339.0 488.88 L340.0 489.08 L341.0 489.28 L342.0 489.47 L343.0 489.65 L344.0 489.82 L345.0 489.98 L346.0 490.14 L347.0 490.29 L348.0 490.44 L349.0 490.58 L350.0 490.71 L351.0 490.84 L352.0 490.96 L353.0 491.08 L354.0 491.20 L355.0 491.31 L356.0 491.41 L357.0 491.52 L358.0 491.62 L359.0 491.71 L360.0 491.81 L361.0 491.89 L362.0 491.98 L363.0 492.07 L364.0 492.15 L365.0 492.23 L366.0 492.30 L367.0 492.37 L368.0 492.45 L369.0 492.52 L370.0 492.58 L371.0 492.65 L372.0 492.71 L373.0 492.77 L374.0 492.83 L375.0 492.89 L376.0 492.95 L377.0 493.00 L378.0 493.05 L379.0 493.10 L380.0 493.15 L381.0 493.20 L382.0 493.25 L383.0 493.30 L384.0 493.34 L385.0 493.38 L386.0 493.43 L387.0 493.47 L388.0 493.51 L389.0 493.55 L390.0 493.59 L391.0 493.62 L392.0 493.66 L393.0 493.70 L394.0 493.73 L395.0 493.76 L396.0 493.80 L397.0 493.83 L398.0 493.86 L399.0 493.89 L400.0 493.92 L401.0 493.95 L402.0 493.98 L403.0 494.00 L404.0 494.03 L405.0 494.06 L406.0 494.08 L407.0 494.11 L408.0 494.13 L409.0 494.16 L410.0 494.18 L411.0 494.21 L412.0 494.23 L413.0 494.25 L414.0 494.27 L415.0 494.29 L416.0 494.31 L417.0 494.33 L418.0 494.35 L419.0 494.37 L420.0 494.39 L421.0 494.41 L422.0 494.43 L423.0 494.45 L424.0 494.46 L425.0 494.48 L426.0 494.50 L427.0 494.52 L428.0 494.53 L429.0 494.55 L430.0 494.56 L431.0 494.58 L432.0 494.59 L433.0 494.61 L434.0 494.62 L435.0 494.64 L436.0 494.65 L437.0 494.66 L438.0 494.68 L439.0 494.69 L440.0 494.70 L441.0 494.72 L442.0 494.73 L443.0 494.74 L444.0 494.75 L445.0 494.76 L446.0 494.77 L447.0 494.79 L448.0 494.80 L449.0 494.81 L450.0 494.82 L451.0 494.83 L452.0 494.84 L453.0 494.85 L454.0 494.86 L455.0 494.87 L456.0 494.88 L457.0 494.89 L458.0 494.90 L459.0 494.91 L460.0 494.92 L461.0 494.93 L462.0 494.93 L463.0 494.94 L464.0 494.95 L465.0 494.96 L466.0 494.97 L467.0 494.98 L468.0 494.98 L469.0 494.99 L470.0 495.00 L471.0 495.01 L472.0 495.01 L473.0 495.02 L474.0 495.03 L475.0 495.04 L476.0 495.04 L477.0 495.05 L478.0 495.06 L479.0 495.06 L480.0 495.07 L481.0 495.08 L482.0 495.08 L483.0 495.09 L484.0 495.10 L485.0 495.10 L486.0 495.11 L487.0 495.11 L488.0 495.12 L489.0 495.13 L490.0 495.13" stroke="#151515" stroke-width="1.05" fill="none"/>
<path d="M56.0 500.09 L57.0 500.09 L58.0 500.09 L59.0 500.09 L60.0 500.09 L61.0 500.09 L62.0 500.09 L63.0 500.09 L64.0 500.09 L65.0 500.09 L66.0 500.09 L67.0 500.09 L68.0 500.09 L69.0 500.09 L70.0 500.09 L71.0 500.09 L72.0 500.09 L73.0 500.09 L74.0 500.09 L75.0 500.09 L76.0 500.09 L77.0 500.09 L78.0 500.09 L79.0 500.09 L80.0 500.09 L81.0 500.09 L82.0 500.09 L83.0 500.09 L84.0 500.09 L85.0 500.09 L86.0 500.09 L87.0 500.09 L88.0 500.09 L89.0 500.09 L90.0 500.09 L91.0 500.09 L92.0 500.09 L93.0 500.09 L94.0 500.09 L95.0 500.09 L96.0 500.09 L97.0 500.09 L98.0 500.09 L99.0 500.09 L100.0 500.09 L101.0 500.09 L102.0 500.09 L103.0 500.09 L104.0 500.09 L105.0 500.08 L106.0 500.08 L107.0 500.08 L108.0 500.08 L109.0 500.08 L110.0 500.08 L111.0 500.08 L112.0 500.08 L113.0 500.08 L114.0 500.08 L115.0 500.08 L116.0 500.08 L117.0 500.08 L118.0 500.08 L119.0 500.08 L120.0 500.08 L121.0 500.08 L122.0 500.08 L123.0 500.08 L124.0 500.08 L125.0 500.08 L126.0 500.08 L127.0 500.08 L128.0 500.08 L129.0 500.08 L130.0 500.08 L131.0 500.08 L132.0 500.08 L133.0 500.08 L134.0 500.08 L135.0 500.08 L136.0 500.08 L137.0 500.08 L138.0 500.08 L139.0 500.08 L140.0 500.08 L141.0 500.08 L142.0 500.08 L143.0 500.08 L144.0 500.08 L145.0 500.08 L146.0 500.08 L147.0 500.08 L148.0 500.08 L149.0 500.08 L150.0 500.07 L151.0 500.07 L152.0 500.07 L153.0 500.07 L154.0 500.07 L155.0 500.07 L156.0 500.07 L157.0 500.07 L158.0 500.07 L159.0 500.07 L160.0 500.07 L161.0 500.07 L162.0 500.07 L163.0 500.07 L164.0 500.07 L165.0 500.07 L166.0 500.07 L167.0 500.07 L168.0 500.07 L169.0 500.07 L170.0 500.07 L171.0 500.07 L172.0 500.07 L173.0 500.07 L174.0 500.06 L175.0 500.06 L176.0 500.06 L177.0 500.06 L178.0 500.06 L179.0 500.06 L180.0 500.06 L181.0 500.06 L182.0 500.06 L183.0 500.06 L184.0 500.06 L185.0 500.06 L186.0 500.06 L187.0 500.06 L188.0 500.06 L189.0 500.05 L190.0 500.05 L191.0 500.05 L192.0 500.05 L193.0 500.05 L194.0 500.05 L195.0 500.05 L196.0 500.05 L197.0 500.05 L198.0 500.05 L199.0 500.05 L200.0 500.04 L201.0 500.04 L202.0 500.04 L203.0 500.04 L204.0 500.04 L205.0 500.04 L206.0 500.04 L207.0 500.04 L208.0 500.04 L209.0 500.03 L210.0 500.03 L211.0 500.03 L212.0 500.03 L213.0 500.03 L214.0 500.03 L215.0 500.02 L216.0 500.02 L217.0 500.02 L218.0 500.02 L219.0 500.02 L220.0 500.02 L221.0 500.01 L222.0 500.01 L223.0 500.01 L224.0 500.01 L225.0 500.01 L226.0 500.00 L227.0 500.00 L228.0 500.00 L229.0 499.99 L230.0 499.99 L231.0 499.99 L232.0 499.99 L233.0 499.98 L234.0 499.98 L235.0 499.98 L236.0 499.97 L237.0 499.97 L238.0 499.97 L239.0 499.96 L240.0 499.96 L241.0 499.95 L242.0 499.95 L243.0 499.94 L244.0 499.94 L245.0 499.93 L246.0 499.93 L247.0 499.92 L248.0 499.91 L249.0 499.91 L250.0 499.90 L251.0 499.89 L252.0 499.89 L253.0 499.88 L254.0 499.87 L255.0 499.86 L256.0 499.85 L257.0 499.84 L258.0 499.83 L259.0 499.82 L260.0 499.80 L261.0 499.79 L262.0 499.77 L263.0 499.75 L264.0 499.73 L265.0 499.71 L266.0 499.68 L267.0 499.65 L268.0 499.62 L269.0 499.58 L270.0 499.54 L271.0 499.49 L272.0 499.43 L273.0 499.37 L274.0 499.29 L275.0 499.21 L276.0 499.11 L277.0 499.00 L278.0 498.87 L279.0 498.73 L280.0 498.58 L281.0 498.40 L282.0 498.21 L283.0 497.99 L284.0 497.76 L285.0 497.50 L286.0 497.23 L287.0 496.94 L288.0 496.63 L289.0 496.30 L290.0 495.96 L291.0 495.61 L292.0 495.25 L293.0 494.89 L294.0 494.52 L295.0 494.17 L296.0 493.83 L297.0 493.52 L298.0 493.23 L299.0 492.98 L300.0 492.78 L301.0 492.62 L302.0 492.53 L303.0 492.50 L304.0 492.53 L305.0 492.62 L306.0 492.78 L307.0 492.98 L308.0 493.23 L309.0 493.52 L310.0 493.83 L311.0 494.17 L312.0 494.52 L313.0 494.89 L314.0 495.25 L315.0 495.61 L316.0 495.96 L317.0 496.30 L318.0 496.63 L319.0 496.94 L320.0 497.23 L321.0 497.50 L322.0 497.76 L323.0 497.99 L324.0 498.21 L325.0 498.40 L326.0 498.58 L327.0 498.73 L328.0 498.87 L329.0 499.00 L330.0 499.11 L331.0 499.21 L332.0 499.29 L333.0 499.37 L334.0 499.43 L335.0 499.49 L336.0 499.54 L337.0 499.58 L338.0 499.62 L339.0 499.65 L340.0 499.68 L341.0 499.71 L342.0 499.73 L343.0 499.75 L344.0 499.77 L345.0 499.79 L346.0 499.80 L347.0 499.82 L348.0 499.83 L349.0 499.84 L350.0 499.85 L351.0 499.86 L352.0 499.87 L353.0 499.88 L354.0 499.89 L355.0 499.89 L356.0 499.90 L357.0 499.91 L358.0 499.91 L359.0 499.92 L360.0 499.93 L361.0 499.93 L362.0 499.94 L363.0 499.94 L364.0 499.95 L365.0 499.95 L366.0 499.96 L367.0 499.96 L368.0 499.97 L369.0 499.97 L370.0 499.97 L371.0 499.98 L372.0 499.98 L373.0 499.98 L374.0 499.99 L375.0 499.99 L376.0 499.99 L377.0 499.99 L378.0 500.00 L379.0 500.00 L380.0 500.00 L381.0 500.01 L382.0 500.01 L383.0 500.01 L384.0 500.01 L385.0 500.01 L386.0 500.02 L387.0 500.02 L388.0 500.02 L389.0 500.02 L390.0 500.02 L391.0 500.02 L392.0 500.03 L393.0 500.03 L394.0 500.03 L395.0 500.03 L396.0 500.03 L397.0 500.03 L398.0 500.04 L399.0 500.04 L400.0 500.04 L401.0 500.04 L402.0 500.04 L403.0 500.04 L404.0 500.04 L405.0 500.04 L406.0 500.04 L407.0 500.05 L408.0 500.05 L409.0 500.05 L410.0 500.05 L411.0 500.05 L412.0 500.05 L413.0 500.05 L414.0 500.05 L415.0 500.05 L416.0 500.05 L417.0 500.05 L418.0 500.06 L419.0 500.06 L420.0 500.06 L421.0 500.06 L422.0 500.06 L423.0 500.06 L424.0 500.06 L425.0 500.06 L426.0 500.06 L427.0 500.06 L428.0 500.06 L429.0 500.06 L430.0 500.06 L431.0 500.06 L432.0 500.06 L433.0 500.07 L434.0 500.07 L435.0 500.07 L436.0 500.07 L437.0 500.07 L438.0 500.07 L439.0 500.07 L440.0 500.07 L441.0 500.07 L442.0 500.07 L443.0 500.07 L444.0 500.07 L445.0 500.07 L446.0 500.07 L447.0 500.07 L448.0 500.07 L449.0 500.07 L450.0 500.07 L451.0 500.07 L452.0 500.07 L453.0 500.07 L454.0 500.07 L455.0 500.07 L456.0 500.07 L457.0 500.08 L458.0 500.08 L459.0 500.08 L460.0 500.08 L461.0 500.08 L462.0 500.08 L463.0 500.08 L464.0 500.08 L465.0 500.08 L466.0 500.08 L467.0 500.08 L468.0 500.08 L469.0 500.08 L470.0 500.08 L471.0 500.08 L472.0 500.08 L473.0 500.08 L474.0 500.08 L475.0 500.08 L476.0 500.08 L477.0 500.08 L478.0 500.08 L479.0 500.08 L480.0 500.08 L481.0 500.08 L482.0 500.08 L483.0 500.08 L484.0 500.08 L485.0 500.08 L486.0 500.08 L487.0 500.08 L488.0 500.08 L489.0 500.08 L490.0 500.08" stroke="#151515" stroke-width="1.05" fill="none"/>
<path d="M56.0 500.05 L57.0 500.05 L58.0 500.05 L59.0 500.05 L60.0 500.05 L61.0 500.05 L62.0 500.05 L63.0 500.05 L64.0 500.05 L65.0 500.05 L66.0 500.05 L67.0 500.05 L68.0 500.05 L69.0 500.05 L70.0 500.05 L71.0 500.05 L72.0 500.05 L73.0 500.05 L74.0 500.05 L75.0 500.04 L76.0 500.04 L77.0 500.04 L78.0 500.04 L79.0 500.04 L80.0 500.04 L81.0 500.04 L82.0 500.04 L83.0 500.04 L84.0 500.04 L85.0 500.04 L86.0 500.04 L87.0 500.04 L88.0 500.04 L89.0 500.04 L90.0 500.04 L91.0 500.04 L92.0 500.04 L93.0 500.04 L94.0 500.03 L95.0 500.03 L96.0 500.03 L97.0 500.03 L98.0 500.03 L99.0 500.03 L100.0 500.03 L101.0 500.03 L102.0 500.03 L103.0 500.03 L104.0 500.03 L105.0 500.03 L106.0 500.03 L107.0 500.03 L108.0 500.03 L109.0 500.02 L110.0 500.02 L111.0 500.02 L112.0 500.02 L113.0 500.02 L114.0 500.02 L115.0 500.02 L116.0 500.02 L117.0 500.02 L118.0 500.02 L119.0 500.02 L120.0 500.02 L121.0 500.02 L122.0 500.02 L123.0 500.01 L124.0 500.01 L125.0 500.01 L126.0 500.01 L127.0 500.01 L128.0 500.01 L129.0 500.01 L130.0 500.01 L131.0 500.01 L132.0 500.01 L133.0 500.01 L134.0 500.00 L135.0 500.00 L136.0 500.00 L137.0 500.00 L138.0 500.00 L139.0 500.00 L140.0 500.00 L141.0 500.00 L142.0 500.00 L143.0 499.99 L144.0 499.99 L145.0 499.99 L146.0 499.99 L147.0 499.99 L148.0 499.99 L149.0 499.99 L150.0 499.99 L151.0 499.99 L152.0 499.98 L153.0 499.98 L154.0 499.98 L155.0 499.98 L156.0 499.98 L157.0 499.98 L158.0 499.98 L159.0 499.97 L160.0 499.97 L161.0 499.97 L162.0 499.97 L163.0 499.97 L164.0 499.97 L165.0 499.97 L166.0 499.96 L167.0 499.96 L168.0 499.96 L169.0 499.96 L170.0 499.96 L171.0 499.96 L172.0 499.95 L173.0 499.95 L174.0 499.95 L175.0 499.95 L176.0 499.95 L177.0 499.95 L178.0 499.94 L179.0 499.94 L180.0 499.94 L181.0 499.94 L182.0 499.94 L183.0 499.93 L184.0 499.93 L185.0 499.93 L186.0 499.93 L187.0 499.92 L188.0 499.92 L189.0 499.92 L190.0 499.92 L191.0 499.91 L192.0 499.91 L193.0 499.91 L194.0 499.91 L195.0 499.90 L196.0 499.90 L197.0 499.90 L198.0 499.90 L199.0 499.89 L200.0 499.89 L201.0 499.89 L202.0 499.88 L203.0 499.88 L204.0 499.88 L205.0 499.87 L206.0 499.87 L207.0 499.87 L208.0 499.86 L209.0 499.86 L210.0 499.86 L211.0 499.85 L212.0 499.85 L213.0 499.85 L214.0 499.84 L215.0 499.84 L216.0 499.83 L217.0 499.83 L218.0 499.83 L219.0 499.82 L220.0 499.82 L221.0 499.81 L222.0 499.81 L223.0 499.80 L224.0 499.80 L225.0 499.79 L226.0 499.79 L227.0 499.78 L228.0 499.78 L229.0 499.77 L230.0 499.76 L231.0 499.76 L232.0 499.75 L233.0 499.75 L234.0 499.74 L235.0 499.73 L236.0 499.73 L237.0 499.72 L238.0 499.71 L239.0 499.70 L240.0 499.70 L241.0 499.69 L242.0 499.68 L243.0 499.67 L244.0 499.66 L245.0 499.65 L246.0 499.64 L247.0 499.64 L248.0 499.63 L249.0 499.62 L250.0 499.61 L251.0 499.59 L252.0 499.58 L253.0 499.57 L254.0 499.56 L255.0 499.55 L256.0 499.54 L257.0 499.52 L258.0 499.51 L259.0 499.50 L260.0 499.48 L261.0 499.47 L262.0 499.45 L263.0 499.44 L264.0 499.42 L265.0 499.40 L266.0 499.38 L267.0 499.36 L268.0 499.34 L269.0 499.32 L270.0 499.30 L271.0 499.28 L272.0 499.26 L273.0 499.23 L274.0 499.20 L275.0 499.18 L276.0 499.15 L277.0 499.11 L278.0 499.08 L279.0 499.04 L280.0 499.00 L281.0 498.96 L282.0 498.91 L283.0 498.86 L284.0 498.81 L285.0 498.75 L286.0 498.68 L287.0 498.60 L288.0 498.52 L289.0 498.43 L290.0 498.33 L291.0 498.22 L292.0 498.09 L293.0 497.95 L294.0 497.80 L295.0 497.63 L296.0 497.43 L297.0 497.22 L298.0 496.98 L299.0 496.72 L300.0 496.43 L301.0 496.11 L302.0 495.76 L303.0 495.37 L304.0 494.95 L305.0 494.49 L306.0 493.99 L307.0 493.44 L308.0 492.85 L309.0 492.22 L310.0 491.53 L311.0 490.80 L312.0 490.02 L313.0 489.20 L314.0 488.32 L315.0 487.40 L316.0 486.44 L317.0 485.43 L318.0 484.38 L319.0 483.30 L320.0 482.19 L321.0 481.05 L322.0 479.89 L323.0 478.71 L324.0 477.53 L325.0 476.36 L326.0 475.19 L327.0 474.05 L328.0 472.93 L329.0 471.86 L330.0 470.84 L331.0 469.89 L332.0 469.02 L333.0 468.23 L334.0 467.55 L335.0 466.98 L336.0 466.52 L337.0 466.20 L338.0 466.01 L339.0 465.96 L340.0 466.01 L341.0 466.17 L342.0 466.42 L343.0 466.78 L344.0 467.22 L345.0 467.75 L346.0 468.36 L347.0 469.05 L348.0 469.80 L349.0 470.60 L350.0 471.46 L351.0 472.37 L352.0 473.31 L353.0 474.27 L354.0 475.26 L355.0 476.27 L356.0 477.28 L357.0 478.29 L358.0 479.30 L359.0 480.30 L360.0 481.29 L361.0 482.26 L362.0 483.21 L363.0 484.14 L364.0 485.03 L365.0 485.89 L366.0 486.72 L367.0 487.52 L368.0 488.28 L369.0 489.00 L370.0 489.69 L371.0 490.33 L372.0 490.94 L373.0 491.51 L374.0 492.05 L375.0 492.55 L376.0 493.01 L377.0 493.44 L378.0 493.83 L379.0 494.20 L380.0 494.53 L381.0 494.84 L382.0 495.12 L383.0 495.38 L384.0 495.61 L385.0 495.83 L386.0 496.02 L387.0 496.19 L388.0 496.35 L389.0 496.49 L390.0 496.62 L391.0 496.73 L392.0 496.83 L393.0 496.93 L394.0 497.01 L395.0 497.09 L396.0 497.15 L397.0 497.21 L398.0 497.27 L399.0 497.32 L400.0 497.36 L401.0 497.40 L402.0 497.44 L403.0 497.47 L404.0 497.50 L405.0 497.53 L406.0 497.55 L407.0 497.57 L408.0 497.60 L409.0 497.62 L410.0 497.63 L411.0 497.65 L412.0 497.67 L413.0 497.68 L414.0 497.70 L415.0 497.71 L416.0 497.72 L417.0 497.73 L418.0 497.75 L419.0 497.76 L420.0 497.77 L421.0 497.78 L422.0 497.79 L423.0 497.80 L424.0 497.81 L425.0 497.81 L426.0 497.82 L427.0 497.83 L428.0 497.84 L429.0 497.85 L430.0 497.85 L431.0 497.86 L432.0 497.87 L433.0 497.87 L434.0 497.88 L435.0 497.89 L436.0 497.89 L437.0 497.90 L438.0 497.90 L439.0 497.91 L440.0 497.91 L441.0 497.92 L442.0 497.92 L443.0 497.93 L444.0 497.93 L445.0 497.94 L446.0 497.94 L447.0 497.95 L448.0 497.95 L449.0 497.96 L450.0 497.96 L451.0 497.96 L452.0 497.97 L453.0 497.97 L454.0 497.98 L455.0 497.98 L456.0 497.98 L457.0 497.99 L458.0 497.99 L459.0 497.99 L460.0 498.00 L461.0 498.00 L462.0 498.00 L463.0 498.00 L464.0 498.01 L465.0 498.01 L466.0 498.01 L467.0 498.02 L468.0 498.02 L469.0 498.02 L470.0 498.02 L471.0 498.03 L472.0 498.03 L473.0 498.03 L474.0 498.03 L475.0 498.03 L476.0 498.04 L477.0 498.04 L478.0 498.04 L479.0 498.04 L480.0 498.05 L481.0 498.05 L482.0 498.05 L483.0 498.05 L484.0 498.05 L485.0 498.05 L486.0 498.06 L487.0 498.06 L488.0 498.06 L489.0 498.06 L490.0 498.06" stroke="#151515" stroke-width="1.05" fill="none"/>
<path d="M56.0 500.01 L57.0 500.01 L58.0 500.01 L59.0 500.01 L60.0 500.01 L61.0 500.01 L62.0 500.01 L63.0 500.00 L64.0 500.00 L65.0 500.00 L66.0 500.00 L67.0 500.00 L68.0 500.00 L69.0 500.00 L70.0 500.00 L71.0 500.00 L72.0 500.00 L73.0 500.00 L74.0 500.00 L75.0 499.99 L76.0 499.99 L77.0 499.99 L78.0 499.99 L79.0 499.99 L80.0 499.99 L81.0 499.99 L82.0 499.99 L83.0 499.99 L84.0 499.99 L85.0 499.99 L86.0 499.98 L87.0 499.98 L88.0 499.98 L89.0 499.98 L90.0 499.98 L91.0 499.98 L92.0 499.98 L93.0 499.98 L94.0 499.98 L95.0 499.98 L96.0 499.97 L97.0 499.97 L98.0 499.97 L99.0 499.97 L100.0 499.97 L101.0 499.97 L102.0 499.97 L103.0 499.97 L104.0 499.97 L105.0 499.96 L106.0 499.96 L107.0 499.96 L108.0 499.96 L109.0 499.96 L110.0 499.96 L111.0 499.96 L112.0 499.96 L113.0 499.95 L114.0 499.95 L115.0 499.95 L116.0 499.95 L117.0 499.95 L118.0 499.95 L119.0 499.95 L120.0 499.94 L121.0 499.94 L122.0 499.94 L123.0 499.94 L124.0 499.94 L125.0 499.94 L126.0 499.94 L127.0 499.93 L128.0 499.93 L129.0 499.93 L130.0 499.93 L131.0 499.93 L132.0 499.93 L133.0 499.92 L134.0 499.92 L135.0 499.92 L136.0 499.92 L137.0 499.92 L138.0 499.92 L139.0 499.91 L140.0 499.91 L141.0 499.91 L142.0 499.91 L143.0 499.91 L144.0 499.90 L145.0 499.90 L146.0 499.90 L147.0 499.90 L148.0 499.90 L149.0 499.89 L150.0 499.89 L151.0 499.89 L152.0 499.89 L153.0 499.89 L154.0 499.88 L155.0 499.88 L156.0 499.88 L157.0 499.88 L158.0 499.87 L159.0 499.87 L160.0 499.87 L161.0 499.87 L162.0 499.86 L163.0 499.86 L164.0 499.86 L165.0 499.86 L166.0 499.85 L167.0 499.85 L168.0 499.85 L169.0 499.85 L170.0 499.84 L171.0 499.84 L172.0 499.84 L173.0 499.83 L174.0 499.83 L175.0 499.83 L176.0 499.82 L177.0 499.82 L178.0 499.82 L179.0 499.82 L180.0 499.81 L181.0 499.81 L182.0 499.80 L183.0 499.80 L184.0 499.80 L185.0 499.79 L186.0 499.79 L187.0 499.79 L188.0 499.78 L189.0 499.78 L190.0 499.78 L191.0 499.77 L192.0 499.77 L193.0 499.76 L194.0 499.76 L195.0 499.75 L196.0 499.75 L197.0 499.75 L198.0 499.74 L199.0 499.74 L200.0 499.73 L201.0 499.73 L202.0 499.72 L203.0 499.72 L204.0 499.71 L205.0 499.71 L206.0 499.70 L207.0 499.70 L208.0 499.69 L209.0 499.69 L210.0 499.68 L211.0 499.67 L212.0 499.67 L213.0 499.66 L214.0 499.66 L215.0 499.65 L216.0 499.64 L217.0 499.64 L218.0 499.63 L219.0 499.62 L220.0 499.62 L221.0 499.61 L222.0 499.60 L223.0 499.59 L224.0 499.59 L225.0 499.58 L226.0 499.57 L227.0 499.56 L228.0 499.55 L229.0 499.55 L230.0 499.54 L231.0 499.53 L232.0 499.52 L233.0 499.51 L234.0 499.50 L235.0 499.49 L236.0 499.48 L237.0 499.47 L238.0 499.46 L239.0 499.45 L240.0 499.44 L241.0 499.43 L242.0 499.42 L243.0 499.40 L244.0 499.39 L245.0 499.38 L246.0 499.37 L247.0 499.35 L248.0 499.34 L249.0 499.33 L250.0 499.31 L251.0 499.30 L252.0 499.28 L253.0 499.27 L254.0 499.25 L255.0 499.23 L256.0 499.22 L257.0 499.20 L258.0 499.18 L259.0 499.16 L260.0 499.15 L261.0 499.13 L262.0 499.11 L263.0 499.09 L264.0 499.06 L265.0 499.04 L266.0 499.02 L267.0 499.00 L268.0 498.97 L269.0 498.95 L270.0 498.92 L271.0 498.89 L272.0 498.87 L273.0 498.84 L274.0 498.81 L275.0 498.78 L276.0 498.74 L277.0 498.71 L278.0 498.68 L279.0 498.64 L280.0 498.60 L281.0 498.56 L282.0 498.52 L283.0 498.47 L284.0 498.43 L285.0 498.38 L286.0 498.33 L287.0 498.27 L288.0 498.21 L289.0 498.15 L290.0 498.08 L291.0 498.01 L292.0 497.93 L293.0 497.84 L294.0 497.75 L295.0 497.65 L296.0 497.54 L297.0 497.41 L298.0 497.28 L299.0 497.14 L300.0 496.97 L301.0 496.80 L302.0 496.60 L303.0 496.38 L304.0 496.14 L305.0 495.88 L306.0 495.59 L307.0 495.27 L308.0 494.91 L309.0 494.52 L310.0 494.09 L311.0 493.62 L312.0 493.10 L313.0 492.53 L314.0 491.91 L315.0 491.24 L316.0 490.51 L317.0 489.71 L318.0 488.85 L319.0 487.92 L320.0 486.92 L321.0 485.85 L322.0 484.71 L323.0 483.49 L324.0 482.20 L325.0 480.83 L326.0 479.39 L327.0 477.87 L328.0 476.28 L329.0 474.62 L330.0 472.89 L331.0 471.11 L332.0 469.27 L333.0 467.38 L334.0 465.45 L335.0 463.49 L336.0 461.50 L337.0 459.51 L338.0 457.51 L339.0 455.53 L340.0 453.57 L341.0 451.65 L342.0 449.78 L343.0 447.99 L344.0 446.29 L345.0 444.70 L346.0 443.23 L347.0 441.91 L348.0 440.74 L349.0 439.75 L350.0 438.94 L351.0 438.34 L352.0 437.94 L353.0 437.75 L354.0 437.75 L355.0 437.90 L356.0 438.21 L357.0 438.67 L358.0 439.28 L359.0 440.02 L360.0 440.89 L361.0 441.88 L362.0 442.97 L363.0 444.17 L364.0 445.45 L365.0 446.81 L366.0 448.24 L367.0 449.72 L368.0 451.25 L369.0 452.81 L370.0 454.40 L371.0 456.01 L372.0 457.62 L373.0 459.24 L374.0 460.85 L375.0 462.44 L376.0 464.02 L377.0 465.58 L378.0 467.10 L379.0 468.59 L380.0 470.04 L381.0 471.45 L382.0 472.82 L383.0 474.14 L384.0 475.41 L385.0 476.63 L386.0 477.80 L387.0 478.91 L388.0 479.98 L389.0 480.99 L390.0 481.94 L391.0 482.85 L392.0 483.70 L393.0 484.51 L394.0 485.26 L395.0 485.97 L396.0 486.63 L397.0 487.25 L398.0 487.82 L399.0 488.36 L400.0 488.85 L401.0 489.31 L402.0 489.74 L403.0 490.13 L404.0 490.49 L405.0 490.83 L406.0 491.13 L407.0 491.42 L408.0 491.68 L409.0 491.91 L410.0 492.13 L411.0 492.33 L412.0 492.52 L413.0 492.69 L414.0 492.84 L415.0 492.98 L416.0 493.11 L417.0 493.23 L418.0 493.34 L419.0 493.44 L420.0 493.54 L421.0 493.62 L422.0 493.70 L423.0 493.78 L424.0 493.84 L425.0 493.91 L426.0 493.97 L427.0 494.02 L428.0 494.08 L429.0 494.13 L430.0 494.17 L431.0 494.22 L432.0 494.26 L433.0 494.30 L434.0 494.33 L435.0 494.37 L436.0 494.40 L437.0 494.43 L438.0 494.47 L439.0 494.50 L440.0 494.52 L441.0 494.55 L442.0 494.58 L443.0 494.60 L444.0 494.63 L445.0 494.65 L446.0 494.67 L447.0 494.70 L448.0 494.72 L449.0 494.74 L450.0 494.76 L451.0 494.78 L452.0 494.80 L453.0 494.82 L454.0 494.83 L455.0 494.85 L456.0 494.87 L457.0 494.88 L458.0 494.90 L459.0 494.91 L460.0 494.93 L461.0 494.94 L462.0 494.96 L463.0 494.97 L464.0 494.99 L465.0 495.00 L466.0 495.01 L467.0 495.02 L468.0 495.04 L469.0 495.05 L470.0 495.06 L471.0 495.07 L472.0 495.08 L473.0 495.09 L474.0 495.10 L475.0 495.11 L476.0 495.12 L477.0 495.13 L478.0 495.14 L479.0 495.15 L480.0 495.16 L481.0 495.17 L482.0 495.18 L483.0 495.19 L484.0 495.20 L485.0 495.20 L486.0 495.21 L487.0 495.22 L488.0 495.23 L489.0 495.24 L490.0 495.24" stroke="#151515" stroke-width="1.05" fill="none"/>
<path d="M56.0 499.43 L57.0 499.43 L58.0 499.42 L59.0 499.42 L60.0 499.41 L61.0 499.40 L62.0 499.40 L63.0 499.39 L64.0 499.39 L65.0 499.38 L66.0 499.37 L67.0 499.37 L68.0 499.36 L69.0 499.35 L70.0 499.35 L71.0 499.34 L72.0 499.33 L73.0 499.33 L74.0 499.32 L75.0 499.31 L76.0 499.30 L77.0 499.30 L78.0 499.29 L79.0 499.28 L80.0 499.27 L81.0 499.26 L82.0 499.25 L83.0 499.25 L84.0 499.24 L85.0 499.23 L86.0 499.22 L87.0 499.21 L88.0 499.20 L89.0 499.19 L90.0 499.18 L91.0 499.17 L92.0 499.16 L93.0 499.15 L94.0 499.13 L95.0 499.12 L96.0 499.11 L97.0 499.10 L98.0 499.08 L99.0 499.07 L100.0 499.06 L101.0 499.04 L102.0 499.03 L103.0 499.01 L104.0 499.00 L105.0 498.98 L106.0 498.97 L107.0 498.95 L108.0 498.93 L109.0 498.91 L110.0 498.89 L111.0 498.87 L112.0 498.85 L113.0 498.83 L114.0 498.81 L115.0 498.79 L116.0 498.76 L117.0 498.74 L118.0 498.71 L119.0 498.68 L120.0 498.66 L121.0 498.63 L122.0 498.60 L123.0 498.57 L124.0 498.53 L125.0 498.50 L126.0 498.46 L127.0 498.43 L128.0 498.39 L129.0 498.35 L130.0 498.31 L131.0 498.26 L132.0 498.22 L133.0 498.17 L134.0 498.12 L135.0 498.07 L136.0 498.02 L137.0 497.96 L138.0 497.91 L139.0 497.85 L140.0 497.78 L141.0 497.72 L142.0 497.65 L143.0 497.58 L144.0 497.51 L145.0 497.43 L146.0 497.35 L147.0 497.27 L148.0 497.18 L149.0 497.09 L150.0 497.00 L151.0 496.90 L152.0 496.80 L153.0 496.70 L154.0 496.59 L155.0 496.47 L156.0 496.36 L157.0 496.23 L158.0 496.11 L159.0 495.98 L160.0 495.84 L161.0 495.70 L162.0 495.55 L163.0 495.40 L164.0 495.24 L165.0 495.08 L166.0 494.91 L167.0 494.73 L168.0 494.55 L169.0 494.36 L170.0 494.17 L171.0 493.97 L172.0 493.76 L173.0 493.54 L174.0 493.32 L175.0 493.09 L176.0 492.86 L177.0 492.61 L178.0 492.36 L179.0 492.10 L180.0 491.83 L181.0 491.56 L182.0 491.27 L183.0 490.98 L184.0 490.68 L185.0 490.37 L186.0 490.05 L187.0 489.72 L188.0 489.38 L189.0 489.03 L190.0 488.68 L191.0 488.31 L192.0 487.93 L193.0 487.55 L194.0 487.15 L195.0 486.75 L196.0 486.33 L197.0 485.90 L198.0 485.46 L199.0 485.02 L200.0 484.56 L201.0 484.08 L202.0 483.60 L203.0 483.11 L204.0 482.60 L205.0 482.08 L206.0 481.54 L207.0 481.00 L208.0 480.43 L209.0 479.86 L210.0 479.26 L211.0 478.65 L212.0 478.02 L213.0 477.38 L214.0 476.71 L215.0 476.02 L216.0 475.30 L217.0 474.56 L218.0 473.79 L219.0 473.00 L220.0 472.17 L221.0 471.30 L222.0 470.40 L223.0 469.46 L224.0 468.47 L225.0 467.43 L226.0 466.35 L227.0 465.20 L228.0 464.00 L229.0 462.74 L230.0 461.40 L231.0 460.00 L232.0 458.52 L233.0 456.96 L234.0 455.32 L235.0 453.59 L236.0 451.77 L237.0 449.86 L238.0 447.86 L239.0 445.75 L240.0 443.55 L241.0 441.26 L242.0 438.86 L243.0 436.37 L244.0 433.78 L245.0 431.11 L246.0 428.34 L247.0 425.50 L248.0 422.59 L249.0 419.61 L250.0 416.58 L251.0 413.50 L252.0 410.39 L253.0 407.26 L254.0 404.12 L255.0 401.00 L256.0 397.89 L257.0 394.83 L258.0 391.84 L259.0 388.92 L260.0 386.09 L261.0 383.38 L262.0 380.81 L263.0 378.39 L264.0 376.14 L265.0 374.08 L266.0 372.23 L267.0 370.59 L268.0 369.19 L269.0 368.03 L270.0 367.13 L271.0 366.48 L272.0 366.09 L273.0 365.96 L274.0 366.09 L275.0 366.46 L276.0 367.08 L277.0 367.93 L278.0 369.00 L279.0 370.28 L280.0 371.74 L281.0 373.37 L282.0 375.15 L283.0 377.07 L284.0 379.10 L285.0 381.24 L286.0 383.45 L287.0 385.73 L288.0 388.05 L289.0 390.41 L290.0 392.77 L291.0 395.14 L292.0 397.49 L293.0 399.82 L294.0 402.10 L295.0 404.33 L296.0 406.50 L297.0 408.61 L298.0 410.63 L299.0 412.56 L300.0 414.41 L301.0 416.15 L302.0 417.79 L303.0 419.31 L304.0 420.72 L305.0 422.02 L306.0 423.19 L307.0 424.23 L308.0 425.14 L309.0 425.91 L310.0 426.55 L311.0 427.04 L312.0 427.39 L313.0 427.59 L314.0 427.64 L315.0 427.54 L316.0 427.28 L317.0 426.86 L318.0 426.29 L319.0 425.56 L320.0 424.68 L321.0 423.65 L322.0 422.48 L323.0 421.18 L324.0 419.75 L325.0 418.20 L326.0 416.55 L327.0 414.82 L328.0 413.02 L329.0 411.16 L330.0 409.27 L331.0 407.37 L332.0 405.47 L333.0 403.61 L334.0 401.79 L335.0 400.05 L336.0 398.39 L337.0 396.84 L338.0 395.41 L339.0 394.10 L340.0 392.94 L341.0 391.92 L342.0 391.06 L343.0 390.35 L344.0 389.80 L345.0 389.41 L346.0 389.18 L347.0 389.13 L348.0 389.24 L349.0 389.52 L350.0 389.97 L351.0 390.60 L352.0 391.39 L353.0 392.36 L354.0 393.49 L355.0 394.78 L356.0 396.23 L357.0 397.82 L358.0 399.56 L359.0 401.43 L360.0 403.42 L361.0 405.52 L362.0 407.72 L363.0 410.01 L364.0 412.37 L365.0 414.80 L366.0 417.27 L367.0 419.78 L368.0 422.32 L369.0 424.87 L370.0 427.41 L371.0 429.95 L372.0 432.46 L373.0 434.95 L374.0 437.39 L375.0 439.77 L376.0 442.10 L377.0 444.37 L378.0 446.56 L379.0 448.67 L380.0 450.70 L381.0 452.65 L382.0 454.51 L383.0 456.28 L384.0 457.96 L385.0 459.54 L386.0 461.04 L387.0 462.45 L388.0 463.77 L389.0 465.01 L390.0 466.16 L391.0 467.24 L392.0 468.24 L393.0 469.17 L394.0 470.03 L395.0 470.82 L396.0 471.55 L397.0 472.23 L398.0 472.85 L399.0 473.43 L400.0 473.96 L401.0 474.44 L402.0 474.89 L403.0 475.30 L404.0 475.68 L405.0 476.03 L406.0 476.36 L407.0 476.65 L408.0 476.93 L409.0 477.19 L410.0 477.42 L411.0 477.64 L412.0 477.85 L413.0 478.04 L414.0 478.22 L415.0 478.38 L416.0 478.54 L417.0 478.69 L418.0 478.83 L419.0 478.96 L420.0 479.08 L421.0 479.20 L422.0 479.31 L423.0 479.42 L424.0 479.52 L425.0 479.61 L426.0 479.71 L427.0 479.79 L428.0 479.88 L429.0 479.96 L430.0 480.03 L431.0 480.10 L432.0 480.17 L433.0 480.24 L434.0 480.30 L435.0 480.36 L436.0 480.42 L437.0 480.48 L438.0 480.53 L439.0 480.58 L440.0 480.63 L441.0 480.68 L442.0 480.73 L443.0 480.77 L444.0 480.81 L445.0 480.85 L446.0 480.89 L447.0 480.93 L448.0 480.96 L449.0 481.00 L450.0 481.03 L451.0 481.06 L452.0 481.09 L453.0 481.12 L454.0 481.15 L455.0 481.18 L456.0 481.20 L457.0 481.23 L458.0 481.25 L459.0 481.27 L460.0 481.30 L461.0 481.32 L462.0 481.34 L463.0 481.36 L464.0 481.38 L465.0 481.40 L466.0 481.41 L467.0 481.43 L468.0 481.45 L469.0 481.46 L470.0 481.48 L471.0 481.50 L472.0 481.51 L473.0 481.52 L474.0 481.54 L475.0 481.55 L476.0 481.56 L477.0 481.58 L478.0 481.59 L479.0 481.60 L480.0 481.61 L481.0 481.62 L482.0 481.63 L483.0 481.64 L484.0 481.65 L485.0 481.66 L486.0 481.67 L487.0 481.68 L488.0 481.69 L489.0 481.70 L490.0 481.71" stroke="#000" stroke-width="1.25" fill="none"/>
<path d="M56.0 496.40 L57.0 496.26 L58.0 496.40 L59.0 496.10 L60.0 496.09 L61.0 496.38 L62.0 496.94 L63.0 496.97 L64.0 496.98 L65.0 497.00 L66.0 496.98 L67.0 497.06 L68.0 496.88 L69.0 497.48 L70.0 497.83 L71.0 498.17 L72.0 498.63 L73.0 498.66 L74.0 498.48 L75.0 498.84 L76.0 498.12 L77.0 498.13 L78.0 498.23 L79.0 497.89 L80.0 498.33 L81.0 498.09 L82.0 497.97 L83.0 497.69 L84.0 497.30 L85.0 496.94 L86.0 496.94 L87.0 496.53 L88.0 496.73 L89.0 496.40 L90.0 496.18 L91.0 496.14 L92.0 496.10 L93.0 495.69 L94.0 495.31 L95.0 495.13 L96.0 495.17 L97.0 495.53 L98.0 495.35 L99.0 495.23 L100.0 495.46 L101.0 495.73 L102.0 495.59 L103.0 495.57 L104.0 495.66 L105.0 495.61 L106.0 495.63 L107.0 495.48 L108.0 495.41 L109.0 495.81 L110.0 495.91 L111.0 495.86 L112.0 496.14 L113.0 496.82 L114.0 497.09 L115.0 497.28 L116.0 497.19 L117.0 497.40 L118.0 497.54 L119.0 498.04 L120.0 498.04 L121.0 498.74 L122.0 498.90 L123.0 498.68 L124.0 498.24 L125.0 498.51 L126.0 497.97 L127.0 497.36 L128.0 496.09 L129.0 495.79 L130.0 495.15 L131.0 496.26 L132.0 496.74 L133.0 497.14 L134.0 497.28 L135.0 496.99 L136.0 496.16 L137.0 496.46 L138.0 496.55 L139.0 496.24 L140.0 496.56 L141.0 496.44 L142.0 496.48 L143.0 496.94 L144.0 496.83 L145.0 496.62 L146.0 496.77 L147.0 496.70 L148.0 496.71 L149.0 496.66 L150.0 496.69 L151.0 496.47 L152.0 496.61 L153.0 495.98 L154.0 496.03 L155.0 496.02 L156.0 495.66 L157.0 495.31 L158.0 495.60 L159.0 495.48 L160.0 495.78 L161.0 495.38 L162.0 495.05 L163.0 495.14 L164.0 495.05 L165.0 494.51 L166.0 493.71 L167.0 493.78 L168.0 492.91 L169.0 493.00 L170.0 492.60 L171.0 491.88 L172.0 491.58 L173.0 491.63 L174.0 491.08 L175.0 491.35 L176.0 491.60 L177.0 491.54 L178.0 491.80 L179.0 491.90 L180.0 491.68 L181.0 491.53 L182.0 491.44 L183.0 490.70 L184.0 490.26 L185.0 490.33 L186.0 490.07 L187.0 490.05 L188.0 489.74 L189.0 489.62 L190.0 489.03 L191.0 489.09 L192.0 487.98 L193.0 487.23 L194.0 486.68 L195.0 486.68 L196.0 486.42 L197.0 486.46 L198.0 485.58 L199.0 485.26 L200.0 485.25 L201.0 484.25 L202.0 483.47 L203.0 483.21 L204.0 482.12 L205.0 481.59 L206.0 481.23 L207.0 480.60 L208.0 480.19 L209.0 479.66 L210.0 478.57 L211.0 478.10 L212.0 477.70 L213.0 477.16 L214.0 476.52 L215.0 475.94 L216.0 475.61 L217.0 474.79 L218.0 474.07 L219.0 473.23 L220.0 472.38 L221.0 471.24 L222.0 470.33 L223.0 469.13 L224.0 468.21 L225.0 467.15 L226.0 466.46 L227.0 465.45 L228.0 463.95 L229.0 462.63 L230.0 461.23 L231.0 459.68 L232.0 458.20 L233.0 456.06 L234.0 453.96 L235.0 453.11 L236.0 451.59 L237.0 449.22 L238.0 447.01 L239.0 445.14 L240.0 443.52 L241.0 441.42 L242.0 438.63 L243.0 436.08 L244.0 434.05 L245.0 431.57 L246.0 428.55 L247.0 425.34 L248.0 422.73 L249.0 419.98 L250.0 417.23 L251.0 413.78 L252.0 411.24 L253.0 408.09 L254.0 404.67 L255.0 401.44 L256.0 398.01 L257.0 394.45 L258.0 391.36 L259.0 388.18 L260.0 385.54 L261.0 383.20 L262.0 380.55 L263.0 377.96 L264.0 375.86 L265.0 373.71 L266.0 372.10 L267.0 370.17 L268.0 368.61 L269.0 367.42 L270.0 366.55 L271.0 365.76 L272.0 365.60 L273.0 365.15 L274.0 365.47 L275.0 366.18 L276.0 367.06 L277.0 368.20 L278.0 369.65 L279.0 370.95 L280.0 372.18 L281.0 373.82 L282.0 375.13 L283.0 376.78 L284.0 378.77 L285.0 380.89 L286.0 383.35 L287.0 385.87 L288.0 387.94 L289.0 390.94 L290.0 393.17 L291.0 395.39 L292.0 397.40 L293.0 399.63 L294.0 401.68 L295.0 404.32 L296.0 406.03 L297.0 408.68 L298.0 410.59 L299.0 412.54 L300.0 414.63 L301.0 416.34 L302.0 418.12 L303.0 419.56 L304.0 420.54 L305.0 421.79 L306.0 423.04 L307.0 423.99 L308.0 424.74 L309.0 425.00 L310.0 426.08 L311.0 426.44 L312.0 426.84 L313.0 427.27 L314.0 427.28 L315.0 427.23 L316.0 427.32 L317.0 426.48 L318.0 425.61 L319.0 424.88 L320.0 424.04 L321.0 422.57 L322.0 421.98 L323.0 420.79 L324.0 418.91 L325.0 417.96 L326.0 416.34 L327.0 414.64 L328.0 413.08 L329.0 410.88 L330.0 409.37 L331.0 408.26 L332.0 406.05 L333.0 404.07 L334.0 401.95 L335.0 400.39 L336.0 398.69 L337.0 396.66 L338.0 395.26 L339.0 394.10 L340.0 392.63 L341.0 391.89 L342.0 390.58 L343.0 389.91 L344.0 389.58 L345.0 389.22 L346.0 389.03 L347.0 389.58 L348.0 389.44 L349.0 390.17 L350.0 390.91 L351.0 390.98 L352.0 391.59 L353.0 392.70 L354.0 393.73 L355.0 394.67 L356.0 396.03 L357.0 397.73 L358.0 399.49 L359.0 400.92 L360.0 402.44 L361.0 404.84 L362.0 407.90 L363.0 409.78 L364.0 411.86 L365.0 414.38 L366.0 417.33 L367.0 419.75 L368.0 421.99 L369.0 424.15 L370.0 426.95 L371.0 429.72 L372.0 432.31 L373.0 434.77 L374.0 438.05 L375.0 440.71 L376.0 443.25 L377.0 445.90 L378.0 447.75 L379.0 449.65 L380.0 451.60 L381.0 453.41 L382.0 455.41 L383.0 456.74 L384.0 458.14 L385.0 459.83 L386.0 461.87 L387.0 463.80 L388.0 464.31 L389.0 465.29 L390.0 466.67 L391.0 467.93 L392.0 468.58 L393.0 469.30 L394.0 469.75 L395.0 471.03 L396.0 471.65 L397.0 471.98 L398.0 472.76 L399.0 473.55 L400.0 474.15 L401.0 474.71 L402.0 475.33 L403.0 475.68 L404.0 476.68 L405.0 476.79 L406.0 477.17 L407.0 477.51 L408.0 477.86 L409.0 477.96 L410.0 478.34 L411.0 478.43 L412.0 478.59 L413.0 479.19 L414.0 479.14 L415.0 479.54 L416.0 480.22 L417.0 480.39 L418.0 480.83 L419.0 481.27 L420.0 481.32 L421.0 481.53 L422.0 481.56 L423.0 481.45 L424.0 481.76 L425.0 481.50 L426.0 481.49 L427.0 481.45 L428.0 481.36 L429.0 481.33 L430.0 481.34 L431.0 481.45 L432.0 481.69 L433.0 481.83 L434.0 482.10 L435.0 482.50 L436.0 482.35 L437.0 482.13 L438.0 481.99 L439.0 481.72 L440.0 481.71 L441.0 480.99 L442.0 480.30 L443.0 480.39 L444.0 480.38 L445.0 480.26 L446.0 480.16 L447.0 480.02 L448.0 480.82 L449.0 481.20 L450.0 481.43 L451.0 481.48 L452.0 481.72 L453.0 482.08 L454.0 481.75 L455.0 481.08 L456.0 481.32 L457.0 481.19 L458.0 481.22 L459.0 480.43 L460.0 479.93 L461.0 479.44 L462.0 481.03 L463.0 481.66 L464.0 482.43 L465.0 482.47 L466.0 482.69 L467.0 482.50 L468.0 482.38 L469.0 481.61 L470.0 481.53 L471.0 481.35 L472.0 481.66 L473.0 481.22 L474.0 481.04 L475.0 481.25 L476.0 481.28 L477.0 481.64 L478.0 481.35 L479.0 481.26 L480.0 481.55 L481.0 481.61 L482.0 481.84 L483.0 482.24 L484.0 482.06 L485.0 482.83 L486.0 482.88 L487.0 483.05 L488.0 483.14 L489.0 481.60 L490.0 480.11" stroke="#222" stroke-width="0.8" fill="none"/>
</g>
<g>
<path d="M230.1 130 V505.7" stroke="#111" stroke-width="1.5"/>
<path d="M260.7 62 V505" stroke="#111" stroke-width="1.5"/>
<path d="M277.9 65 V505" stroke="#111" stroke-width="1.5"/>
<path d="M310 92 V122" stroke="#111" stroke-width="1.5"/>
<path d="M340 61 V90" stroke="#111" stroke-width="1.5"/>
<path d="M355.2 61 V90" stroke="#111" stroke-width="1.5"/>
</g>
<g>
<path d="M52.7 43.7 V508" stroke="#333" stroke-width="1.7" fill="none"/>
<path d="M51.9 507.8 H491.6" stroke="#222" stroke-width="1.6" fill="none"/>
<path d="M52.9 507.8 V517.4" stroke="#222" stroke-width="1.6"/>
<path d="M89.4 507.8 V513.2" stroke="#222" stroke-width="1.6"/>
<path d="M125.9 507.8 V517.4" stroke="#222" stroke-width="1.6"/>
<path d="M162.3 507.8 V513.2" stroke="#222" stroke-width="1.6"/>
<path d="M198.8 507.8 V517.4" stroke="#222" stroke-width="1.6"/>
<path d="M235.3 507.8 V513.2" stroke="#222" stroke-width="1.6"/>
<path d="M271.8 507.8 V517.4" stroke="#222" stroke-width="1.6"/>
<path d="M308.3 507.8 V513.2" stroke="#222" stroke-width="1.6"/>
<path d="M344.7 507.8 V517.4" stroke="#222" stroke-width="1.6"/>
<path d="M381.2 507.8 V513.2" stroke="#222" stroke-width="1.6"/>
<path d="M417.7 507.8 V517.4" stroke="#222" stroke-width="1.6"/>
<path d="M454.2 507.8 V513.2" stroke="#222" stroke-width="1.6"/>
<path d="M490.7 507.8 V517.4" stroke="#222" stroke-width="1.6"/>
<text x="54.2" y="537.6" text-anchor="middle" font-size="16.3" textLength="18" lengthAdjust="spacingAndGlyphs">30</text>
<text x="126.7" y="537.6" text-anchor="middle" font-size="16.3" textLength="18" lengthAdjust="spacingAndGlyphs">32</text>
<text x="200" y="537.8" text-anchor="middle" font-size="16.3" textLength="18" lengthAdjust="spacingAndGlyphs">34</text>
<text x="273.2" y="538" text-anchor="middle" font-size="16.3" textLength="18" lengthAdjust="spacingAndGlyphs">36</text>
<text x="347.2" y="538" text-anchor="middle" font-size="16.3" textLength="18" lengthAdjust="spacingAndGlyphs">38</text>
<text x="419.6" y="539.4" text-anchor="middle" font-size="16.3" textLength="18" lengthAdjust="spacingAndGlyphs">40</text>
<text x="491.2" y="537.4" text-anchor="middle" font-size="16.3" textLength="18" lengthAdjust="spacingAndGlyphs">42</text>
</g>
<g>
<text x="95.2" y="37.0" font-size="17.2" textLength="37" lengthAdjust="spacingAndGlyphs" font-weight="bold" stroke="none">XPS</text>
<text x="95.2" y="59.9" font-size="17.2" textLength="34.5" lengthAdjust="spacingAndGlyphs" font-weight="bold" stroke="none">W4f</text>
<text x="208.5" y="26.4" font-size="16.5" textLength="16" lengthAdjust="spacingAndGlyphs">4f</text>
<text x="225" y="33.5" font-size="11.8" textLength="18.5" lengthAdjust="spacingAndGlyphs">7/2</text>
<text transform="translate(256.1 43.9) scale(1.07 1)" font-size="18.5">d</text>
<text transform="translate(286.4 41.6) scale(1.09 1)" font-size="17.3">e</text>
<text transform="translate(228.8 105.5) scale(1.045 1)" font-size="18.4">c</text>
<text transform="translate(307.9 65.1) scale(1.0 1)" font-size="18.0">c</text>
<text transform="translate(333.0 37.5) scale(1.085 1)" font-size="19.2">d</text>
<text transform="translate(360.7 43.3) scale(1.05 1)" font-size="18.1">e</text>
<path d="M315.2 49 h3.6 l-0.7 7.8 h-2.2z" fill="#111"/>
<path d="M344.5 22.2 h3.6 l-0.7 7.4 h-2.2z" fill="#111"/>
<path d="M368.7 26.1 h3.5 l-0.7 8.6 h-2.1z" fill="#111"/>
<text x="381.5" y="21.6" font-size="16" textLength="14.5" lengthAdjust="spacingAndGlyphs" fill="#222" stroke="none">4f</text>
<text x="395.8" y="26.9" font-size="10.2" textLength="16.3" lengthAdjust="spacingAndGlyphs" fill="#444" stroke="none">5/2</text>
<text x="72.8" y="153.8" font-size="15.8" textLength="57.8" lengthAdjust="spacingAndGlyphs">T=293K</text>
<text x="72.8" y="311" font-size="15.8" textLength="57.8" lengthAdjust="spacingAndGlyphs">T=293K</text>
<text x="72.8" y="462.5" font-size="15.8" textLength="57.8" lengthAdjust="spacingAndGlyphs">T=293K</text>
<text x="413" y="146.7" font-size="22.6" textLength="40" lengthAdjust="spacingAndGlyphs">WO</text>
<text x="453.6" y="152.2" font-size="16.5">3</text>
<text x="428.4" y="300.9" font-size="22.6" textLength="40" lengthAdjust="spacingAndGlyphs">WO</text>
<text x="469.4" y="306.7" font-size="16.6" textLength="21.5" lengthAdjust="spacingAndGlyphs">2.9</text>
<text x="424.5" y="446.7" font-size="22.6" textLength="40" lengthAdjust="spacingAndGlyphs">WO</text>
<text x="464.6" y="453.3" font-size="16.6" textLength="31" lengthAdjust="spacingAndGlyphs">2.72</text>
<text transform="translate(27.3 400) rotate(-90)" font-size="20.6" textLength="167.5" lengthAdjust="spacingAndGlyphs">Intensity (arb. units)</text>
</g>
</svg>
</body></html>
